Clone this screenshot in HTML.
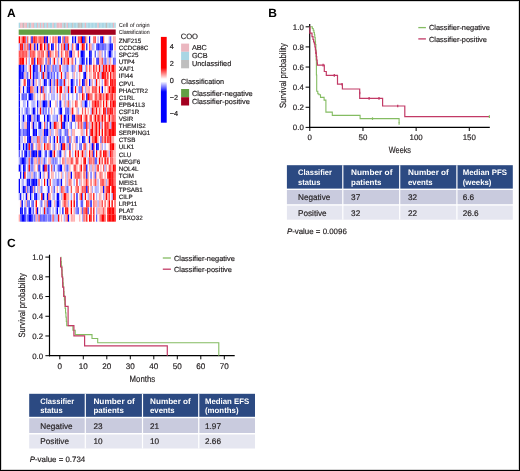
<!DOCTYPE html>
<html><head><meta charset="utf-8"><style>
html,body{margin:0;padding:0;background:#fff;}
svg{display:block;will-change:transform;}
text{font-family:"Liberation Sans",sans-serif;text-rendering:geometricPrecision;}
</style></head><body>
<svg width="520" height="471" viewBox="0 0 520 471">
<rect x="0" y="0" width="520" height="471" fill="#fff"/><g fill="#231f20">
<text x="7.00" y="16.90" font-size="12" font-weight="bold" fill="#000">A</text>
<text x="268.30" y="16.90" font-size="12" font-weight="bold" fill="#000">B</text>
<text x="6.90" y="247.30" font-size="12" font-weight="bold" fill="#000">C</text>
<rect x="18.70" y="22.70" width="1.46" height="5.20" fill="#a9d6e4"/>
<rect x="20.11" y="22.70" width="1.46" height="5.20" fill="#ebb7c0"/>
<rect x="21.51" y="22.70" width="1.46" height="5.20" fill="#ebb7c0"/>
<rect x="22.92" y="22.70" width="1.46" height="5.20" fill="#bebebe"/>
<rect x="24.32" y="22.70" width="1.46" height="5.20" fill="#ebb7c0"/>
<rect x="25.73" y="22.70" width="1.46" height="5.20" fill="#ebb7c0"/>
<rect x="27.13" y="22.70" width="1.46" height="5.20" fill="#a9d6e4"/>
<rect x="28.54" y="22.70" width="1.46" height="5.20" fill="#bebebe"/>
<rect x="29.95" y="22.70" width="1.46" height="5.20" fill="#a9d6e4"/>
<rect x="31.35" y="22.70" width="1.46" height="5.20" fill="#ebb7c0"/>
<rect x="32.76" y="22.70" width="1.46" height="5.20" fill="#ebb7c0"/>
<rect x="34.16" y="22.70" width="1.46" height="5.20" fill="#a9d6e4"/>
<rect x="35.57" y="22.70" width="1.46" height="5.20" fill="#a9d6e4"/>
<rect x="36.98" y="22.70" width="1.46" height="5.20" fill="#ebb7c0"/>
<rect x="38.38" y="22.70" width="1.46" height="5.20" fill="#a9d6e4"/>
<rect x="39.79" y="22.70" width="1.46" height="5.20" fill="#ebb7c0"/>
<rect x="41.19" y="22.70" width="1.46" height="5.20" fill="#a9d6e4"/>
<rect x="42.60" y="22.70" width="1.46" height="5.20" fill="#ebb7c0"/>
<rect x="44.00" y="22.70" width="1.46" height="5.20" fill="#a9d6e4"/>
<rect x="45.41" y="22.70" width="1.46" height="5.20" fill="#a9d6e4"/>
<rect x="46.82" y="22.70" width="1.46" height="5.20" fill="#ebb7c0"/>
<rect x="48.22" y="22.70" width="1.46" height="5.20" fill="#a9d6e4"/>
<rect x="49.63" y="22.70" width="1.46" height="5.20" fill="#a9d6e4"/>
<rect x="51.03" y="22.70" width="1.46" height="5.20" fill="#a9d6e4"/>
<rect x="52.44" y="22.70" width="1.46" height="5.20" fill="#ebb7c0"/>
<rect x="53.84" y="22.70" width="1.46" height="5.20" fill="#a9d6e4"/>
<rect x="55.25" y="22.70" width="1.46" height="5.20" fill="#a9d6e4"/>
<rect x="56.66" y="22.70" width="1.46" height="5.20" fill="#ebb7c0"/>
<rect x="58.06" y="22.70" width="1.46" height="5.20" fill="#ebb7c0"/>
<rect x="59.47" y="22.70" width="1.46" height="5.20" fill="#ebb7c0"/>
<rect x="60.87" y="22.70" width="1.46" height="5.20" fill="#ebb7c0"/>
<rect x="62.28" y="22.70" width="1.46" height="5.20" fill="#a9d6e4"/>
<rect x="63.69" y="22.70" width="1.46" height="5.20" fill="#bebebe"/>
<rect x="65.09" y="22.70" width="1.46" height="5.20" fill="#a9d6e4"/>
<rect x="66.50" y="22.70" width="1.46" height="5.20" fill="#ebb7c0"/>
<rect x="67.90" y="22.70" width="1.46" height="5.20" fill="#a9d6e4"/>
<rect x="69.31" y="22.70" width="1.46" height="5.20" fill="#a9d6e4"/>
<rect x="70.71" y="22.70" width="1.46" height="5.20" fill="#a9d6e4"/>
<rect x="72.12" y="22.70" width="1.46" height="5.20" fill="#bebebe"/>
<rect x="73.53" y="22.70" width="1.46" height="5.20" fill="#a9d6e4"/>
<rect x="74.93" y="22.70" width="1.46" height="5.20" fill="#a9d6e4"/>
<rect x="76.34" y="22.70" width="1.46" height="5.20" fill="#a9d6e4"/>
<rect x="77.74" y="22.70" width="1.46" height="5.20" fill="#bebebe"/>
<rect x="79.15" y="22.70" width="1.46" height="5.20" fill="#bebebe"/>
<rect x="80.56" y="22.70" width="1.46" height="5.20" fill="#bebebe"/>
<rect x="81.96" y="22.70" width="1.46" height="5.20" fill="#a9d6e4"/>
<rect x="83.37" y="22.70" width="1.46" height="5.20" fill="#a9d6e4"/>
<rect x="84.77" y="22.70" width="1.46" height="5.20" fill="#ebb7c0"/>
<rect x="86.18" y="22.70" width="1.46" height="5.20" fill="#a9d6e4"/>
<rect x="87.58" y="22.70" width="1.46" height="5.20" fill="#a9d6e4"/>
<rect x="88.99" y="22.70" width="1.46" height="5.20" fill="#a9d6e4"/>
<rect x="90.40" y="22.70" width="1.46" height="5.20" fill="#a9d6e4"/>
<rect x="91.80" y="22.70" width="1.46" height="5.20" fill="#a9d6e4"/>
<rect x="93.21" y="22.70" width="1.46" height="5.20" fill="#a9d6e4"/>
<rect x="94.61" y="22.70" width="1.46" height="5.20" fill="#a9d6e4"/>
<rect x="96.02" y="22.70" width="1.46" height="5.20" fill="#a9d6e4"/>
<rect x="97.42" y="22.70" width="1.46" height="5.20" fill="#ebb7c0"/>
<rect x="98.83" y="22.70" width="1.46" height="5.20" fill="#a9d6e4"/>
<rect x="100.24" y="22.70" width="1.46" height="5.20" fill="#a9d6e4"/>
<rect x="101.64" y="22.70" width="1.46" height="5.20" fill="#a9d6e4"/>
<rect x="103.05" y="22.70" width="1.46" height="5.20" fill="#a9d6e4"/>
<rect x="104.45" y="22.70" width="1.46" height="5.20" fill="#a9d6e4"/>
<rect x="105.86" y="22.70" width="1.46" height="5.20" fill="#bebebe"/>
<rect x="107.27" y="22.70" width="1.46" height="5.20" fill="#a9d6e4"/>
<rect x="108.67" y="22.70" width="1.46" height="5.20" fill="#a9d6e4"/>
<rect x="110.08" y="22.70" width="1.46" height="5.20" fill="#a9d6e4"/>
<rect x="111.48" y="22.70" width="1.46" height="5.20" fill="#a9d6e4"/>
<rect x="112.89" y="22.70" width="1.46" height="5.20" fill="#ebb7c0"/>
<rect x="114.29" y="22.70" width="1.46" height="5.20" fill="#a9d6e4"/>
<rect x="18.70" y="29.50" width="52.00" height="5.30" fill="#62a043"/>
<rect x="70.70" y="29.50" width="45.00" height="5.30" fill="#a3001f"/>
<defs><filter id="hb" x="-2%" y="-1%" width="104%" height="102%"><feGaussianBlur stdDeviation="0.35 0.25"/></filter></defs><g filter="url(#hb)">
<rect x="18.70" y="36.30" width="1.47" height="7.19" fill="rgb(255,0,0)"/>
<rect x="20.11" y="36.30" width="1.47" height="7.19" fill="rgb(255,170,170)"/>
<rect x="21.51" y="36.30" width="1.47" height="7.19" fill="rgb(255,85,85)"/>
<rect x="22.92" y="36.30" width="1.47" height="7.19" fill="rgb(255,0,0)"/>
<rect x="24.32" y="36.30" width="1.47" height="7.19" fill="rgb(255,0,0)"/>
<rect x="25.73" y="36.30" width="1.47" height="7.19" fill="rgb(175,175,255)"/>
<rect x="27.13" y="36.30" width="1.47" height="7.19" fill="rgb(255,85,85)"/>
<rect x="28.54" y="36.30" width="1.47" height="7.19" fill="rgb(255,250,250)"/>
<rect x="29.95" y="36.30" width="1.47" height="7.19" fill="rgb(255,170,170)"/>
<rect x="31.35" y="36.30" width="1.47" height="7.19" fill="rgb(0,0,255)"/>
<rect x="32.76" y="36.30" width="1.47" height="7.19" fill="rgb(255,85,85)"/>
<rect x="34.16" y="36.30" width="1.47" height="7.19" fill="rgb(255,0,0)"/>
<rect x="35.57" y="36.30" width="1.47" height="7.19" fill="rgb(255,85,85)"/>
<rect x="36.98" y="36.30" width="1.47" height="7.19" fill="rgb(255,170,170)"/>
<rect x="38.38" y="36.30" width="1.47" height="7.19" fill="rgb(255,85,85)"/>
<rect x="39.79" y="36.30" width="1.47" height="7.19" fill="rgb(255,85,85)"/>
<rect x="41.19" y="36.30" width="1.47" height="7.19" fill="rgb(255,85,85)"/>
<rect x="42.60" y="36.30" width="1.47" height="7.19" fill="rgb(255,85,85)"/>
<rect x="44.00" y="36.30" width="1.47" height="7.19" fill="rgb(0,0,255)"/>
<rect x="45.41" y="36.30" width="1.47" height="7.19" fill="rgb(170,0,110)"/>
<rect x="46.82" y="36.30" width="1.47" height="7.19" fill="rgb(0,0,255)"/>
<rect x="48.22" y="36.30" width="1.47" height="7.19" fill="rgb(255,250,250)"/>
<rect x="49.63" y="36.30" width="1.47" height="7.19" fill="rgb(255,170,170)"/>
<rect x="51.03" y="36.30" width="1.47" height="7.19" fill="rgb(255,250,250)"/>
<rect x="52.44" y="36.30" width="1.47" height="7.19" fill="rgb(255,85,85)"/>
<rect x="53.84" y="36.30" width="1.47" height="7.19" fill="rgb(255,170,170)"/>
<rect x="55.25" y="36.30" width="1.47" height="7.19" fill="rgb(255,85,85)"/>
<rect x="56.66" y="36.30" width="1.47" height="7.19" fill="rgb(255,170,170)"/>
<rect x="58.06" y="36.30" width="1.47" height="7.19" fill="rgb(0,0,255)"/>
<rect x="59.47" y="36.30" width="1.47" height="7.19" fill="rgb(0,0,255)"/>
<rect x="60.87" y="36.30" width="1.47" height="7.19" fill="rgb(255,250,250)"/>
<rect x="62.28" y="36.30" width="1.47" height="7.19" fill="rgb(255,85,85)"/>
<rect x="63.69" y="36.30" width="1.47" height="7.19" fill="rgb(95,95,255)"/>
<rect x="65.09" y="36.30" width="1.47" height="7.19" fill="rgb(255,85,85)"/>
<rect x="66.50" y="36.30" width="1.47" height="7.19" fill="rgb(255,85,85)"/>
<rect x="67.90" y="36.30" width="1.47" height="7.19" fill="rgb(255,170,170)"/>
<rect x="69.31" y="36.30" width="1.47" height="7.19" fill="rgb(255,250,250)"/>
<rect x="70.71" y="36.30" width="1.47" height="7.19" fill="rgb(255,250,250)"/>
<rect x="72.12" y="36.30" width="1.47" height="7.19" fill="rgb(0,0,255)"/>
<rect x="73.53" y="36.30" width="1.47" height="7.19" fill="rgb(175,175,255)"/>
<rect x="74.93" y="36.30" width="1.47" height="7.19" fill="rgb(0,0,255)"/>
<rect x="76.34" y="36.30" width="1.47" height="7.19" fill="rgb(255,250,250)"/>
<rect x="77.74" y="36.30" width="1.47" height="7.19" fill="rgb(255,85,85)"/>
<rect x="79.15" y="36.30" width="1.47" height="7.19" fill="rgb(255,85,85)"/>
<rect x="80.56" y="36.30" width="1.47" height="7.19" fill="rgb(255,0,0)"/>
<rect x="81.96" y="36.30" width="1.47" height="7.19" fill="rgb(0,0,255)"/>
<rect x="83.37" y="36.30" width="1.47" height="7.19" fill="rgb(0,0,255)"/>
<rect x="84.77" y="36.30" width="1.47" height="7.19" fill="rgb(255,85,85)"/>
<rect x="86.18" y="36.30" width="1.47" height="7.19" fill="rgb(255,170,170)"/>
<rect x="87.58" y="36.30" width="1.47" height="7.19" fill="rgb(255,250,250)"/>
<rect x="88.99" y="36.30" width="1.47" height="7.19" fill="rgb(0,0,255)"/>
<rect x="90.40" y="36.30" width="1.47" height="7.19" fill="rgb(255,250,250)"/>
<rect x="91.80" y="36.30" width="1.47" height="7.19" fill="rgb(255,250,250)"/>
<rect x="93.21" y="36.30" width="1.47" height="7.19" fill="rgb(255,85,85)"/>
<rect x="94.61" y="36.30" width="1.47" height="7.19" fill="rgb(255,85,85)"/>
<rect x="96.02" y="36.30" width="1.47" height="7.19" fill="rgb(255,250,250)"/>
<rect x="97.42" y="36.30" width="1.47" height="7.19" fill="rgb(175,175,255)"/>
<rect x="98.83" y="36.30" width="1.47" height="7.19" fill="rgb(255,250,250)"/>
<rect x="100.24" y="36.30" width="1.47" height="7.19" fill="rgb(0,0,255)"/>
<rect x="101.64" y="36.30" width="1.47" height="7.19" fill="rgb(0,0,255)"/>
<rect x="103.05" y="36.30" width="1.47" height="7.19" fill="rgb(255,85,85)"/>
<rect x="104.45" y="36.30" width="1.47" height="7.19" fill="rgb(255,250,250)"/>
<rect x="105.86" y="36.30" width="1.47" height="7.19" fill="rgb(255,250,250)"/>
<rect x="107.27" y="36.30" width="1.47" height="7.19" fill="rgb(255,250,250)"/>
<rect x="108.67" y="36.30" width="1.47" height="7.19" fill="rgb(175,175,255)"/>
<rect x="110.08" y="36.30" width="1.47" height="7.19" fill="rgb(95,95,255)"/>
<rect x="111.48" y="36.30" width="1.47" height="7.19" fill="rgb(255,250,250)"/>
<rect x="112.89" y="36.30" width="1.47" height="7.19" fill="rgb(255,170,170)"/>
<rect x="114.29" y="36.30" width="1.47" height="7.19" fill="rgb(255,170,170)"/>
<rect x="18.70" y="43.43" width="1.47" height="7.19" fill="rgb(175,175,255)"/>
<rect x="20.11" y="43.43" width="1.47" height="7.19" fill="rgb(255,0,0)"/>
<rect x="21.51" y="43.43" width="1.47" height="7.19" fill="rgb(255,0,0)"/>
<rect x="22.92" y="43.43" width="1.47" height="7.19" fill="rgb(175,175,255)"/>
<rect x="24.32" y="43.43" width="1.47" height="7.19" fill="rgb(255,85,85)"/>
<rect x="25.73" y="43.43" width="1.47" height="7.19" fill="rgb(255,170,170)"/>
<rect x="27.13" y="43.43" width="1.47" height="7.19" fill="rgb(255,85,85)"/>
<rect x="28.54" y="43.43" width="1.47" height="7.19" fill="rgb(95,95,255)"/>
<rect x="29.95" y="43.43" width="1.47" height="7.19" fill="rgb(255,0,0)"/>
<rect x="31.35" y="43.43" width="1.47" height="7.19" fill="rgb(255,170,170)"/>
<rect x="32.76" y="43.43" width="1.47" height="7.19" fill="rgb(255,170,170)"/>
<rect x="34.16" y="43.43" width="1.47" height="7.19" fill="rgb(0,0,255)"/>
<rect x="35.57" y="43.43" width="1.47" height="7.19" fill="rgb(255,170,170)"/>
<rect x="36.98" y="43.43" width="1.47" height="7.19" fill="rgb(0,0,255)"/>
<rect x="38.38" y="43.43" width="1.47" height="7.19" fill="rgb(255,250,250)"/>
<rect x="39.79" y="43.43" width="1.47" height="7.19" fill="rgb(255,0,0)"/>
<rect x="41.19" y="43.43" width="1.47" height="7.19" fill="rgb(255,0,0)"/>
<rect x="42.60" y="43.43" width="1.47" height="7.19" fill="rgb(255,250,250)"/>
<rect x="44.00" y="43.43" width="1.47" height="7.19" fill="rgb(255,0,0)"/>
<rect x="45.41" y="43.43" width="1.47" height="7.19" fill="rgb(255,170,170)"/>
<rect x="46.82" y="43.43" width="1.47" height="7.19" fill="rgb(95,95,255)"/>
<rect x="48.22" y="43.43" width="1.47" height="7.19" fill="rgb(255,0,0)"/>
<rect x="49.63" y="43.43" width="1.47" height="7.19" fill="rgb(255,250,250)"/>
<rect x="51.03" y="43.43" width="1.47" height="7.19" fill="rgb(0,0,255)"/>
<rect x="52.44" y="43.43" width="1.47" height="7.19" fill="rgb(0,0,255)"/>
<rect x="53.84" y="43.43" width="1.47" height="7.19" fill="rgb(255,250,250)"/>
<rect x="55.25" y="43.43" width="1.47" height="7.19" fill="rgb(255,85,85)"/>
<rect x="56.66" y="43.43" width="1.47" height="7.19" fill="rgb(255,250,250)"/>
<rect x="58.06" y="43.43" width="1.47" height="7.19" fill="rgb(95,95,255)"/>
<rect x="59.47" y="43.43" width="1.47" height="7.19" fill="rgb(255,250,250)"/>
<rect x="60.87" y="43.43" width="1.47" height="7.19" fill="rgb(255,85,85)"/>
<rect x="62.28" y="43.43" width="1.47" height="7.19" fill="rgb(255,170,170)"/>
<rect x="63.69" y="43.43" width="1.47" height="7.19" fill="rgb(255,0,0)"/>
<rect x="65.09" y="43.43" width="1.47" height="7.19" fill="rgb(95,95,255)"/>
<rect x="66.50" y="43.43" width="1.47" height="7.19" fill="rgb(95,95,255)"/>
<rect x="67.90" y="43.43" width="1.47" height="7.19" fill="rgb(255,0,0)"/>
<rect x="69.31" y="43.43" width="1.47" height="7.19" fill="rgb(255,250,250)"/>
<rect x="70.71" y="43.43" width="1.47" height="7.19" fill="rgb(175,175,255)"/>
<rect x="72.12" y="43.43" width="1.47" height="7.19" fill="rgb(255,85,85)"/>
<rect x="73.53" y="43.43" width="1.47" height="7.19" fill="rgb(255,250,250)"/>
<rect x="74.93" y="43.43" width="1.47" height="7.19" fill="rgb(255,170,170)"/>
<rect x="76.34" y="43.43" width="1.47" height="7.19" fill="rgb(0,0,255)"/>
<rect x="77.74" y="43.43" width="1.47" height="7.19" fill="rgb(0,0,255)"/>
<rect x="79.15" y="43.43" width="1.47" height="7.19" fill="rgb(255,250,250)"/>
<rect x="80.56" y="43.43" width="1.47" height="7.19" fill="rgb(255,170,170)"/>
<rect x="81.96" y="43.43" width="1.47" height="7.19" fill="rgb(255,0,0)"/>
<rect x="83.37" y="43.43" width="1.47" height="7.19" fill="rgb(255,0,0)"/>
<rect x="84.77" y="43.43" width="1.47" height="7.19" fill="rgb(255,250,250)"/>
<rect x="86.18" y="43.43" width="1.47" height="7.19" fill="rgb(0,0,255)"/>
<rect x="87.58" y="43.43" width="1.47" height="7.19" fill="rgb(255,250,250)"/>
<rect x="88.99" y="43.43" width="1.47" height="7.19" fill="rgb(255,85,85)"/>
<rect x="90.40" y="43.43" width="1.47" height="7.19" fill="rgb(255,170,170)"/>
<rect x="91.80" y="43.43" width="1.47" height="7.19" fill="rgb(175,175,255)"/>
<rect x="93.21" y="43.43" width="1.47" height="7.19" fill="rgb(175,175,255)"/>
<rect x="94.61" y="43.43" width="1.47" height="7.19" fill="rgb(255,250,250)"/>
<rect x="96.02" y="43.43" width="1.47" height="7.19" fill="rgb(95,95,255)"/>
<rect x="97.42" y="43.43" width="1.47" height="7.19" fill="rgb(0,0,255)"/>
<rect x="98.83" y="43.43" width="1.47" height="7.19" fill="rgb(95,95,255)"/>
<rect x="100.24" y="43.43" width="1.47" height="7.19" fill="rgb(95,95,255)"/>
<rect x="101.64" y="43.43" width="1.47" height="7.19" fill="rgb(95,95,255)"/>
<rect x="103.05" y="43.43" width="1.47" height="7.19" fill="rgb(95,95,255)"/>
<rect x="104.45" y="43.43" width="1.47" height="7.19" fill="rgb(95,95,255)"/>
<rect x="105.86" y="43.43" width="1.47" height="7.19" fill="rgb(175,175,255)"/>
<rect x="107.27" y="43.43" width="1.47" height="7.19" fill="rgb(175,175,255)"/>
<rect x="108.67" y="43.43" width="1.47" height="7.19" fill="rgb(95,95,255)"/>
<rect x="110.08" y="43.43" width="1.47" height="7.19" fill="rgb(0,0,255)"/>
<rect x="111.48" y="43.43" width="1.47" height="7.19" fill="rgb(0,0,255)"/>
<rect x="112.89" y="43.43" width="1.47" height="7.19" fill="rgb(255,250,250)"/>
<rect x="114.29" y="43.43" width="1.47" height="7.19" fill="rgb(255,170,170)"/>
<rect x="18.70" y="50.55" width="1.47" height="7.19" fill="rgb(255,85,85)"/>
<rect x="20.11" y="50.55" width="1.47" height="7.19" fill="rgb(255,85,85)"/>
<rect x="21.51" y="50.55" width="1.47" height="7.19" fill="rgb(255,85,85)"/>
<rect x="22.92" y="50.55" width="1.47" height="7.19" fill="rgb(255,85,85)"/>
<rect x="24.32" y="50.55" width="1.47" height="7.19" fill="rgb(255,85,85)"/>
<rect x="25.73" y="50.55" width="1.47" height="7.19" fill="rgb(255,85,85)"/>
<rect x="27.13" y="50.55" width="1.47" height="7.19" fill="rgb(255,170,170)"/>
<rect x="28.54" y="50.55" width="1.47" height="7.19" fill="rgb(175,175,255)"/>
<rect x="29.95" y="50.55" width="1.47" height="7.19" fill="rgb(255,85,85)"/>
<rect x="31.35" y="50.55" width="1.47" height="7.19" fill="rgb(255,85,85)"/>
<rect x="32.76" y="50.55" width="1.47" height="7.19" fill="rgb(255,85,85)"/>
<rect x="34.16" y="50.55" width="1.47" height="7.19" fill="rgb(255,85,85)"/>
<rect x="35.57" y="50.55" width="1.47" height="7.19" fill="rgb(255,250,250)"/>
<rect x="36.98" y="50.55" width="1.47" height="7.19" fill="rgb(255,170,170)"/>
<rect x="38.38" y="50.55" width="1.47" height="7.19" fill="rgb(255,85,85)"/>
<rect x="39.79" y="50.55" width="1.47" height="7.19" fill="rgb(255,170,170)"/>
<rect x="41.19" y="50.55" width="1.47" height="7.19" fill="rgb(255,85,85)"/>
<rect x="42.60" y="50.55" width="1.47" height="7.19" fill="rgb(255,85,85)"/>
<rect x="44.00" y="50.55" width="1.47" height="7.19" fill="rgb(255,250,250)"/>
<rect x="45.41" y="50.55" width="1.47" height="7.19" fill="rgb(255,170,170)"/>
<rect x="46.82" y="50.55" width="1.47" height="7.19" fill="rgb(255,85,85)"/>
<rect x="48.22" y="50.55" width="1.47" height="7.19" fill="rgb(0,0,255)"/>
<rect x="49.63" y="50.55" width="1.47" height="7.19" fill="rgb(255,85,85)"/>
<rect x="51.03" y="50.55" width="1.47" height="7.19" fill="rgb(255,170,170)"/>
<rect x="52.44" y="50.55" width="1.47" height="7.19" fill="rgb(255,170,170)"/>
<rect x="53.84" y="50.55" width="1.47" height="7.19" fill="rgb(255,250,250)"/>
<rect x="55.25" y="50.55" width="1.47" height="7.19" fill="rgb(255,85,85)"/>
<rect x="56.66" y="50.55" width="1.47" height="7.19" fill="rgb(255,170,170)"/>
<rect x="58.06" y="50.55" width="1.47" height="7.19" fill="rgb(95,95,255)"/>
<rect x="59.47" y="50.55" width="1.47" height="7.19" fill="rgb(255,250,250)"/>
<rect x="60.87" y="50.55" width="1.47" height="7.19" fill="rgb(255,85,85)"/>
<rect x="62.28" y="50.55" width="1.47" height="7.19" fill="rgb(255,170,170)"/>
<rect x="63.69" y="50.55" width="1.47" height="7.19" fill="rgb(255,250,250)"/>
<rect x="65.09" y="50.55" width="1.47" height="7.19" fill="rgb(255,85,85)"/>
<rect x="66.50" y="50.55" width="1.47" height="7.19" fill="rgb(255,85,85)"/>
<rect x="67.90" y="50.55" width="1.47" height="7.19" fill="rgb(255,170,170)"/>
<rect x="69.31" y="50.55" width="1.47" height="7.19" fill="rgb(0,0,255)"/>
<rect x="70.71" y="50.55" width="1.47" height="7.19" fill="rgb(0,0,255)"/>
<rect x="72.12" y="50.55" width="1.47" height="7.19" fill="rgb(255,170,170)"/>
<rect x="73.53" y="50.55" width="1.47" height="7.19" fill="rgb(255,170,170)"/>
<rect x="74.93" y="50.55" width="1.47" height="7.19" fill="rgb(255,250,250)"/>
<rect x="76.34" y="50.55" width="1.47" height="7.19" fill="rgb(255,250,250)"/>
<rect x="77.74" y="50.55" width="1.47" height="7.19" fill="rgb(255,85,85)"/>
<rect x="79.15" y="50.55" width="1.47" height="7.19" fill="rgb(255,250,250)"/>
<rect x="80.56" y="50.55" width="1.47" height="7.19" fill="rgb(0,0,255)"/>
<rect x="81.96" y="50.55" width="1.47" height="7.19" fill="rgb(0,0,255)"/>
<rect x="83.37" y="50.55" width="1.47" height="7.19" fill="rgb(0,0,255)"/>
<rect x="84.77" y="50.55" width="1.47" height="7.19" fill="rgb(255,250,250)"/>
<rect x="86.18" y="50.55" width="1.47" height="7.19" fill="rgb(255,250,250)"/>
<rect x="87.58" y="50.55" width="1.47" height="7.19" fill="rgb(255,250,250)"/>
<rect x="88.99" y="50.55" width="1.47" height="7.19" fill="rgb(0,0,255)"/>
<rect x="90.40" y="50.55" width="1.47" height="7.19" fill="rgb(0,0,255)"/>
<rect x="91.80" y="50.55" width="1.47" height="7.19" fill="rgb(255,250,250)"/>
<rect x="93.21" y="50.55" width="1.47" height="7.19" fill="rgb(255,250,250)"/>
<rect x="94.61" y="50.55" width="1.47" height="7.19" fill="rgb(95,95,255)"/>
<rect x="96.02" y="50.55" width="1.47" height="7.19" fill="rgb(255,250,250)"/>
<rect x="97.42" y="50.55" width="1.47" height="7.19" fill="rgb(175,175,255)"/>
<rect x="98.83" y="50.55" width="1.47" height="7.19" fill="rgb(255,170,170)"/>
<rect x="100.24" y="50.55" width="1.47" height="7.19" fill="rgb(255,170,170)"/>
<rect x="101.64" y="50.55" width="1.47" height="7.19" fill="rgb(175,175,255)"/>
<rect x="103.05" y="50.55" width="1.47" height="7.19" fill="rgb(255,250,250)"/>
<rect x="104.45" y="50.55" width="1.47" height="7.19" fill="rgb(95,95,255)"/>
<rect x="105.86" y="50.55" width="1.47" height="7.19" fill="rgb(255,250,250)"/>
<rect x="107.27" y="50.55" width="1.47" height="7.19" fill="rgb(175,175,255)"/>
<rect x="108.67" y="50.55" width="1.47" height="7.19" fill="rgb(0,0,255)"/>
<rect x="110.08" y="50.55" width="1.47" height="7.19" fill="rgb(0,0,255)"/>
<rect x="111.48" y="50.55" width="1.47" height="7.19" fill="rgb(175,175,255)"/>
<rect x="112.89" y="50.55" width="1.47" height="7.19" fill="rgb(255,250,250)"/>
<rect x="114.29" y="50.55" width="1.47" height="7.19" fill="rgb(175,175,255)"/>
<rect x="18.70" y="57.68" width="1.47" height="7.19" fill="rgb(255,85,85)"/>
<rect x="20.11" y="57.68" width="1.47" height="7.19" fill="rgb(255,0,0)"/>
<rect x="21.51" y="57.68" width="1.47" height="7.19" fill="rgb(255,0,0)"/>
<rect x="22.92" y="57.68" width="1.47" height="7.19" fill="rgb(255,0,0)"/>
<rect x="24.32" y="57.68" width="1.47" height="7.19" fill="rgb(255,250,250)"/>
<rect x="25.73" y="57.68" width="1.47" height="7.19" fill="rgb(255,85,85)"/>
<rect x="27.13" y="57.68" width="1.47" height="7.19" fill="rgb(255,250,250)"/>
<rect x="28.54" y="57.68" width="1.47" height="7.19" fill="rgb(175,175,255)"/>
<rect x="29.95" y="57.68" width="1.47" height="7.19" fill="rgb(255,250,250)"/>
<rect x="31.35" y="57.68" width="1.47" height="7.19" fill="rgb(255,0,0)"/>
<rect x="32.76" y="57.68" width="1.47" height="7.19" fill="rgb(255,85,85)"/>
<rect x="34.16" y="57.68" width="1.47" height="7.19" fill="rgb(0,0,255)"/>
<rect x="35.57" y="57.68" width="1.47" height="7.19" fill="rgb(255,250,250)"/>
<rect x="36.98" y="57.68" width="1.47" height="7.19" fill="rgb(255,0,0)"/>
<rect x="38.38" y="57.68" width="1.47" height="7.19" fill="rgb(255,85,85)"/>
<rect x="39.79" y="57.68" width="1.47" height="7.19" fill="rgb(255,85,85)"/>
<rect x="41.19" y="57.68" width="1.47" height="7.19" fill="rgb(255,85,85)"/>
<rect x="42.60" y="57.68" width="1.47" height="7.19" fill="rgb(255,170,170)"/>
<rect x="44.00" y="57.68" width="1.47" height="7.19" fill="rgb(255,250,250)"/>
<rect x="45.41" y="57.68" width="1.47" height="7.19" fill="rgb(95,95,255)"/>
<rect x="46.82" y="57.68" width="1.47" height="7.19" fill="rgb(255,170,170)"/>
<rect x="48.22" y="57.68" width="1.47" height="7.19" fill="rgb(255,85,85)"/>
<rect x="49.63" y="57.68" width="1.47" height="7.19" fill="rgb(95,95,255)"/>
<rect x="51.03" y="57.68" width="1.47" height="7.19" fill="rgb(255,250,250)"/>
<rect x="52.44" y="57.68" width="1.47" height="7.19" fill="rgb(255,170,170)"/>
<rect x="53.84" y="57.68" width="1.47" height="7.19" fill="rgb(255,0,0)"/>
<rect x="55.25" y="57.68" width="1.47" height="7.19" fill="rgb(255,250,250)"/>
<rect x="56.66" y="57.68" width="1.47" height="7.19" fill="rgb(175,175,255)"/>
<rect x="58.06" y="57.68" width="1.47" height="7.19" fill="rgb(255,170,170)"/>
<rect x="59.47" y="57.68" width="1.47" height="7.19" fill="rgb(255,250,250)"/>
<rect x="60.87" y="57.68" width="1.47" height="7.19" fill="rgb(0,0,255)"/>
<rect x="62.28" y="57.68" width="1.47" height="7.19" fill="rgb(255,170,170)"/>
<rect x="63.69" y="57.68" width="1.47" height="7.19" fill="rgb(255,85,85)"/>
<rect x="65.09" y="57.68" width="1.47" height="7.19" fill="rgb(255,170,170)"/>
<rect x="66.50" y="57.68" width="1.47" height="7.19" fill="rgb(255,85,85)"/>
<rect x="67.90" y="57.68" width="1.47" height="7.19" fill="rgb(255,0,0)"/>
<rect x="69.31" y="57.68" width="1.47" height="7.19" fill="rgb(255,250,250)"/>
<rect x="70.71" y="57.68" width="1.47" height="7.19" fill="rgb(255,170,170)"/>
<rect x="72.12" y="57.68" width="1.47" height="7.19" fill="rgb(255,85,85)"/>
<rect x="73.53" y="57.68" width="1.47" height="7.19" fill="rgb(255,250,250)"/>
<rect x="74.93" y="57.68" width="1.47" height="7.19" fill="rgb(95,95,255)"/>
<rect x="76.34" y="57.68" width="1.47" height="7.19" fill="rgb(255,250,250)"/>
<rect x="77.74" y="57.68" width="1.47" height="7.19" fill="rgb(255,250,250)"/>
<rect x="79.15" y="57.68" width="1.47" height="7.19" fill="rgb(175,175,255)"/>
<rect x="80.56" y="57.68" width="1.47" height="7.19" fill="rgb(95,95,255)"/>
<rect x="81.96" y="57.68" width="1.47" height="7.19" fill="rgb(0,0,255)"/>
<rect x="83.37" y="57.68" width="1.47" height="7.19" fill="rgb(0,0,255)"/>
<rect x="84.77" y="57.68" width="1.47" height="7.19" fill="rgb(255,250,250)"/>
<rect x="86.18" y="57.68" width="1.47" height="7.19" fill="rgb(0,0,255)"/>
<rect x="87.58" y="57.68" width="1.47" height="7.19" fill="rgb(255,250,250)"/>
<rect x="88.99" y="57.68" width="1.47" height="7.19" fill="rgb(0,0,255)"/>
<rect x="90.40" y="57.68" width="1.47" height="7.19" fill="rgb(0,0,255)"/>
<rect x="91.80" y="57.68" width="1.47" height="7.19" fill="rgb(255,250,250)"/>
<rect x="93.21" y="57.68" width="1.47" height="7.19" fill="rgb(255,170,170)"/>
<rect x="94.61" y="57.68" width="1.47" height="7.19" fill="rgb(255,250,250)"/>
<rect x="96.02" y="57.68" width="1.47" height="7.19" fill="rgb(95,95,255)"/>
<rect x="97.42" y="57.68" width="1.47" height="7.19" fill="rgb(0,0,255)"/>
<rect x="98.83" y="57.68" width="1.47" height="7.19" fill="rgb(255,170,170)"/>
<rect x="100.24" y="57.68" width="1.47" height="7.19" fill="rgb(255,170,170)"/>
<rect x="101.64" y="57.68" width="1.47" height="7.19" fill="rgb(255,85,85)"/>
<rect x="103.05" y="57.68" width="1.47" height="7.19" fill="rgb(175,175,255)"/>
<rect x="104.45" y="57.68" width="1.47" height="7.19" fill="rgb(95,95,255)"/>
<rect x="105.86" y="57.68" width="1.47" height="7.19" fill="rgb(175,175,255)"/>
<rect x="107.27" y="57.68" width="1.47" height="7.19" fill="rgb(255,170,170)"/>
<rect x="108.67" y="57.68" width="1.47" height="7.19" fill="rgb(175,175,255)"/>
<rect x="110.08" y="57.68" width="1.47" height="7.19" fill="rgb(255,170,170)"/>
<rect x="111.48" y="57.68" width="1.47" height="7.19" fill="rgb(255,250,250)"/>
<rect x="112.89" y="57.68" width="1.47" height="7.19" fill="rgb(95,95,255)"/>
<rect x="114.29" y="57.68" width="1.47" height="7.19" fill="rgb(95,95,255)"/>
<rect x="18.70" y="64.81" width="1.47" height="7.19" fill="rgb(0,0,255)"/>
<rect x="20.11" y="64.81" width="1.47" height="7.19" fill="rgb(0,0,255)"/>
<rect x="21.51" y="64.81" width="1.47" height="7.19" fill="rgb(95,95,255)"/>
<rect x="22.92" y="64.81" width="1.47" height="7.19" fill="rgb(0,0,255)"/>
<rect x="24.32" y="64.81" width="1.47" height="7.19" fill="rgb(175,175,255)"/>
<rect x="25.73" y="64.81" width="1.47" height="7.19" fill="rgb(175,175,255)"/>
<rect x="27.13" y="64.81" width="1.47" height="7.19" fill="rgb(255,250,250)"/>
<rect x="28.54" y="64.81" width="1.47" height="7.19" fill="rgb(255,170,170)"/>
<rect x="29.95" y="64.81" width="1.47" height="7.19" fill="rgb(255,0,0)"/>
<rect x="31.35" y="64.81" width="1.47" height="7.19" fill="rgb(255,250,250)"/>
<rect x="32.76" y="64.81" width="1.47" height="7.19" fill="rgb(0,0,255)"/>
<rect x="34.16" y="64.81" width="1.47" height="7.19" fill="rgb(0,0,255)"/>
<rect x="35.57" y="64.81" width="1.47" height="7.19" fill="rgb(95,95,255)"/>
<rect x="36.98" y="64.81" width="1.47" height="7.19" fill="rgb(95,95,255)"/>
<rect x="38.38" y="64.81" width="1.47" height="7.19" fill="rgb(255,250,250)"/>
<rect x="39.79" y="64.81" width="1.47" height="7.19" fill="rgb(255,0,0)"/>
<rect x="41.19" y="64.81" width="1.47" height="7.19" fill="rgb(95,95,255)"/>
<rect x="42.60" y="64.81" width="1.47" height="7.19" fill="rgb(255,250,250)"/>
<rect x="44.00" y="64.81" width="1.47" height="7.19" fill="rgb(0,0,255)"/>
<rect x="45.41" y="64.81" width="1.47" height="7.19" fill="rgb(255,170,170)"/>
<rect x="46.82" y="64.81" width="1.47" height="7.19" fill="rgb(95,95,255)"/>
<rect x="48.22" y="64.81" width="1.47" height="7.19" fill="rgb(95,95,255)"/>
<rect x="49.63" y="64.81" width="1.47" height="7.19" fill="rgb(175,175,255)"/>
<rect x="51.03" y="64.81" width="1.47" height="7.19" fill="rgb(255,170,170)"/>
<rect x="52.44" y="64.81" width="1.47" height="7.19" fill="rgb(95,95,255)"/>
<rect x="53.84" y="64.81" width="1.47" height="7.19" fill="rgb(175,175,255)"/>
<rect x="55.25" y="64.81" width="1.47" height="7.19" fill="rgb(95,95,255)"/>
<rect x="56.66" y="64.81" width="1.47" height="7.19" fill="rgb(175,175,255)"/>
<rect x="58.06" y="64.81" width="1.47" height="7.19" fill="rgb(175,175,255)"/>
<rect x="59.47" y="64.81" width="1.47" height="7.19" fill="rgb(255,0,0)"/>
<rect x="60.87" y="64.81" width="1.47" height="7.19" fill="rgb(255,250,250)"/>
<rect x="62.28" y="64.81" width="1.47" height="7.19" fill="rgb(175,175,255)"/>
<rect x="63.69" y="64.81" width="1.47" height="7.19" fill="rgb(175,175,255)"/>
<rect x="65.09" y="64.81" width="1.47" height="7.19" fill="rgb(175,175,255)"/>
<rect x="66.50" y="64.81" width="1.47" height="7.19" fill="rgb(95,95,255)"/>
<rect x="67.90" y="64.81" width="1.47" height="7.19" fill="rgb(175,175,255)"/>
<rect x="69.31" y="64.81" width="1.47" height="7.19" fill="rgb(255,250,250)"/>
<rect x="70.71" y="64.81" width="1.47" height="7.19" fill="rgb(175,175,255)"/>
<rect x="72.12" y="64.81" width="1.47" height="7.19" fill="rgb(95,95,255)"/>
<rect x="73.53" y="64.81" width="1.47" height="7.19" fill="rgb(175,175,255)"/>
<rect x="74.93" y="64.81" width="1.47" height="7.19" fill="rgb(255,170,170)"/>
<rect x="76.34" y="64.81" width="1.47" height="7.19" fill="rgb(255,250,250)"/>
<rect x="77.74" y="64.81" width="1.47" height="7.19" fill="rgb(175,175,255)"/>
<rect x="79.15" y="64.81" width="1.47" height="7.19" fill="rgb(255,0,0)"/>
<rect x="80.56" y="64.81" width="1.47" height="7.19" fill="rgb(255,0,0)"/>
<rect x="81.96" y="64.81" width="1.47" height="7.19" fill="rgb(175,175,255)"/>
<rect x="83.37" y="64.81" width="1.47" height="7.19" fill="rgb(255,250,250)"/>
<rect x="84.77" y="64.81" width="1.47" height="7.19" fill="rgb(175,175,255)"/>
<rect x="86.18" y="64.81" width="1.47" height="7.19" fill="rgb(255,85,85)"/>
<rect x="87.58" y="64.81" width="1.47" height="7.19" fill="rgb(255,250,250)"/>
<rect x="88.99" y="64.81" width="1.47" height="7.19" fill="rgb(255,85,85)"/>
<rect x="90.40" y="64.81" width="1.47" height="7.19" fill="rgb(255,170,170)"/>
<rect x="91.80" y="64.81" width="1.47" height="7.19" fill="rgb(255,250,250)"/>
<rect x="93.21" y="64.81" width="1.47" height="7.19" fill="rgb(255,0,0)"/>
<rect x="94.61" y="64.81" width="1.47" height="7.19" fill="rgb(255,170,170)"/>
<rect x="96.02" y="64.81" width="1.47" height="7.19" fill="rgb(255,85,85)"/>
<rect x="97.42" y="64.81" width="1.47" height="7.19" fill="rgb(255,250,250)"/>
<rect x="98.83" y="64.81" width="1.47" height="7.19" fill="rgb(255,0,0)"/>
<rect x="100.24" y="64.81" width="1.47" height="7.19" fill="rgb(255,170,170)"/>
<rect x="101.64" y="64.81" width="1.47" height="7.19" fill="rgb(175,175,255)"/>
<rect x="103.05" y="64.81" width="1.47" height="7.19" fill="rgb(255,0,0)"/>
<rect x="104.45" y="64.81" width="1.47" height="7.19" fill="rgb(255,85,85)"/>
<rect x="105.86" y="64.81" width="1.47" height="7.19" fill="rgb(255,0,0)"/>
<rect x="107.27" y="64.81" width="1.47" height="7.19" fill="rgb(255,170,170)"/>
<rect x="108.67" y="64.81" width="1.47" height="7.19" fill="rgb(255,0,0)"/>
<rect x="110.08" y="64.81" width="1.47" height="7.19" fill="rgb(255,170,170)"/>
<rect x="111.48" y="64.81" width="1.47" height="7.19" fill="rgb(255,0,0)"/>
<rect x="112.89" y="64.81" width="1.47" height="7.19" fill="rgb(255,0,0)"/>
<rect x="114.29" y="64.81" width="1.47" height="7.19" fill="rgb(255,85,85)"/>
<rect x="18.70" y="71.93" width="1.47" height="7.19" fill="rgb(0,0,255)"/>
<rect x="20.11" y="71.93" width="1.47" height="7.19" fill="rgb(0,0,255)"/>
<rect x="21.51" y="71.93" width="1.47" height="7.19" fill="rgb(0,0,255)"/>
<rect x="22.92" y="71.93" width="1.47" height="7.19" fill="rgb(95,95,255)"/>
<rect x="24.32" y="71.93" width="1.47" height="7.19" fill="rgb(255,170,170)"/>
<rect x="25.73" y="71.93" width="1.47" height="7.19" fill="rgb(175,175,255)"/>
<rect x="27.13" y="71.93" width="1.47" height="7.19" fill="rgb(95,95,255)"/>
<rect x="28.54" y="71.93" width="1.47" height="7.19" fill="rgb(255,250,250)"/>
<rect x="29.95" y="71.93" width="1.47" height="7.19" fill="rgb(255,0,0)"/>
<rect x="31.35" y="71.93" width="1.47" height="7.19" fill="rgb(255,250,250)"/>
<rect x="32.76" y="71.93" width="1.47" height="7.19" fill="rgb(0,0,255)"/>
<rect x="34.16" y="71.93" width="1.47" height="7.19" fill="rgb(95,95,255)"/>
<rect x="35.57" y="71.93" width="1.47" height="7.19" fill="rgb(95,95,255)"/>
<rect x="36.98" y="71.93" width="1.47" height="7.19" fill="rgb(95,95,255)"/>
<rect x="38.38" y="71.93" width="1.47" height="7.19" fill="rgb(175,175,255)"/>
<rect x="39.79" y="71.93" width="1.47" height="7.19" fill="rgb(255,250,250)"/>
<rect x="41.19" y="71.93" width="1.47" height="7.19" fill="rgb(95,95,255)"/>
<rect x="42.60" y="71.93" width="1.47" height="7.19" fill="rgb(255,0,0)"/>
<rect x="44.00" y="71.93" width="1.47" height="7.19" fill="rgb(175,175,255)"/>
<rect x="45.41" y="71.93" width="1.47" height="7.19" fill="rgb(255,170,170)"/>
<rect x="46.82" y="71.93" width="1.47" height="7.19" fill="rgb(95,95,255)"/>
<rect x="48.22" y="71.93" width="1.47" height="7.19" fill="rgb(0,0,255)"/>
<rect x="49.63" y="71.93" width="1.47" height="7.19" fill="rgb(175,175,255)"/>
<rect x="51.03" y="71.93" width="1.47" height="7.19" fill="rgb(95,95,255)"/>
<rect x="52.44" y="71.93" width="1.47" height="7.19" fill="rgb(175,175,255)"/>
<rect x="53.84" y="71.93" width="1.47" height="7.19" fill="rgb(95,95,255)"/>
<rect x="55.25" y="71.93" width="1.47" height="7.19" fill="rgb(255,250,250)"/>
<rect x="56.66" y="71.93" width="1.47" height="7.19" fill="rgb(95,95,255)"/>
<rect x="58.06" y="71.93" width="1.47" height="7.19" fill="rgb(175,175,255)"/>
<rect x="59.47" y="71.93" width="1.47" height="7.19" fill="rgb(255,250,250)"/>
<rect x="60.87" y="71.93" width="1.47" height="7.19" fill="rgb(255,0,0)"/>
<rect x="62.28" y="71.93" width="1.47" height="7.19" fill="rgb(255,250,250)"/>
<rect x="63.69" y="71.93" width="1.47" height="7.19" fill="rgb(175,175,255)"/>
<rect x="65.09" y="71.93" width="1.47" height="7.19" fill="rgb(95,95,255)"/>
<rect x="66.50" y="71.93" width="1.47" height="7.19" fill="rgb(255,170,170)"/>
<rect x="67.90" y="71.93" width="1.47" height="7.19" fill="rgb(255,170,170)"/>
<rect x="69.31" y="71.93" width="1.47" height="7.19" fill="rgb(255,250,250)"/>
<rect x="70.71" y="71.93" width="1.47" height="7.19" fill="rgb(255,250,250)"/>
<rect x="72.12" y="71.93" width="1.47" height="7.19" fill="rgb(175,175,255)"/>
<rect x="73.53" y="71.93" width="1.47" height="7.19" fill="rgb(255,170,170)"/>
<rect x="74.93" y="71.93" width="1.47" height="7.19" fill="rgb(255,250,250)"/>
<rect x="76.34" y="71.93" width="1.47" height="7.19" fill="rgb(175,175,255)"/>
<rect x="77.74" y="71.93" width="1.47" height="7.19" fill="rgb(255,250,250)"/>
<rect x="79.15" y="71.93" width="1.47" height="7.19" fill="rgb(255,170,170)"/>
<rect x="80.56" y="71.93" width="1.47" height="7.19" fill="rgb(255,250,250)"/>
<rect x="81.96" y="71.93" width="1.47" height="7.19" fill="rgb(255,250,250)"/>
<rect x="83.37" y="71.93" width="1.47" height="7.19" fill="rgb(0,0,255)"/>
<rect x="84.77" y="71.93" width="1.47" height="7.19" fill="rgb(0,0,255)"/>
<rect x="86.18" y="71.93" width="1.47" height="7.19" fill="rgb(255,170,170)"/>
<rect x="87.58" y="71.93" width="1.47" height="7.19" fill="rgb(255,250,250)"/>
<rect x="88.99" y="71.93" width="1.47" height="7.19" fill="rgb(255,170,170)"/>
<rect x="90.40" y="71.93" width="1.47" height="7.19" fill="rgb(255,170,170)"/>
<rect x="91.80" y="71.93" width="1.47" height="7.19" fill="rgb(255,250,250)"/>
<rect x="93.21" y="71.93" width="1.47" height="7.19" fill="rgb(255,85,85)"/>
<rect x="94.61" y="71.93" width="1.47" height="7.19" fill="rgb(255,85,85)"/>
<rect x="96.02" y="71.93" width="1.47" height="7.19" fill="rgb(255,250,250)"/>
<rect x="97.42" y="71.93" width="1.47" height="7.19" fill="rgb(255,0,0)"/>
<rect x="98.83" y="71.93" width="1.47" height="7.19" fill="rgb(255,170,170)"/>
<rect x="100.24" y="71.93" width="1.47" height="7.19" fill="rgb(175,175,255)"/>
<rect x="101.64" y="71.93" width="1.47" height="7.19" fill="rgb(255,0,0)"/>
<rect x="103.05" y="71.93" width="1.47" height="7.19" fill="rgb(255,0,0)"/>
<rect x="104.45" y="71.93" width="1.47" height="7.19" fill="rgb(255,0,0)"/>
<rect x="105.86" y="71.93" width="1.47" height="7.19" fill="rgb(255,170,170)"/>
<rect x="107.27" y="71.93" width="1.47" height="7.19" fill="rgb(255,0,0)"/>
<rect x="108.67" y="71.93" width="1.47" height="7.19" fill="rgb(255,250,250)"/>
<rect x="110.08" y="71.93" width="1.47" height="7.19" fill="rgb(255,0,0)"/>
<rect x="111.48" y="71.93" width="1.47" height="7.19" fill="rgb(255,170,170)"/>
<rect x="112.89" y="71.93" width="1.47" height="7.19" fill="rgb(255,85,85)"/>
<rect x="114.29" y="71.93" width="1.47" height="7.19" fill="rgb(255,85,85)"/>
<rect x="18.70" y="79.06" width="1.47" height="7.19" fill="rgb(0,0,255)"/>
<rect x="20.11" y="79.06" width="1.47" height="7.19" fill="rgb(175,175,255)"/>
<rect x="21.51" y="79.06" width="1.47" height="7.19" fill="rgb(255,250,250)"/>
<rect x="22.92" y="79.06" width="1.47" height="7.19" fill="rgb(255,170,170)"/>
<rect x="24.32" y="79.06" width="1.47" height="7.19" fill="rgb(255,0,0)"/>
<rect x="25.73" y="79.06" width="1.47" height="7.19" fill="rgb(255,250,250)"/>
<rect x="27.13" y="79.06" width="1.47" height="7.19" fill="rgb(0,0,255)"/>
<rect x="28.54" y="79.06" width="1.47" height="7.19" fill="rgb(0,0,255)"/>
<rect x="29.95" y="79.06" width="1.47" height="7.19" fill="rgb(175,175,255)"/>
<rect x="31.35" y="79.06" width="1.47" height="7.19" fill="rgb(255,170,170)"/>
<rect x="32.76" y="79.06" width="1.47" height="7.19" fill="rgb(0,0,255)"/>
<rect x="34.16" y="79.06" width="1.47" height="7.19" fill="rgb(175,175,255)"/>
<rect x="35.57" y="79.06" width="1.47" height="7.19" fill="rgb(255,170,170)"/>
<rect x="36.98" y="79.06" width="1.47" height="7.19" fill="rgb(255,250,250)"/>
<rect x="38.38" y="79.06" width="1.47" height="7.19" fill="rgb(175,175,255)"/>
<rect x="39.79" y="79.06" width="1.47" height="7.19" fill="rgb(255,170,170)"/>
<rect x="41.19" y="79.06" width="1.47" height="7.19" fill="rgb(255,250,250)"/>
<rect x="42.60" y="79.06" width="1.47" height="7.19" fill="rgb(175,175,255)"/>
<rect x="44.00" y="79.06" width="1.47" height="7.19" fill="rgb(0,0,255)"/>
<rect x="45.41" y="79.06" width="1.47" height="7.19" fill="rgb(0,0,255)"/>
<rect x="46.82" y="79.06" width="1.47" height="7.19" fill="rgb(255,250,250)"/>
<rect x="48.22" y="79.06" width="1.47" height="7.19" fill="rgb(175,175,255)"/>
<rect x="49.63" y="79.06" width="1.47" height="7.19" fill="rgb(0,0,255)"/>
<rect x="51.03" y="79.06" width="1.47" height="7.19" fill="rgb(255,170,170)"/>
<rect x="52.44" y="79.06" width="1.47" height="7.19" fill="rgb(175,175,255)"/>
<rect x="53.84" y="79.06" width="1.47" height="7.19" fill="rgb(95,95,255)"/>
<rect x="55.25" y="79.06" width="1.47" height="7.19" fill="rgb(255,170,170)"/>
<rect x="56.66" y="79.06" width="1.47" height="7.19" fill="rgb(255,0,0)"/>
<rect x="58.06" y="79.06" width="1.47" height="7.19" fill="rgb(175,175,255)"/>
<rect x="59.47" y="79.06" width="1.47" height="7.19" fill="rgb(95,95,255)"/>
<rect x="60.87" y="79.06" width="1.47" height="7.19" fill="rgb(95,95,255)"/>
<rect x="62.28" y="79.06" width="1.47" height="7.19" fill="rgb(175,175,255)"/>
<rect x="63.69" y="79.06" width="1.47" height="7.19" fill="rgb(255,0,0)"/>
<rect x="65.09" y="79.06" width="1.47" height="7.19" fill="rgb(175,175,255)"/>
<rect x="66.50" y="79.06" width="1.47" height="7.19" fill="rgb(255,250,250)"/>
<rect x="67.90" y="79.06" width="1.47" height="7.19" fill="rgb(255,170,170)"/>
<rect x="69.31" y="79.06" width="1.47" height="7.19" fill="rgb(255,250,250)"/>
<rect x="70.71" y="79.06" width="1.47" height="7.19" fill="rgb(0,0,255)"/>
<rect x="72.12" y="79.06" width="1.47" height="7.19" fill="rgb(0,0,255)"/>
<rect x="73.53" y="79.06" width="1.47" height="7.19" fill="rgb(175,175,255)"/>
<rect x="74.93" y="79.06" width="1.47" height="7.19" fill="rgb(255,250,250)"/>
<rect x="76.34" y="79.06" width="1.47" height="7.19" fill="rgb(95,95,255)"/>
<rect x="77.74" y="79.06" width="1.47" height="7.19" fill="rgb(255,250,250)"/>
<rect x="79.15" y="79.06" width="1.47" height="7.19" fill="rgb(255,85,85)"/>
<rect x="80.56" y="79.06" width="1.47" height="7.19" fill="rgb(255,250,250)"/>
<rect x="81.96" y="79.06" width="1.47" height="7.19" fill="rgb(0,0,255)"/>
<rect x="83.37" y="79.06" width="1.47" height="7.19" fill="rgb(0,0,255)"/>
<rect x="84.77" y="79.06" width="1.47" height="7.19" fill="rgb(255,170,170)"/>
<rect x="86.18" y="79.06" width="1.47" height="7.19" fill="rgb(255,85,85)"/>
<rect x="87.58" y="79.06" width="1.47" height="7.19" fill="rgb(255,250,250)"/>
<rect x="88.99" y="79.06" width="1.47" height="7.19" fill="rgb(0,0,255)"/>
<rect x="90.40" y="79.06" width="1.47" height="7.19" fill="rgb(175,175,255)"/>
<rect x="91.80" y="79.06" width="1.47" height="7.19" fill="rgb(255,170,170)"/>
<rect x="93.21" y="79.06" width="1.47" height="7.19" fill="rgb(255,250,250)"/>
<rect x="94.61" y="79.06" width="1.47" height="7.19" fill="rgb(175,175,255)"/>
<rect x="96.02" y="79.06" width="1.47" height="7.19" fill="rgb(255,0,0)"/>
<rect x="97.42" y="79.06" width="1.47" height="7.19" fill="rgb(255,250,250)"/>
<rect x="98.83" y="79.06" width="1.47" height="7.19" fill="rgb(255,170,170)"/>
<rect x="100.24" y="79.06" width="1.47" height="7.19" fill="rgb(255,250,250)"/>
<rect x="101.64" y="79.06" width="1.47" height="7.19" fill="rgb(175,175,255)"/>
<rect x="103.05" y="79.06" width="1.47" height="7.19" fill="rgb(255,250,250)"/>
<rect x="104.45" y="79.06" width="1.47" height="7.19" fill="rgb(255,0,0)"/>
<rect x="105.86" y="79.06" width="1.47" height="7.19" fill="rgb(255,85,85)"/>
<rect x="107.27" y="79.06" width="1.47" height="7.19" fill="rgb(255,85,85)"/>
<rect x="108.67" y="79.06" width="1.47" height="7.19" fill="rgb(255,250,250)"/>
<rect x="110.08" y="79.06" width="1.47" height="7.19" fill="rgb(255,0,0)"/>
<rect x="111.48" y="79.06" width="1.47" height="7.19" fill="rgb(255,0,0)"/>
<rect x="112.89" y="79.06" width="1.47" height="7.19" fill="rgb(255,85,85)"/>
<rect x="114.29" y="79.06" width="1.47" height="7.19" fill="rgb(255,0,0)"/>
<rect x="18.70" y="86.19" width="1.47" height="7.19" fill="rgb(0,0,255)"/>
<rect x="20.11" y="86.19" width="1.47" height="7.19" fill="rgb(255,170,170)"/>
<rect x="21.51" y="86.19" width="1.47" height="7.19" fill="rgb(255,250,250)"/>
<rect x="22.92" y="86.19" width="1.47" height="7.19" fill="rgb(0,0,255)"/>
<rect x="24.32" y="86.19" width="1.47" height="7.19" fill="rgb(255,250,250)"/>
<rect x="25.73" y="86.19" width="1.47" height="7.19" fill="rgb(175,175,255)"/>
<rect x="27.13" y="86.19" width="1.47" height="7.19" fill="rgb(0,0,255)"/>
<rect x="28.54" y="86.19" width="1.47" height="7.19" fill="rgb(0,0,255)"/>
<rect x="29.95" y="86.19" width="1.47" height="7.19" fill="rgb(255,85,85)"/>
<rect x="31.35" y="86.19" width="1.47" height="7.19" fill="rgb(255,85,85)"/>
<rect x="32.76" y="86.19" width="1.47" height="7.19" fill="rgb(255,170,170)"/>
<rect x="34.16" y="86.19" width="1.47" height="7.19" fill="rgb(175,175,255)"/>
<rect x="35.57" y="86.19" width="1.47" height="7.19" fill="rgb(175,175,255)"/>
<rect x="36.98" y="86.19" width="1.47" height="7.19" fill="rgb(0,0,255)"/>
<rect x="38.38" y="86.19" width="1.47" height="7.19" fill="rgb(255,250,250)"/>
<rect x="39.79" y="86.19" width="1.47" height="7.19" fill="rgb(255,85,85)"/>
<rect x="41.19" y="86.19" width="1.47" height="7.19" fill="rgb(0,0,255)"/>
<rect x="42.60" y="86.19" width="1.47" height="7.19" fill="rgb(255,85,85)"/>
<rect x="44.00" y="86.19" width="1.47" height="7.19" fill="rgb(175,175,255)"/>
<rect x="45.41" y="86.19" width="1.47" height="7.19" fill="rgb(175,175,255)"/>
<rect x="46.82" y="86.19" width="1.47" height="7.19" fill="rgb(255,250,250)"/>
<rect x="48.22" y="86.19" width="1.47" height="7.19" fill="rgb(255,250,250)"/>
<rect x="49.63" y="86.19" width="1.47" height="7.19" fill="rgb(95,95,255)"/>
<rect x="51.03" y="86.19" width="1.47" height="7.19" fill="rgb(255,170,170)"/>
<rect x="52.44" y="86.19" width="1.47" height="7.19" fill="rgb(175,175,255)"/>
<rect x="53.84" y="86.19" width="1.47" height="7.19" fill="rgb(175,175,255)"/>
<rect x="55.25" y="86.19" width="1.47" height="7.19" fill="rgb(255,250,250)"/>
<rect x="56.66" y="86.19" width="1.47" height="7.19" fill="rgb(255,0,0)"/>
<rect x="58.06" y="86.19" width="1.47" height="7.19" fill="rgb(255,250,250)"/>
<rect x="59.47" y="86.19" width="1.47" height="7.19" fill="rgb(255,0,0)"/>
<rect x="60.87" y="86.19" width="1.47" height="7.19" fill="rgb(255,0,0)"/>
<rect x="62.28" y="86.19" width="1.47" height="7.19" fill="rgb(255,250,250)"/>
<rect x="63.69" y="86.19" width="1.47" height="7.19" fill="rgb(175,175,255)"/>
<rect x="65.09" y="86.19" width="1.47" height="7.19" fill="rgb(255,170,170)"/>
<rect x="66.50" y="86.19" width="1.47" height="7.19" fill="rgb(175,175,255)"/>
<rect x="67.90" y="86.19" width="1.47" height="7.19" fill="rgb(255,0,0)"/>
<rect x="69.31" y="86.19" width="1.47" height="7.19" fill="rgb(255,250,250)"/>
<rect x="70.71" y="86.19" width="1.47" height="7.19" fill="rgb(0,0,255)"/>
<rect x="72.12" y="86.19" width="1.47" height="7.19" fill="rgb(0,0,255)"/>
<rect x="73.53" y="86.19" width="1.47" height="7.19" fill="rgb(255,250,250)"/>
<rect x="74.93" y="86.19" width="1.47" height="7.19" fill="rgb(255,0,0)"/>
<rect x="76.34" y="86.19" width="1.47" height="7.19" fill="rgb(255,250,250)"/>
<rect x="77.74" y="86.19" width="1.47" height="7.19" fill="rgb(175,175,255)"/>
<rect x="79.15" y="86.19" width="1.47" height="7.19" fill="rgb(95,95,255)"/>
<rect x="80.56" y="86.19" width="1.47" height="7.19" fill="rgb(95,95,255)"/>
<rect x="81.96" y="86.19" width="1.47" height="7.19" fill="rgb(255,85,85)"/>
<rect x="83.37" y="86.19" width="1.47" height="7.19" fill="rgb(255,250,250)"/>
<rect x="84.77" y="86.19" width="1.47" height="7.19" fill="rgb(175,175,255)"/>
<rect x="86.18" y="86.19" width="1.47" height="7.19" fill="rgb(255,170,170)"/>
<rect x="87.58" y="86.19" width="1.47" height="7.19" fill="rgb(255,170,170)"/>
<rect x="88.99" y="86.19" width="1.47" height="7.19" fill="rgb(255,170,170)"/>
<rect x="90.40" y="86.19" width="1.47" height="7.19" fill="rgb(255,250,250)"/>
<rect x="91.80" y="86.19" width="1.47" height="7.19" fill="rgb(255,85,85)"/>
<rect x="93.21" y="86.19" width="1.47" height="7.19" fill="rgb(255,85,85)"/>
<rect x="94.61" y="86.19" width="1.47" height="7.19" fill="rgb(255,85,85)"/>
<rect x="96.02" y="86.19" width="1.47" height="7.19" fill="rgb(255,85,85)"/>
<rect x="97.42" y="86.19" width="1.47" height="7.19" fill="rgb(255,250,250)"/>
<rect x="98.83" y="86.19" width="1.47" height="7.19" fill="rgb(255,0,0)"/>
<rect x="100.24" y="86.19" width="1.47" height="7.19" fill="rgb(255,250,250)"/>
<rect x="101.64" y="86.19" width="1.47" height="7.19" fill="rgb(0,0,255)"/>
<rect x="103.05" y="86.19" width="1.47" height="7.19" fill="rgb(255,250,250)"/>
<rect x="104.45" y="86.19" width="1.47" height="7.19" fill="rgb(255,170,170)"/>
<rect x="105.86" y="86.19" width="1.47" height="7.19" fill="rgb(255,250,250)"/>
<rect x="107.27" y="86.19" width="1.47" height="7.19" fill="rgb(255,170,170)"/>
<rect x="108.67" y="86.19" width="1.47" height="7.19" fill="rgb(255,0,0)"/>
<rect x="110.08" y="86.19" width="1.47" height="7.19" fill="rgb(255,85,85)"/>
<rect x="111.48" y="86.19" width="1.47" height="7.19" fill="rgb(255,0,0)"/>
<rect x="112.89" y="86.19" width="1.47" height="7.19" fill="rgb(255,0,0)"/>
<rect x="114.29" y="86.19" width="1.47" height="7.19" fill="rgb(255,0,0)"/>
<rect x="18.70" y="93.32" width="1.47" height="7.19" fill="rgb(0,0,255)"/>
<rect x="20.11" y="93.32" width="1.47" height="7.19" fill="rgb(255,250,250)"/>
<rect x="21.51" y="93.32" width="1.47" height="7.19" fill="rgb(95,95,255)"/>
<rect x="22.92" y="93.32" width="1.47" height="7.19" fill="rgb(95,95,255)"/>
<rect x="24.32" y="93.32" width="1.47" height="7.19" fill="rgb(95,95,255)"/>
<rect x="25.73" y="93.32" width="1.47" height="7.19" fill="rgb(95,95,255)"/>
<rect x="27.13" y="93.32" width="1.47" height="7.19" fill="rgb(255,250,250)"/>
<rect x="28.54" y="93.32" width="1.47" height="7.19" fill="rgb(0,0,255)"/>
<rect x="29.95" y="93.32" width="1.47" height="7.19" fill="rgb(0,0,255)"/>
<rect x="31.35" y="93.32" width="1.47" height="7.19" fill="rgb(0,0,255)"/>
<rect x="32.76" y="93.32" width="1.47" height="7.19" fill="rgb(175,175,255)"/>
<rect x="34.16" y="93.32" width="1.47" height="7.19" fill="rgb(255,170,170)"/>
<rect x="35.57" y="93.32" width="1.47" height="7.19" fill="rgb(255,250,250)"/>
<rect x="36.98" y="93.32" width="1.47" height="7.19" fill="rgb(175,175,255)"/>
<rect x="38.38" y="93.32" width="1.47" height="7.19" fill="rgb(255,250,250)"/>
<rect x="39.79" y="93.32" width="1.47" height="7.19" fill="rgb(255,170,170)"/>
<rect x="41.19" y="93.32" width="1.47" height="7.19" fill="rgb(255,250,250)"/>
<rect x="42.60" y="93.32" width="1.47" height="7.19" fill="rgb(255,170,170)"/>
<rect x="44.00" y="93.32" width="1.47" height="7.19" fill="rgb(255,85,85)"/>
<rect x="45.41" y="93.32" width="1.47" height="7.19" fill="rgb(175,175,255)"/>
<rect x="46.82" y="93.32" width="1.47" height="7.19" fill="rgb(255,250,250)"/>
<rect x="48.22" y="93.32" width="1.47" height="7.19" fill="rgb(175,175,255)"/>
<rect x="49.63" y="93.32" width="1.47" height="7.19" fill="rgb(255,250,250)"/>
<rect x="51.03" y="93.32" width="1.47" height="7.19" fill="rgb(175,175,255)"/>
<rect x="52.44" y="93.32" width="1.47" height="7.19" fill="rgb(175,175,255)"/>
<rect x="53.84" y="93.32" width="1.47" height="7.19" fill="rgb(175,175,255)"/>
<rect x="55.25" y="93.32" width="1.47" height="7.19" fill="rgb(255,250,250)"/>
<rect x="56.66" y="93.32" width="1.47" height="7.19" fill="rgb(175,175,255)"/>
<rect x="58.06" y="93.32" width="1.47" height="7.19" fill="rgb(255,250,250)"/>
<rect x="59.47" y="93.32" width="1.47" height="7.19" fill="rgb(255,85,85)"/>
<rect x="60.87" y="93.32" width="1.47" height="7.19" fill="rgb(255,250,250)"/>
<rect x="62.28" y="93.32" width="1.47" height="7.19" fill="rgb(175,175,255)"/>
<rect x="63.69" y="93.32" width="1.47" height="7.19" fill="rgb(255,170,170)"/>
<rect x="65.09" y="93.32" width="1.47" height="7.19" fill="rgb(175,175,255)"/>
<rect x="66.50" y="93.32" width="1.47" height="7.19" fill="rgb(255,250,250)"/>
<rect x="67.90" y="93.32" width="1.47" height="7.19" fill="rgb(95,95,255)"/>
<rect x="69.31" y="93.32" width="1.47" height="7.19" fill="rgb(255,250,250)"/>
<rect x="70.71" y="93.32" width="1.47" height="7.19" fill="rgb(255,250,250)"/>
<rect x="72.12" y="93.32" width="1.47" height="7.19" fill="rgb(175,175,255)"/>
<rect x="73.53" y="93.32" width="1.47" height="7.19" fill="rgb(255,250,250)"/>
<rect x="74.93" y="93.32" width="1.47" height="7.19" fill="rgb(255,250,250)"/>
<rect x="76.34" y="93.32" width="1.47" height="7.19" fill="rgb(95,95,255)"/>
<rect x="77.74" y="93.32" width="1.47" height="7.19" fill="rgb(255,250,250)"/>
<rect x="79.15" y="93.32" width="1.47" height="7.19" fill="rgb(255,170,170)"/>
<rect x="80.56" y="93.32" width="1.47" height="7.19" fill="rgb(255,250,250)"/>
<rect x="81.96" y="93.32" width="1.47" height="7.19" fill="rgb(255,0,0)"/>
<rect x="83.37" y="93.32" width="1.47" height="7.19" fill="rgb(255,85,85)"/>
<rect x="84.77" y="93.32" width="1.47" height="7.19" fill="rgb(255,250,250)"/>
<rect x="86.18" y="93.32" width="1.47" height="7.19" fill="rgb(0,0,255)"/>
<rect x="87.58" y="93.32" width="1.47" height="7.19" fill="rgb(255,0,0)"/>
<rect x="88.99" y="93.32" width="1.47" height="7.19" fill="rgb(255,85,85)"/>
<rect x="90.40" y="93.32" width="1.47" height="7.19" fill="rgb(255,85,85)"/>
<rect x="91.80" y="93.32" width="1.47" height="7.19" fill="rgb(255,170,170)"/>
<rect x="93.21" y="93.32" width="1.47" height="7.19" fill="rgb(255,250,250)"/>
<rect x="94.61" y="93.32" width="1.47" height="7.19" fill="rgb(255,85,85)"/>
<rect x="96.02" y="93.32" width="1.47" height="7.19" fill="rgb(255,85,85)"/>
<rect x="97.42" y="93.32" width="1.47" height="7.19" fill="rgb(255,170,170)"/>
<rect x="98.83" y="93.32" width="1.47" height="7.19" fill="rgb(255,85,85)"/>
<rect x="100.24" y="93.32" width="1.47" height="7.19" fill="rgb(255,0,0)"/>
<rect x="101.64" y="93.32" width="1.47" height="7.19" fill="rgb(255,170,170)"/>
<rect x="103.05" y="93.32" width="1.47" height="7.19" fill="rgb(255,85,85)"/>
<rect x="104.45" y="93.32" width="1.47" height="7.19" fill="rgb(255,170,170)"/>
<rect x="105.86" y="93.32" width="1.47" height="7.19" fill="rgb(255,0,0)"/>
<rect x="107.27" y="93.32" width="1.47" height="7.19" fill="rgb(255,0,0)"/>
<rect x="108.67" y="93.32" width="1.47" height="7.19" fill="rgb(255,170,170)"/>
<rect x="110.08" y="93.32" width="1.47" height="7.19" fill="rgb(255,85,85)"/>
<rect x="111.48" y="93.32" width="1.47" height="7.19" fill="rgb(255,0,0)"/>
<rect x="112.89" y="93.32" width="1.47" height="7.19" fill="rgb(255,170,170)"/>
<rect x="114.29" y="93.32" width="1.47" height="7.19" fill="rgb(255,85,85)"/>
<rect x="18.70" y="100.44" width="1.47" height="7.19" fill="rgb(0,0,255)"/>
<rect x="20.11" y="100.44" width="1.47" height="7.19" fill="rgb(255,250,250)"/>
<rect x="21.51" y="100.44" width="1.47" height="7.19" fill="rgb(255,250,250)"/>
<rect x="22.92" y="100.44" width="1.47" height="7.19" fill="rgb(175,175,255)"/>
<rect x="24.32" y="100.44" width="1.47" height="7.19" fill="rgb(175,175,255)"/>
<rect x="25.73" y="100.44" width="1.47" height="7.19" fill="rgb(255,250,250)"/>
<rect x="27.13" y="100.44" width="1.47" height="7.19" fill="rgb(0,0,255)"/>
<rect x="28.54" y="100.44" width="1.47" height="7.19" fill="rgb(255,250,250)"/>
<rect x="29.95" y="100.44" width="1.47" height="7.19" fill="rgb(255,250,250)"/>
<rect x="31.35" y="100.44" width="1.47" height="7.19" fill="rgb(175,175,255)"/>
<rect x="32.76" y="100.44" width="1.47" height="7.19" fill="rgb(175,175,255)"/>
<rect x="34.16" y="100.44" width="1.47" height="7.19" fill="rgb(175,175,255)"/>
<rect x="35.57" y="100.44" width="1.47" height="7.19" fill="rgb(255,250,250)"/>
<rect x="36.98" y="100.44" width="1.47" height="7.19" fill="rgb(0,0,255)"/>
<rect x="38.38" y="100.44" width="1.47" height="7.19" fill="rgb(175,175,255)"/>
<rect x="39.79" y="100.44" width="1.47" height="7.19" fill="rgb(255,170,170)"/>
<rect x="41.19" y="100.44" width="1.47" height="7.19" fill="rgb(175,175,255)"/>
<rect x="42.60" y="100.44" width="1.47" height="7.19" fill="rgb(0,0,255)"/>
<rect x="44.00" y="100.44" width="1.47" height="7.19" fill="rgb(0,0,255)"/>
<rect x="45.41" y="100.44" width="1.47" height="7.19" fill="rgb(0,0,255)"/>
<rect x="46.82" y="100.44" width="1.47" height="7.19" fill="rgb(175,175,255)"/>
<rect x="48.22" y="100.44" width="1.47" height="7.19" fill="rgb(255,170,170)"/>
<rect x="49.63" y="100.44" width="1.47" height="7.19" fill="rgb(0,0,255)"/>
<rect x="51.03" y="100.44" width="1.47" height="7.19" fill="rgb(255,250,250)"/>
<rect x="52.44" y="100.44" width="1.47" height="7.19" fill="rgb(255,250,250)"/>
<rect x="53.84" y="100.44" width="1.47" height="7.19" fill="rgb(255,250,250)"/>
<rect x="55.25" y="100.44" width="1.47" height="7.19" fill="rgb(255,170,170)"/>
<rect x="56.66" y="100.44" width="1.47" height="7.19" fill="rgb(175,175,255)"/>
<rect x="58.06" y="100.44" width="1.47" height="7.19" fill="rgb(255,250,250)"/>
<rect x="59.47" y="100.44" width="1.47" height="7.19" fill="rgb(0,0,255)"/>
<rect x="60.87" y="100.44" width="1.47" height="7.19" fill="rgb(175,175,255)"/>
<rect x="62.28" y="100.44" width="1.47" height="7.19" fill="rgb(255,250,250)"/>
<rect x="63.69" y="100.44" width="1.47" height="7.19" fill="rgb(255,170,170)"/>
<rect x="65.09" y="100.44" width="1.47" height="7.19" fill="rgb(175,175,255)"/>
<rect x="66.50" y="100.44" width="1.47" height="7.19" fill="rgb(255,170,170)"/>
<rect x="67.90" y="100.44" width="1.47" height="7.19" fill="rgb(255,85,85)"/>
<rect x="69.31" y="100.44" width="1.47" height="7.19" fill="rgb(175,175,255)"/>
<rect x="70.71" y="100.44" width="1.47" height="7.19" fill="rgb(255,250,250)"/>
<rect x="72.12" y="100.44" width="1.47" height="7.19" fill="rgb(255,170,170)"/>
<rect x="73.53" y="100.44" width="1.47" height="7.19" fill="rgb(255,250,250)"/>
<rect x="74.93" y="100.44" width="1.47" height="7.19" fill="rgb(255,85,85)"/>
<rect x="76.34" y="100.44" width="1.47" height="7.19" fill="rgb(255,85,85)"/>
<rect x="77.74" y="100.44" width="1.47" height="7.19" fill="rgb(255,250,250)"/>
<rect x="79.15" y="100.44" width="1.47" height="7.19" fill="rgb(255,250,250)"/>
<rect x="80.56" y="100.44" width="1.47" height="7.19" fill="rgb(255,170,170)"/>
<rect x="81.96" y="100.44" width="1.47" height="7.19" fill="rgb(175,175,255)"/>
<rect x="83.37" y="100.44" width="1.47" height="7.19" fill="rgb(175,175,255)"/>
<rect x="84.77" y="100.44" width="1.47" height="7.19" fill="rgb(0,0,255)"/>
<rect x="86.18" y="100.44" width="1.47" height="7.19" fill="rgb(0,0,255)"/>
<rect x="87.58" y="100.44" width="1.47" height="7.19" fill="rgb(255,250,250)"/>
<rect x="88.99" y="100.44" width="1.47" height="7.19" fill="rgb(175,175,255)"/>
<rect x="90.40" y="100.44" width="1.47" height="7.19" fill="rgb(255,250,250)"/>
<rect x="91.80" y="100.44" width="1.47" height="7.19" fill="rgb(255,85,85)"/>
<rect x="93.21" y="100.44" width="1.47" height="7.19" fill="rgb(255,85,85)"/>
<rect x="94.61" y="100.44" width="1.47" height="7.19" fill="rgb(255,0,0)"/>
<rect x="96.02" y="100.44" width="1.47" height="7.19" fill="rgb(255,85,85)"/>
<rect x="97.42" y="100.44" width="1.47" height="7.19" fill="rgb(255,0,0)"/>
<rect x="98.83" y="100.44" width="1.47" height="7.19" fill="rgb(255,170,170)"/>
<rect x="100.24" y="100.44" width="1.47" height="7.19" fill="rgb(255,85,85)"/>
<rect x="101.64" y="100.44" width="1.47" height="7.19" fill="rgb(255,250,250)"/>
<rect x="103.05" y="100.44" width="1.47" height="7.19" fill="rgb(255,0,0)"/>
<rect x="104.45" y="100.44" width="1.47" height="7.19" fill="rgb(255,250,250)"/>
<rect x="105.86" y="100.44" width="1.47" height="7.19" fill="rgb(255,0,0)"/>
<rect x="107.27" y="100.44" width="1.47" height="7.19" fill="rgb(255,170,170)"/>
<rect x="108.67" y="100.44" width="1.47" height="7.19" fill="rgb(255,250,250)"/>
<rect x="110.08" y="100.44" width="1.47" height="7.19" fill="rgb(255,0,0)"/>
<rect x="111.48" y="100.44" width="1.47" height="7.19" fill="rgb(255,85,85)"/>
<rect x="112.89" y="100.44" width="1.47" height="7.19" fill="rgb(255,0,0)"/>
<rect x="114.29" y="100.44" width="1.47" height="7.19" fill="rgb(255,0,0)"/>
<rect x="18.70" y="107.57" width="1.47" height="7.19" fill="rgb(0,0,255)"/>
<rect x="20.11" y="107.57" width="1.47" height="7.19" fill="rgb(255,250,250)"/>
<rect x="21.51" y="107.57" width="1.47" height="7.19" fill="rgb(175,175,255)"/>
<rect x="22.92" y="107.57" width="1.47" height="7.19" fill="rgb(255,250,250)"/>
<rect x="24.32" y="107.57" width="1.47" height="7.19" fill="rgb(175,175,255)"/>
<rect x="25.73" y="107.57" width="1.47" height="7.19" fill="rgb(95,95,255)"/>
<rect x="27.13" y="107.57" width="1.47" height="7.19" fill="rgb(95,95,255)"/>
<rect x="28.54" y="107.57" width="1.47" height="7.19" fill="rgb(175,175,255)"/>
<rect x="29.95" y="107.57" width="1.47" height="7.19" fill="rgb(255,250,250)"/>
<rect x="31.35" y="107.57" width="1.47" height="7.19" fill="rgb(175,175,255)"/>
<rect x="32.76" y="107.57" width="1.47" height="7.19" fill="rgb(0,0,255)"/>
<rect x="34.16" y="107.57" width="1.47" height="7.19" fill="rgb(0,0,255)"/>
<rect x="35.57" y="107.57" width="1.47" height="7.19" fill="rgb(255,250,250)"/>
<rect x="36.98" y="107.57" width="1.47" height="7.19" fill="rgb(95,95,255)"/>
<rect x="38.38" y="107.57" width="1.47" height="7.19" fill="rgb(255,250,250)"/>
<rect x="39.79" y="107.57" width="1.47" height="7.19" fill="rgb(255,0,0)"/>
<rect x="41.19" y="107.57" width="1.47" height="7.19" fill="rgb(175,175,255)"/>
<rect x="42.60" y="107.57" width="1.47" height="7.19" fill="rgb(95,95,255)"/>
<rect x="44.00" y="107.57" width="1.47" height="7.19" fill="rgb(175,175,255)"/>
<rect x="45.41" y="107.57" width="1.47" height="7.19" fill="rgb(95,95,255)"/>
<rect x="46.82" y="107.57" width="1.47" height="7.19" fill="rgb(255,250,250)"/>
<rect x="48.22" y="107.57" width="1.47" height="7.19" fill="rgb(95,95,255)"/>
<rect x="49.63" y="107.57" width="1.47" height="7.19" fill="rgb(255,250,250)"/>
<rect x="51.03" y="107.57" width="1.47" height="7.19" fill="rgb(255,170,170)"/>
<rect x="52.44" y="107.57" width="1.47" height="7.19" fill="rgb(255,250,250)"/>
<rect x="53.84" y="107.57" width="1.47" height="7.19" fill="rgb(175,175,255)"/>
<rect x="55.25" y="107.57" width="1.47" height="7.19" fill="rgb(255,250,250)"/>
<rect x="56.66" y="107.57" width="1.47" height="7.19" fill="rgb(255,250,250)"/>
<rect x="58.06" y="107.57" width="1.47" height="7.19" fill="rgb(175,175,255)"/>
<rect x="59.47" y="107.57" width="1.47" height="7.19" fill="rgb(0,0,255)"/>
<rect x="60.87" y="107.57" width="1.47" height="7.19" fill="rgb(0,0,255)"/>
<rect x="62.28" y="107.57" width="1.47" height="7.19" fill="rgb(255,250,250)"/>
<rect x="63.69" y="107.57" width="1.47" height="7.19" fill="rgb(255,250,250)"/>
<rect x="65.09" y="107.57" width="1.47" height="7.19" fill="rgb(95,95,255)"/>
<rect x="66.50" y="107.57" width="1.47" height="7.19" fill="rgb(95,95,255)"/>
<rect x="67.90" y="107.57" width="1.47" height="7.19" fill="rgb(95,95,255)"/>
<rect x="69.31" y="107.57" width="1.47" height="7.19" fill="rgb(175,175,255)"/>
<rect x="70.71" y="107.57" width="1.47" height="7.19" fill="rgb(255,170,170)"/>
<rect x="72.12" y="107.57" width="1.47" height="7.19" fill="rgb(255,0,0)"/>
<rect x="73.53" y="107.57" width="1.47" height="7.19" fill="rgb(255,250,250)"/>
<rect x="74.93" y="107.57" width="1.47" height="7.19" fill="rgb(255,250,250)"/>
<rect x="76.34" y="107.57" width="1.47" height="7.19" fill="rgb(255,170,170)"/>
<rect x="77.74" y="107.57" width="1.47" height="7.19" fill="rgb(175,175,255)"/>
<rect x="79.15" y="107.57" width="1.47" height="7.19" fill="rgb(255,250,250)"/>
<rect x="80.56" y="107.57" width="1.47" height="7.19" fill="rgb(255,250,250)"/>
<rect x="81.96" y="107.57" width="1.47" height="7.19" fill="rgb(255,85,85)"/>
<rect x="83.37" y="107.57" width="1.47" height="7.19" fill="rgb(255,250,250)"/>
<rect x="84.77" y="107.57" width="1.47" height="7.19" fill="rgb(255,85,85)"/>
<rect x="86.18" y="107.57" width="1.47" height="7.19" fill="rgb(255,250,250)"/>
<rect x="87.58" y="107.57" width="1.47" height="7.19" fill="rgb(255,170,170)"/>
<rect x="88.99" y="107.57" width="1.47" height="7.19" fill="rgb(255,250,250)"/>
<rect x="90.40" y="107.57" width="1.47" height="7.19" fill="rgb(175,175,255)"/>
<rect x="91.80" y="107.57" width="1.47" height="7.19" fill="rgb(255,0,0)"/>
<rect x="93.21" y="107.57" width="1.47" height="7.19" fill="rgb(255,85,85)"/>
<rect x="94.61" y="107.57" width="1.47" height="7.19" fill="rgb(255,170,170)"/>
<rect x="96.02" y="107.57" width="1.47" height="7.19" fill="rgb(255,0,0)"/>
<rect x="97.42" y="107.57" width="1.47" height="7.19" fill="rgb(255,250,250)"/>
<rect x="98.83" y="107.57" width="1.47" height="7.19" fill="rgb(255,85,85)"/>
<rect x="100.24" y="107.57" width="1.47" height="7.19" fill="rgb(255,170,170)"/>
<rect x="101.64" y="107.57" width="1.47" height="7.19" fill="rgb(255,250,250)"/>
<rect x="103.05" y="107.57" width="1.47" height="7.19" fill="rgb(255,0,0)"/>
<rect x="104.45" y="107.57" width="1.47" height="7.19" fill="rgb(255,0,0)"/>
<rect x="105.86" y="107.57" width="1.47" height="7.19" fill="rgb(175,175,255)"/>
<rect x="107.27" y="107.57" width="1.47" height="7.19" fill="rgb(255,0,0)"/>
<rect x="108.67" y="107.57" width="1.47" height="7.19" fill="rgb(255,85,85)"/>
<rect x="110.08" y="107.57" width="1.47" height="7.19" fill="rgb(255,0,0)"/>
<rect x="111.48" y="107.57" width="1.47" height="7.19" fill="rgb(255,0,0)"/>
<rect x="112.89" y="107.57" width="1.47" height="7.19" fill="rgb(255,170,170)"/>
<rect x="114.29" y="107.57" width="1.47" height="7.19" fill="rgb(255,85,85)"/>
<rect x="18.70" y="114.70" width="1.47" height="7.19" fill="rgb(0,0,255)"/>
<rect x="20.11" y="114.70" width="1.47" height="7.19" fill="rgb(255,250,250)"/>
<rect x="21.51" y="114.70" width="1.47" height="7.19" fill="rgb(175,175,255)"/>
<rect x="22.92" y="114.70" width="1.47" height="7.19" fill="rgb(0,0,255)"/>
<rect x="24.32" y="114.70" width="1.47" height="7.19" fill="rgb(175,175,255)"/>
<rect x="25.73" y="114.70" width="1.47" height="7.19" fill="rgb(255,250,250)"/>
<rect x="27.13" y="114.70" width="1.47" height="7.19" fill="rgb(0,0,255)"/>
<rect x="28.54" y="114.70" width="1.47" height="7.19" fill="rgb(0,0,255)"/>
<rect x="29.95" y="114.70" width="1.47" height="7.19" fill="rgb(0,0,255)"/>
<rect x="31.35" y="114.70" width="1.47" height="7.19" fill="rgb(255,170,170)"/>
<rect x="32.76" y="114.70" width="1.47" height="7.19" fill="rgb(175,175,255)"/>
<rect x="34.16" y="114.70" width="1.47" height="7.19" fill="rgb(95,95,255)"/>
<rect x="35.57" y="114.70" width="1.47" height="7.19" fill="rgb(175,175,255)"/>
<rect x="36.98" y="114.70" width="1.47" height="7.19" fill="rgb(0,0,255)"/>
<rect x="38.38" y="114.70" width="1.47" height="7.19" fill="rgb(0,0,255)"/>
<rect x="39.79" y="114.70" width="1.47" height="7.19" fill="rgb(255,250,250)"/>
<rect x="41.19" y="114.70" width="1.47" height="7.19" fill="rgb(255,250,250)"/>
<rect x="42.60" y="114.70" width="1.47" height="7.19" fill="rgb(255,250,250)"/>
<rect x="44.00" y="114.70" width="1.47" height="7.19" fill="rgb(0,0,255)"/>
<rect x="45.41" y="114.70" width="1.47" height="7.19" fill="rgb(255,250,250)"/>
<rect x="46.82" y="114.70" width="1.47" height="7.19" fill="rgb(0,0,255)"/>
<rect x="48.22" y="114.70" width="1.47" height="7.19" fill="rgb(0,0,255)"/>
<rect x="49.63" y="114.70" width="1.47" height="7.19" fill="rgb(175,175,255)"/>
<rect x="51.03" y="114.70" width="1.47" height="7.19" fill="rgb(255,250,250)"/>
<rect x="52.44" y="114.70" width="1.47" height="7.19" fill="rgb(175,175,255)"/>
<rect x="53.84" y="114.70" width="1.47" height="7.19" fill="rgb(175,175,255)"/>
<rect x="55.25" y="114.70" width="1.47" height="7.19" fill="rgb(175,175,255)"/>
<rect x="56.66" y="114.70" width="1.47" height="7.19" fill="rgb(95,95,255)"/>
<rect x="58.06" y="114.70" width="1.47" height="7.19" fill="rgb(255,250,250)"/>
<rect x="59.47" y="114.70" width="1.47" height="7.19" fill="rgb(255,170,170)"/>
<rect x="60.87" y="114.70" width="1.47" height="7.19" fill="rgb(255,0,0)"/>
<rect x="62.28" y="114.70" width="1.47" height="7.19" fill="rgb(255,250,250)"/>
<rect x="63.69" y="114.70" width="1.47" height="7.19" fill="rgb(0,0,255)"/>
<rect x="65.09" y="114.70" width="1.47" height="7.19" fill="rgb(0,0,255)"/>
<rect x="66.50" y="114.70" width="1.47" height="7.19" fill="rgb(175,175,255)"/>
<rect x="67.90" y="114.70" width="1.47" height="7.19" fill="rgb(0,0,255)"/>
<rect x="69.31" y="114.70" width="1.47" height="7.19" fill="rgb(255,250,250)"/>
<rect x="70.71" y="114.70" width="1.47" height="7.19" fill="rgb(255,170,170)"/>
<rect x="72.12" y="114.70" width="1.47" height="7.19" fill="rgb(0,0,255)"/>
<rect x="73.53" y="114.70" width="1.47" height="7.19" fill="rgb(0,0,255)"/>
<rect x="74.93" y="114.70" width="1.47" height="7.19" fill="rgb(255,170,170)"/>
<rect x="76.34" y="114.70" width="1.47" height="7.19" fill="rgb(255,85,85)"/>
<rect x="77.74" y="114.70" width="1.47" height="7.19" fill="rgb(255,85,85)"/>
<rect x="79.15" y="114.70" width="1.47" height="7.19" fill="rgb(255,85,85)"/>
<rect x="80.56" y="114.70" width="1.47" height="7.19" fill="rgb(255,0,0)"/>
<rect x="81.96" y="114.70" width="1.47" height="7.19" fill="rgb(255,250,250)"/>
<rect x="83.37" y="114.70" width="1.47" height="7.19" fill="rgb(255,170,170)"/>
<rect x="84.77" y="114.70" width="1.47" height="7.19" fill="rgb(255,85,85)"/>
<rect x="86.18" y="114.70" width="1.47" height="7.19" fill="rgb(255,0,0)"/>
<rect x="87.58" y="114.70" width="1.47" height="7.19" fill="rgb(255,250,250)"/>
<rect x="88.99" y="114.70" width="1.47" height="7.19" fill="rgb(255,170,170)"/>
<rect x="90.40" y="114.70" width="1.47" height="7.19" fill="rgb(255,0,0)"/>
<rect x="91.80" y="114.70" width="1.47" height="7.19" fill="rgb(255,250,250)"/>
<rect x="93.21" y="114.70" width="1.47" height="7.19" fill="rgb(255,170,170)"/>
<rect x="94.61" y="114.70" width="1.47" height="7.19" fill="rgb(255,0,0)"/>
<rect x="96.02" y="114.70" width="1.47" height="7.19" fill="rgb(255,170,170)"/>
<rect x="97.42" y="114.70" width="1.47" height="7.19" fill="rgb(255,0,0)"/>
<rect x="98.83" y="114.70" width="1.47" height="7.19" fill="rgb(255,85,85)"/>
<rect x="100.24" y="114.70" width="1.47" height="7.19" fill="rgb(255,170,170)"/>
<rect x="101.64" y="114.70" width="1.47" height="7.19" fill="rgb(255,0,0)"/>
<rect x="103.05" y="114.70" width="1.47" height="7.19" fill="rgb(255,170,170)"/>
<rect x="104.45" y="114.70" width="1.47" height="7.19" fill="rgb(255,0,0)"/>
<rect x="105.86" y="114.70" width="1.47" height="7.19" fill="rgb(255,250,250)"/>
<rect x="107.27" y="114.70" width="1.47" height="7.19" fill="rgb(255,170,170)"/>
<rect x="108.67" y="114.70" width="1.47" height="7.19" fill="rgb(255,0,0)"/>
<rect x="110.08" y="114.70" width="1.47" height="7.19" fill="rgb(255,170,170)"/>
<rect x="111.48" y="114.70" width="1.47" height="7.19" fill="rgb(255,85,85)"/>
<rect x="112.89" y="114.70" width="1.47" height="7.19" fill="rgb(255,85,85)"/>
<rect x="114.29" y="114.70" width="1.47" height="7.19" fill="rgb(255,85,85)"/>
<rect x="18.70" y="121.82" width="1.47" height="7.19" fill="rgb(0,0,255)"/>
<rect x="20.11" y="121.82" width="1.47" height="7.19" fill="rgb(255,250,250)"/>
<rect x="21.51" y="121.82" width="1.47" height="7.19" fill="rgb(175,175,255)"/>
<rect x="22.92" y="121.82" width="1.47" height="7.19" fill="rgb(175,175,255)"/>
<rect x="24.32" y="121.82" width="1.47" height="7.19" fill="rgb(255,170,170)"/>
<rect x="25.73" y="121.82" width="1.47" height="7.19" fill="rgb(255,170,170)"/>
<rect x="27.13" y="121.82" width="1.47" height="7.19" fill="rgb(0,0,255)"/>
<rect x="28.54" y="121.82" width="1.47" height="7.19" fill="rgb(0,0,255)"/>
<rect x="29.95" y="121.82" width="1.47" height="7.19" fill="rgb(255,250,250)"/>
<rect x="31.35" y="121.82" width="1.47" height="7.19" fill="rgb(255,170,170)"/>
<rect x="32.76" y="121.82" width="1.47" height="7.19" fill="rgb(0,0,255)"/>
<rect x="34.16" y="121.82" width="1.47" height="7.19" fill="rgb(175,175,255)"/>
<rect x="35.57" y="121.82" width="1.47" height="7.19" fill="rgb(175,175,255)"/>
<rect x="36.98" y="121.82" width="1.47" height="7.19" fill="rgb(255,250,250)"/>
<rect x="38.38" y="121.82" width="1.47" height="7.19" fill="rgb(0,0,255)"/>
<rect x="39.79" y="121.82" width="1.47" height="7.19" fill="rgb(0,0,255)"/>
<rect x="41.19" y="121.82" width="1.47" height="7.19" fill="rgb(175,175,255)"/>
<rect x="42.60" y="121.82" width="1.47" height="7.19" fill="rgb(255,250,250)"/>
<rect x="44.00" y="121.82" width="1.47" height="7.19" fill="rgb(255,85,85)"/>
<rect x="45.41" y="121.82" width="1.47" height="7.19" fill="rgb(175,175,255)"/>
<rect x="46.82" y="121.82" width="1.47" height="7.19" fill="rgb(95,95,255)"/>
<rect x="48.22" y="121.82" width="1.47" height="7.19" fill="rgb(255,250,250)"/>
<rect x="49.63" y="121.82" width="1.47" height="7.19" fill="rgb(0,0,255)"/>
<rect x="51.03" y="121.82" width="1.47" height="7.19" fill="rgb(175,175,255)"/>
<rect x="52.44" y="121.82" width="1.47" height="7.19" fill="rgb(175,175,255)"/>
<rect x="53.84" y="121.82" width="1.47" height="7.19" fill="rgb(255,0,0)"/>
<rect x="55.25" y="121.82" width="1.47" height="7.19" fill="rgb(255,0,0)"/>
<rect x="56.66" y="121.82" width="1.47" height="7.19" fill="rgb(255,170,170)"/>
<rect x="58.06" y="121.82" width="1.47" height="7.19" fill="rgb(255,170,170)"/>
<rect x="59.47" y="121.82" width="1.47" height="7.19" fill="rgb(255,250,250)"/>
<rect x="60.87" y="121.82" width="1.47" height="7.19" fill="rgb(255,0,0)"/>
<rect x="62.28" y="121.82" width="1.47" height="7.19" fill="rgb(0,0,255)"/>
<rect x="63.69" y="121.82" width="1.47" height="7.19" fill="rgb(0,0,255)"/>
<rect x="65.09" y="121.82" width="1.47" height="7.19" fill="rgb(175,175,255)"/>
<rect x="66.50" y="121.82" width="1.47" height="7.19" fill="rgb(175,175,255)"/>
<rect x="67.90" y="121.82" width="1.47" height="7.19" fill="rgb(255,250,250)"/>
<rect x="69.31" y="121.82" width="1.47" height="7.19" fill="rgb(175,175,255)"/>
<rect x="70.71" y="121.82" width="1.47" height="7.19" fill="rgb(95,95,255)"/>
<rect x="72.12" y="121.82" width="1.47" height="7.19" fill="rgb(255,250,250)"/>
<rect x="73.53" y="121.82" width="1.47" height="7.19" fill="rgb(255,250,250)"/>
<rect x="74.93" y="121.82" width="1.47" height="7.19" fill="rgb(175,175,255)"/>
<rect x="76.34" y="121.82" width="1.47" height="7.19" fill="rgb(255,250,250)"/>
<rect x="77.74" y="121.82" width="1.47" height="7.19" fill="rgb(255,85,85)"/>
<rect x="79.15" y="121.82" width="1.47" height="7.19" fill="rgb(255,170,170)"/>
<rect x="80.56" y="121.82" width="1.47" height="7.19" fill="rgb(255,85,85)"/>
<rect x="81.96" y="121.82" width="1.47" height="7.19" fill="rgb(255,170,170)"/>
<rect x="83.37" y="121.82" width="1.47" height="7.19" fill="rgb(95,95,255)"/>
<rect x="84.77" y="121.82" width="1.47" height="7.19" fill="rgb(95,95,255)"/>
<rect x="86.18" y="121.82" width="1.47" height="7.19" fill="rgb(255,0,0)"/>
<rect x="87.58" y="121.82" width="1.47" height="7.19" fill="rgb(255,170,170)"/>
<rect x="88.99" y="121.82" width="1.47" height="7.19" fill="rgb(175,175,255)"/>
<rect x="90.40" y="121.82" width="1.47" height="7.19" fill="rgb(255,170,170)"/>
<rect x="91.80" y="121.82" width="1.47" height="7.19" fill="rgb(255,0,0)"/>
<rect x="93.21" y="121.82" width="1.47" height="7.19" fill="rgb(255,170,170)"/>
<rect x="94.61" y="121.82" width="1.47" height="7.19" fill="rgb(255,85,85)"/>
<rect x="96.02" y="121.82" width="1.47" height="7.19" fill="rgb(255,0,0)"/>
<rect x="97.42" y="121.82" width="1.47" height="7.19" fill="rgb(255,170,170)"/>
<rect x="98.83" y="121.82" width="1.47" height="7.19" fill="rgb(255,0,0)"/>
<rect x="100.24" y="121.82" width="1.47" height="7.19" fill="rgb(175,175,255)"/>
<rect x="101.64" y="121.82" width="1.47" height="7.19" fill="rgb(255,85,85)"/>
<rect x="103.05" y="121.82" width="1.47" height="7.19" fill="rgb(255,250,250)"/>
<rect x="104.45" y="121.82" width="1.47" height="7.19" fill="rgb(255,0,0)"/>
<rect x="105.86" y="121.82" width="1.47" height="7.19" fill="rgb(255,85,85)"/>
<rect x="107.27" y="121.82" width="1.47" height="7.19" fill="rgb(255,0,0)"/>
<rect x="108.67" y="121.82" width="1.47" height="7.19" fill="rgb(255,170,170)"/>
<rect x="110.08" y="121.82" width="1.47" height="7.19" fill="rgb(175,175,255)"/>
<rect x="111.48" y="121.82" width="1.47" height="7.19" fill="rgb(255,0,0)"/>
<rect x="112.89" y="121.82" width="1.47" height="7.19" fill="rgb(255,0,0)"/>
<rect x="114.29" y="121.82" width="1.47" height="7.19" fill="rgb(255,0,0)"/>
<rect x="18.70" y="128.95" width="1.47" height="7.19" fill="rgb(0,0,255)"/>
<rect x="20.11" y="128.95" width="1.47" height="7.19" fill="rgb(95,95,255)"/>
<rect x="21.51" y="128.95" width="1.47" height="7.19" fill="rgb(175,175,255)"/>
<rect x="22.92" y="128.95" width="1.47" height="7.19" fill="rgb(95,95,255)"/>
<rect x="24.32" y="128.95" width="1.47" height="7.19" fill="rgb(95,95,255)"/>
<rect x="25.73" y="128.95" width="1.47" height="7.19" fill="rgb(95,95,255)"/>
<rect x="27.13" y="128.95" width="1.47" height="7.19" fill="rgb(0,0,255)"/>
<rect x="28.54" y="128.95" width="1.47" height="7.19" fill="rgb(0,0,255)"/>
<rect x="29.95" y="128.95" width="1.47" height="7.19" fill="rgb(255,250,250)"/>
<rect x="31.35" y="128.95" width="1.47" height="7.19" fill="rgb(255,250,250)"/>
<rect x="32.76" y="128.95" width="1.47" height="7.19" fill="rgb(0,0,255)"/>
<rect x="34.16" y="128.95" width="1.47" height="7.19" fill="rgb(0,0,255)"/>
<rect x="35.57" y="128.95" width="1.47" height="7.19" fill="rgb(0,0,255)"/>
<rect x="36.98" y="128.95" width="1.47" height="7.19" fill="rgb(255,250,250)"/>
<rect x="38.38" y="128.95" width="1.47" height="7.19" fill="rgb(175,175,255)"/>
<rect x="39.79" y="128.95" width="1.47" height="7.19" fill="rgb(175,175,255)"/>
<rect x="41.19" y="128.95" width="1.47" height="7.19" fill="rgb(175,175,255)"/>
<rect x="42.60" y="128.95" width="1.47" height="7.19" fill="rgb(255,170,170)"/>
<rect x="44.00" y="128.95" width="1.47" height="7.19" fill="rgb(0,0,255)"/>
<rect x="45.41" y="128.95" width="1.47" height="7.19" fill="rgb(0,0,255)"/>
<rect x="46.82" y="128.95" width="1.47" height="7.19" fill="rgb(0,0,255)"/>
<rect x="48.22" y="128.95" width="1.47" height="7.19" fill="rgb(175,175,255)"/>
<rect x="49.63" y="128.95" width="1.47" height="7.19" fill="rgb(255,170,170)"/>
<rect x="51.03" y="128.95" width="1.47" height="7.19" fill="rgb(175,175,255)"/>
<rect x="52.44" y="128.95" width="1.47" height="7.19" fill="rgb(175,175,255)"/>
<rect x="53.84" y="128.95" width="1.47" height="7.19" fill="rgb(255,250,250)"/>
<rect x="55.25" y="128.95" width="1.47" height="7.19" fill="rgb(255,170,170)"/>
<rect x="56.66" y="128.95" width="1.47" height="7.19" fill="rgb(255,170,170)"/>
<rect x="58.06" y="128.95" width="1.47" height="7.19" fill="rgb(175,175,255)"/>
<rect x="59.47" y="128.95" width="1.47" height="7.19" fill="rgb(95,95,255)"/>
<rect x="60.87" y="128.95" width="1.47" height="7.19" fill="rgb(175,175,255)"/>
<rect x="62.28" y="128.95" width="1.47" height="7.19" fill="rgb(255,250,250)"/>
<rect x="63.69" y="128.95" width="1.47" height="7.19" fill="rgb(175,175,255)"/>
<rect x="65.09" y="128.95" width="1.47" height="7.19" fill="rgb(95,95,255)"/>
<rect x="66.50" y="128.95" width="1.47" height="7.19" fill="rgb(95,95,255)"/>
<rect x="67.90" y="128.95" width="1.47" height="7.19" fill="rgb(255,170,170)"/>
<rect x="69.31" y="128.95" width="1.47" height="7.19" fill="rgb(255,250,250)"/>
<rect x="70.71" y="128.95" width="1.47" height="7.19" fill="rgb(175,175,255)"/>
<rect x="72.12" y="128.95" width="1.47" height="7.19" fill="rgb(255,170,170)"/>
<rect x="73.53" y="128.95" width="1.47" height="7.19" fill="rgb(255,170,170)"/>
<rect x="74.93" y="128.95" width="1.47" height="7.19" fill="rgb(255,250,250)"/>
<rect x="76.34" y="128.95" width="1.47" height="7.19" fill="rgb(255,250,250)"/>
<rect x="77.74" y="128.95" width="1.47" height="7.19" fill="rgb(255,250,250)"/>
<rect x="79.15" y="128.95" width="1.47" height="7.19" fill="rgb(255,250,250)"/>
<rect x="80.56" y="128.95" width="1.47" height="7.19" fill="rgb(255,170,170)"/>
<rect x="81.96" y="128.95" width="1.47" height="7.19" fill="rgb(255,170,170)"/>
<rect x="83.37" y="128.95" width="1.47" height="7.19" fill="rgb(175,175,255)"/>
<rect x="84.77" y="128.95" width="1.47" height="7.19" fill="rgb(255,250,250)"/>
<rect x="86.18" y="128.95" width="1.47" height="7.19" fill="rgb(255,0,0)"/>
<rect x="87.58" y="128.95" width="1.47" height="7.19" fill="rgb(255,250,250)"/>
<rect x="88.99" y="128.95" width="1.47" height="7.19" fill="rgb(175,175,255)"/>
<rect x="90.40" y="128.95" width="1.47" height="7.19" fill="rgb(255,0,0)"/>
<rect x="91.80" y="128.95" width="1.47" height="7.19" fill="rgb(255,0,0)"/>
<rect x="93.21" y="128.95" width="1.47" height="7.19" fill="rgb(255,170,170)"/>
<rect x="94.61" y="128.95" width="1.47" height="7.19" fill="rgb(255,85,85)"/>
<rect x="96.02" y="128.95" width="1.47" height="7.19" fill="rgb(255,0,0)"/>
<rect x="97.42" y="128.95" width="1.47" height="7.19" fill="rgb(255,170,170)"/>
<rect x="98.83" y="128.95" width="1.47" height="7.19" fill="rgb(255,0,0)"/>
<rect x="100.24" y="128.95" width="1.47" height="7.19" fill="rgb(255,250,250)"/>
<rect x="101.64" y="128.95" width="1.47" height="7.19" fill="rgb(255,0,0)"/>
<rect x="103.05" y="128.95" width="1.47" height="7.19" fill="rgb(255,250,250)"/>
<rect x="104.45" y="128.95" width="1.47" height="7.19" fill="rgb(255,0,0)"/>
<rect x="105.86" y="128.95" width="1.47" height="7.19" fill="rgb(255,85,85)"/>
<rect x="107.27" y="128.95" width="1.47" height="7.19" fill="rgb(255,85,85)"/>
<rect x="108.67" y="128.95" width="1.47" height="7.19" fill="rgb(255,0,0)"/>
<rect x="110.08" y="128.95" width="1.47" height="7.19" fill="rgb(255,0,0)"/>
<rect x="111.48" y="128.95" width="1.47" height="7.19" fill="rgb(255,0,0)"/>
<rect x="112.89" y="128.95" width="1.47" height="7.19" fill="rgb(255,0,0)"/>
<rect x="114.29" y="128.95" width="1.47" height="7.19" fill="rgb(255,0,0)"/>
<rect x="18.70" y="136.08" width="1.47" height="7.19" fill="rgb(0,0,255)"/>
<rect x="20.11" y="136.08" width="1.47" height="7.19" fill="rgb(175,175,255)"/>
<rect x="21.51" y="136.08" width="1.47" height="7.19" fill="rgb(175,175,255)"/>
<rect x="22.92" y="136.08" width="1.47" height="7.19" fill="rgb(255,250,250)"/>
<rect x="24.32" y="136.08" width="1.47" height="7.19" fill="rgb(255,170,170)"/>
<rect x="25.73" y="136.08" width="1.47" height="7.19" fill="rgb(255,250,250)"/>
<rect x="27.13" y="136.08" width="1.47" height="7.19" fill="rgb(0,0,255)"/>
<rect x="28.54" y="136.08" width="1.47" height="7.19" fill="rgb(0,0,255)"/>
<rect x="29.95" y="136.08" width="1.47" height="7.19" fill="rgb(0,0,255)"/>
<rect x="31.35" y="136.08" width="1.47" height="7.19" fill="rgb(255,170,170)"/>
<rect x="32.76" y="136.08" width="1.47" height="7.19" fill="rgb(175,175,255)"/>
<rect x="34.16" y="136.08" width="1.47" height="7.19" fill="rgb(175,175,255)"/>
<rect x="35.57" y="136.08" width="1.47" height="7.19" fill="rgb(175,175,255)"/>
<rect x="36.98" y="136.08" width="1.47" height="7.19" fill="rgb(255,85,85)"/>
<rect x="38.38" y="136.08" width="1.47" height="7.19" fill="rgb(255,85,85)"/>
<rect x="39.79" y="136.08" width="1.47" height="7.19" fill="rgb(175,175,255)"/>
<rect x="41.19" y="136.08" width="1.47" height="7.19" fill="rgb(255,170,170)"/>
<rect x="42.60" y="136.08" width="1.47" height="7.19" fill="rgb(175,175,255)"/>
<rect x="44.00" y="136.08" width="1.47" height="7.19" fill="rgb(95,95,255)"/>
<rect x="45.41" y="136.08" width="1.47" height="7.19" fill="rgb(95,95,255)"/>
<rect x="46.82" y="136.08" width="1.47" height="7.19" fill="rgb(255,250,250)"/>
<rect x="48.22" y="136.08" width="1.47" height="7.19" fill="rgb(255,170,170)"/>
<rect x="49.63" y="136.08" width="1.47" height="7.19" fill="rgb(95,95,255)"/>
<rect x="51.03" y="136.08" width="1.47" height="7.19" fill="rgb(255,250,250)"/>
<rect x="52.44" y="136.08" width="1.47" height="7.19" fill="rgb(175,175,255)"/>
<rect x="53.84" y="136.08" width="1.47" height="7.19" fill="rgb(0,0,255)"/>
<rect x="55.25" y="136.08" width="1.47" height="7.19" fill="rgb(255,250,250)"/>
<rect x="56.66" y="136.08" width="1.47" height="7.19" fill="rgb(255,0,0)"/>
<rect x="58.06" y="136.08" width="1.47" height="7.19" fill="rgb(255,250,250)"/>
<rect x="59.47" y="136.08" width="1.47" height="7.19" fill="rgb(0,0,255)"/>
<rect x="60.87" y="136.08" width="1.47" height="7.19" fill="rgb(175,175,255)"/>
<rect x="62.28" y="136.08" width="1.47" height="7.19" fill="rgb(95,95,255)"/>
<rect x="63.69" y="136.08" width="1.47" height="7.19" fill="rgb(175,175,255)"/>
<rect x="65.09" y="136.08" width="1.47" height="7.19" fill="rgb(255,250,250)"/>
<rect x="66.50" y="136.08" width="1.47" height="7.19" fill="rgb(95,95,255)"/>
<rect x="67.90" y="136.08" width="1.47" height="7.19" fill="rgb(95,95,255)"/>
<rect x="69.31" y="136.08" width="1.47" height="7.19" fill="rgb(255,85,85)"/>
<rect x="70.71" y="136.08" width="1.47" height="7.19" fill="rgb(175,175,255)"/>
<rect x="72.12" y="136.08" width="1.47" height="7.19" fill="rgb(255,250,250)"/>
<rect x="73.53" y="136.08" width="1.47" height="7.19" fill="rgb(255,170,170)"/>
<rect x="74.93" y="136.08" width="1.47" height="7.19" fill="rgb(175,175,255)"/>
<rect x="76.34" y="136.08" width="1.47" height="7.19" fill="rgb(0,0,255)"/>
<rect x="77.74" y="136.08" width="1.47" height="7.19" fill="rgb(255,250,250)"/>
<rect x="79.15" y="136.08" width="1.47" height="7.19" fill="rgb(175,175,255)"/>
<rect x="80.56" y="136.08" width="1.47" height="7.19" fill="rgb(255,250,250)"/>
<rect x="81.96" y="136.08" width="1.47" height="7.19" fill="rgb(0,0,255)"/>
<rect x="83.37" y="136.08" width="1.47" height="7.19" fill="rgb(0,0,255)"/>
<rect x="84.77" y="136.08" width="1.47" height="7.19" fill="rgb(175,175,255)"/>
<rect x="86.18" y="136.08" width="1.47" height="7.19" fill="rgb(255,250,250)"/>
<rect x="87.58" y="136.08" width="1.47" height="7.19" fill="rgb(255,170,170)"/>
<rect x="88.99" y="136.08" width="1.47" height="7.19" fill="rgb(0,0,255)"/>
<rect x="90.40" y="136.08" width="1.47" height="7.19" fill="rgb(255,250,250)"/>
<rect x="91.80" y="136.08" width="1.47" height="7.19" fill="rgb(255,85,85)"/>
<rect x="93.21" y="136.08" width="1.47" height="7.19" fill="rgb(255,85,85)"/>
<rect x="94.61" y="136.08" width="1.47" height="7.19" fill="rgb(255,0,0)"/>
<rect x="96.02" y="136.08" width="1.47" height="7.19" fill="rgb(255,0,0)"/>
<rect x="97.42" y="136.08" width="1.47" height="7.19" fill="rgb(255,170,170)"/>
<rect x="98.83" y="136.08" width="1.47" height="7.19" fill="rgb(255,250,250)"/>
<rect x="100.24" y="136.08" width="1.47" height="7.19" fill="rgb(95,95,255)"/>
<rect x="101.64" y="136.08" width="1.47" height="7.19" fill="rgb(255,85,85)"/>
<rect x="103.05" y="136.08" width="1.47" height="7.19" fill="rgb(255,170,170)"/>
<rect x="104.45" y="136.08" width="1.47" height="7.19" fill="rgb(255,0,0)"/>
<rect x="105.86" y="136.08" width="1.47" height="7.19" fill="rgb(255,170,170)"/>
<rect x="107.27" y="136.08" width="1.47" height="7.19" fill="rgb(255,0,0)"/>
<rect x="108.67" y="136.08" width="1.47" height="7.19" fill="rgb(255,85,85)"/>
<rect x="110.08" y="136.08" width="1.47" height="7.19" fill="rgb(255,0,0)"/>
<rect x="111.48" y="136.08" width="1.47" height="7.19" fill="rgb(255,170,170)"/>
<rect x="112.89" y="136.08" width="1.47" height="7.19" fill="rgb(255,170,170)"/>
<rect x="114.29" y="136.08" width="1.47" height="7.19" fill="rgb(255,250,250)"/>
<rect x="18.70" y="143.20" width="1.47" height="7.19" fill="rgb(0,0,255)"/>
<rect x="20.11" y="143.20" width="1.47" height="7.19" fill="rgb(175,175,255)"/>
<rect x="21.51" y="143.20" width="1.47" height="7.19" fill="rgb(255,250,250)"/>
<rect x="22.92" y="143.20" width="1.47" height="7.19" fill="rgb(0,0,255)"/>
<rect x="24.32" y="143.20" width="1.47" height="7.19" fill="rgb(175,175,255)"/>
<rect x="25.73" y="143.20" width="1.47" height="7.19" fill="rgb(0,0,255)"/>
<rect x="27.13" y="143.20" width="1.47" height="7.19" fill="rgb(95,95,255)"/>
<rect x="28.54" y="143.20" width="1.47" height="7.19" fill="rgb(255,0,0)"/>
<rect x="29.95" y="143.20" width="1.47" height="7.19" fill="rgb(175,175,255)"/>
<rect x="31.35" y="143.20" width="1.47" height="7.19" fill="rgb(0,0,255)"/>
<rect x="32.76" y="143.20" width="1.47" height="7.19" fill="rgb(255,170,170)"/>
<rect x="34.16" y="143.20" width="1.47" height="7.19" fill="rgb(255,250,250)"/>
<rect x="35.57" y="143.20" width="1.47" height="7.19" fill="rgb(175,175,255)"/>
<rect x="36.98" y="143.20" width="1.47" height="7.19" fill="rgb(255,170,170)"/>
<rect x="38.38" y="143.20" width="1.47" height="7.19" fill="rgb(255,85,85)"/>
<rect x="39.79" y="143.20" width="1.47" height="7.19" fill="rgb(255,170,170)"/>
<rect x="41.19" y="143.20" width="1.47" height="7.19" fill="rgb(175,175,255)"/>
<rect x="42.60" y="143.20" width="1.47" height="7.19" fill="rgb(255,250,250)"/>
<rect x="44.00" y="143.20" width="1.47" height="7.19" fill="rgb(255,0,0)"/>
<rect x="45.41" y="143.20" width="1.47" height="7.19" fill="rgb(255,170,170)"/>
<rect x="46.82" y="143.20" width="1.47" height="7.19" fill="rgb(255,85,85)"/>
<rect x="48.22" y="143.20" width="1.47" height="7.19" fill="rgb(255,85,85)"/>
<rect x="49.63" y="143.20" width="1.47" height="7.19" fill="rgb(255,170,170)"/>
<rect x="51.03" y="143.20" width="1.47" height="7.19" fill="rgb(255,250,250)"/>
<rect x="52.44" y="143.20" width="1.47" height="7.19" fill="rgb(175,175,255)"/>
<rect x="53.84" y="143.20" width="1.47" height="7.19" fill="rgb(95,95,255)"/>
<rect x="55.25" y="143.20" width="1.47" height="7.19" fill="rgb(255,170,170)"/>
<rect x="56.66" y="143.20" width="1.47" height="7.19" fill="rgb(255,250,250)"/>
<rect x="58.06" y="143.20" width="1.47" height="7.19" fill="rgb(255,170,170)"/>
<rect x="59.47" y="143.20" width="1.47" height="7.19" fill="rgb(175,175,255)"/>
<rect x="60.87" y="143.20" width="1.47" height="7.19" fill="rgb(0,0,255)"/>
<rect x="62.28" y="143.20" width="1.47" height="7.19" fill="rgb(255,0,0)"/>
<rect x="63.69" y="143.20" width="1.47" height="7.19" fill="rgb(255,0,0)"/>
<rect x="65.09" y="143.20" width="1.47" height="7.19" fill="rgb(255,170,170)"/>
<rect x="66.50" y="143.20" width="1.47" height="7.19" fill="rgb(175,175,255)"/>
<rect x="67.90" y="143.20" width="1.47" height="7.19" fill="rgb(255,170,170)"/>
<rect x="69.31" y="143.20" width="1.47" height="7.19" fill="rgb(0,0,255)"/>
<rect x="70.71" y="143.20" width="1.47" height="7.19" fill="rgb(255,250,250)"/>
<rect x="72.12" y="143.20" width="1.47" height="7.19" fill="rgb(255,170,170)"/>
<rect x="73.53" y="143.20" width="1.47" height="7.19" fill="rgb(255,250,250)"/>
<rect x="74.93" y="143.20" width="1.47" height="7.19" fill="rgb(255,170,170)"/>
<rect x="76.34" y="143.20" width="1.47" height="7.19" fill="rgb(175,175,255)"/>
<rect x="77.74" y="143.20" width="1.47" height="7.19" fill="rgb(255,250,250)"/>
<rect x="79.15" y="143.20" width="1.47" height="7.19" fill="rgb(95,95,255)"/>
<rect x="80.56" y="143.20" width="1.47" height="7.19" fill="rgb(95,95,255)"/>
<rect x="81.96" y="143.20" width="1.47" height="7.19" fill="rgb(255,250,250)"/>
<rect x="83.37" y="143.20" width="1.47" height="7.19" fill="rgb(255,85,85)"/>
<rect x="84.77" y="143.20" width="1.47" height="7.19" fill="rgb(255,85,85)"/>
<rect x="86.18" y="143.20" width="1.47" height="7.19" fill="rgb(175,175,255)"/>
<rect x="87.58" y="143.20" width="1.47" height="7.19" fill="rgb(255,250,250)"/>
<rect x="88.99" y="143.20" width="1.47" height="7.19" fill="rgb(255,170,170)"/>
<rect x="90.40" y="143.20" width="1.47" height="7.19" fill="rgb(175,175,255)"/>
<rect x="91.80" y="143.20" width="1.47" height="7.19" fill="rgb(0,0,255)"/>
<rect x="93.21" y="143.20" width="1.47" height="7.19" fill="rgb(170,0,110)"/>
<rect x="94.61" y="143.20" width="1.47" height="7.19" fill="rgb(255,250,250)"/>
<rect x="96.02" y="143.20" width="1.47" height="7.19" fill="rgb(0,0,255)"/>
<rect x="97.42" y="143.20" width="1.47" height="7.19" fill="rgb(0,0,255)"/>
<rect x="98.83" y="143.20" width="1.47" height="7.19" fill="rgb(255,250,250)"/>
<rect x="100.24" y="143.20" width="1.47" height="7.19" fill="rgb(255,170,170)"/>
<rect x="101.64" y="143.20" width="1.47" height="7.19" fill="rgb(175,175,255)"/>
<rect x="103.05" y="143.20" width="1.47" height="7.19" fill="rgb(255,250,250)"/>
<rect x="104.45" y="143.20" width="1.47" height="7.19" fill="rgb(175,175,255)"/>
<rect x="105.86" y="143.20" width="1.47" height="7.19" fill="rgb(255,250,250)"/>
<rect x="107.27" y="143.20" width="1.47" height="7.19" fill="rgb(255,250,250)"/>
<rect x="108.67" y="143.20" width="1.47" height="7.19" fill="rgb(255,170,170)"/>
<rect x="110.08" y="143.20" width="1.47" height="7.19" fill="rgb(255,0,0)"/>
<rect x="111.48" y="143.20" width="1.47" height="7.19" fill="rgb(255,0,0)"/>
<rect x="112.89" y="143.20" width="1.47" height="7.19" fill="rgb(255,0,0)"/>
<rect x="114.29" y="143.20" width="1.47" height="7.19" fill="rgb(255,170,170)"/>
<rect x="18.70" y="150.33" width="1.47" height="7.19" fill="rgb(95,95,255)"/>
<rect x="20.11" y="150.33" width="1.47" height="7.19" fill="rgb(255,250,250)"/>
<rect x="21.51" y="150.33" width="1.47" height="7.19" fill="rgb(95,95,255)"/>
<rect x="22.92" y="150.33" width="1.47" height="7.19" fill="rgb(255,250,250)"/>
<rect x="24.32" y="150.33" width="1.47" height="7.19" fill="rgb(0,0,255)"/>
<rect x="25.73" y="150.33" width="1.47" height="7.19" fill="rgb(0,0,255)"/>
<rect x="27.13" y="150.33" width="1.47" height="7.19" fill="rgb(175,175,255)"/>
<rect x="28.54" y="150.33" width="1.47" height="7.19" fill="rgb(95,95,255)"/>
<rect x="29.95" y="150.33" width="1.47" height="7.19" fill="rgb(255,170,170)"/>
<rect x="31.35" y="150.33" width="1.47" height="7.19" fill="rgb(0,0,255)"/>
<rect x="32.76" y="150.33" width="1.47" height="7.19" fill="rgb(0,0,255)"/>
<rect x="34.16" y="150.33" width="1.47" height="7.19" fill="rgb(0,0,255)"/>
<rect x="35.57" y="150.33" width="1.47" height="7.19" fill="rgb(0,0,255)"/>
<rect x="36.98" y="150.33" width="1.47" height="7.19" fill="rgb(255,170,170)"/>
<rect x="38.38" y="150.33" width="1.47" height="7.19" fill="rgb(0,0,255)"/>
<rect x="39.79" y="150.33" width="1.47" height="7.19" fill="rgb(0,0,255)"/>
<rect x="41.19" y="150.33" width="1.47" height="7.19" fill="rgb(175,175,255)"/>
<rect x="42.60" y="150.33" width="1.47" height="7.19" fill="rgb(255,250,250)"/>
<rect x="44.00" y="150.33" width="1.47" height="7.19" fill="rgb(175,175,255)"/>
<rect x="45.41" y="150.33" width="1.47" height="7.19" fill="rgb(0,0,255)"/>
<rect x="46.82" y="150.33" width="1.47" height="7.19" fill="rgb(255,250,250)"/>
<rect x="48.22" y="150.33" width="1.47" height="7.19" fill="rgb(175,175,255)"/>
<rect x="49.63" y="150.33" width="1.47" height="7.19" fill="rgb(0,0,255)"/>
<rect x="51.03" y="150.33" width="1.47" height="7.19" fill="rgb(0,0,255)"/>
<rect x="52.44" y="150.33" width="1.47" height="7.19" fill="rgb(255,170,170)"/>
<rect x="53.84" y="150.33" width="1.47" height="7.19" fill="rgb(255,0,0)"/>
<rect x="55.25" y="150.33" width="1.47" height="7.19" fill="rgb(255,250,250)"/>
<rect x="56.66" y="150.33" width="1.47" height="7.19" fill="rgb(175,175,255)"/>
<rect x="58.06" y="150.33" width="1.47" height="7.19" fill="rgb(175,175,255)"/>
<rect x="59.47" y="150.33" width="1.47" height="7.19" fill="rgb(0,0,255)"/>
<rect x="60.87" y="150.33" width="1.47" height="7.19" fill="rgb(175,175,255)"/>
<rect x="62.28" y="150.33" width="1.47" height="7.19" fill="rgb(255,250,250)"/>
<rect x="63.69" y="150.33" width="1.47" height="7.19" fill="rgb(255,170,170)"/>
<rect x="65.09" y="150.33" width="1.47" height="7.19" fill="rgb(175,175,255)"/>
<rect x="66.50" y="150.33" width="1.47" height="7.19" fill="rgb(255,250,250)"/>
<rect x="67.90" y="150.33" width="1.47" height="7.19" fill="rgb(255,250,250)"/>
<rect x="69.31" y="150.33" width="1.47" height="7.19" fill="rgb(255,0,0)"/>
<rect x="70.71" y="150.33" width="1.47" height="7.19" fill="rgb(255,250,250)"/>
<rect x="72.12" y="150.33" width="1.47" height="7.19" fill="rgb(175,175,255)"/>
<rect x="73.53" y="150.33" width="1.47" height="7.19" fill="rgb(255,250,250)"/>
<rect x="74.93" y="150.33" width="1.47" height="7.19" fill="rgb(255,0,0)"/>
<rect x="76.34" y="150.33" width="1.47" height="7.19" fill="rgb(255,170,170)"/>
<rect x="77.74" y="150.33" width="1.47" height="7.19" fill="rgb(255,0,0)"/>
<rect x="79.15" y="150.33" width="1.47" height="7.19" fill="rgb(255,250,250)"/>
<rect x="80.56" y="150.33" width="1.47" height="7.19" fill="rgb(255,170,170)"/>
<rect x="81.96" y="150.33" width="1.47" height="7.19" fill="rgb(255,0,0)"/>
<rect x="83.37" y="150.33" width="1.47" height="7.19" fill="rgb(255,170,170)"/>
<rect x="84.77" y="150.33" width="1.47" height="7.19" fill="rgb(175,175,255)"/>
<rect x="86.18" y="150.33" width="1.47" height="7.19" fill="rgb(255,170,170)"/>
<rect x="87.58" y="150.33" width="1.47" height="7.19" fill="rgb(255,250,250)"/>
<rect x="88.99" y="150.33" width="1.47" height="7.19" fill="rgb(255,0,0)"/>
<rect x="90.40" y="150.33" width="1.47" height="7.19" fill="rgb(255,170,170)"/>
<rect x="91.80" y="150.33" width="1.47" height="7.19" fill="rgb(255,85,85)"/>
<rect x="93.21" y="150.33" width="1.47" height="7.19" fill="rgb(0,0,255)"/>
<rect x="94.61" y="150.33" width="1.47" height="7.19" fill="rgb(255,250,250)"/>
<rect x="96.02" y="150.33" width="1.47" height="7.19" fill="rgb(255,0,0)"/>
<rect x="97.42" y="150.33" width="1.47" height="7.19" fill="rgb(255,250,250)"/>
<rect x="98.83" y="150.33" width="1.47" height="7.19" fill="rgb(255,170,170)"/>
<rect x="100.24" y="150.33" width="1.47" height="7.19" fill="rgb(255,0,0)"/>
<rect x="101.64" y="150.33" width="1.47" height="7.19" fill="rgb(255,250,250)"/>
<rect x="103.05" y="150.33" width="1.47" height="7.19" fill="rgb(255,0,0)"/>
<rect x="104.45" y="150.33" width="1.47" height="7.19" fill="rgb(255,0,0)"/>
<rect x="105.86" y="150.33" width="1.47" height="7.19" fill="rgb(255,85,85)"/>
<rect x="107.27" y="150.33" width="1.47" height="7.19" fill="rgb(255,170,170)"/>
<rect x="108.67" y="150.33" width="1.47" height="7.19" fill="rgb(175,175,255)"/>
<rect x="110.08" y="150.33" width="1.47" height="7.19" fill="rgb(255,0,0)"/>
<rect x="111.48" y="150.33" width="1.47" height="7.19" fill="rgb(255,85,85)"/>
<rect x="112.89" y="150.33" width="1.47" height="7.19" fill="rgb(255,170,170)"/>
<rect x="114.29" y="150.33" width="1.47" height="7.19" fill="rgb(255,170,170)"/>
<rect x="18.70" y="157.46" width="1.47" height="7.19" fill="rgb(175,175,255)"/>
<rect x="20.11" y="157.46" width="1.47" height="7.19" fill="rgb(95,95,255)"/>
<rect x="21.51" y="157.46" width="1.47" height="7.19" fill="rgb(0,0,255)"/>
<rect x="22.92" y="157.46" width="1.47" height="7.19" fill="rgb(0,0,255)"/>
<rect x="24.32" y="157.46" width="1.47" height="7.19" fill="rgb(0,0,255)"/>
<rect x="25.73" y="157.46" width="1.47" height="7.19" fill="rgb(175,175,255)"/>
<rect x="27.13" y="157.46" width="1.47" height="7.19" fill="rgb(175,175,255)"/>
<rect x="28.54" y="157.46" width="1.47" height="7.19" fill="rgb(255,85,85)"/>
<rect x="29.95" y="157.46" width="1.47" height="7.19" fill="rgb(175,175,255)"/>
<rect x="31.35" y="157.46" width="1.47" height="7.19" fill="rgb(0,0,255)"/>
<rect x="32.76" y="157.46" width="1.47" height="7.19" fill="rgb(175,175,255)"/>
<rect x="34.16" y="157.46" width="1.47" height="7.19" fill="rgb(255,170,170)"/>
<rect x="35.57" y="157.46" width="1.47" height="7.19" fill="rgb(255,170,170)"/>
<rect x="36.98" y="157.46" width="1.47" height="7.19" fill="rgb(175,175,255)"/>
<rect x="38.38" y="157.46" width="1.47" height="7.19" fill="rgb(255,85,85)"/>
<rect x="39.79" y="157.46" width="1.47" height="7.19" fill="rgb(175,175,255)"/>
<rect x="41.19" y="157.46" width="1.47" height="7.19" fill="rgb(255,170,170)"/>
<rect x="42.60" y="157.46" width="1.47" height="7.19" fill="rgb(175,175,255)"/>
<rect x="44.00" y="157.46" width="1.47" height="7.19" fill="rgb(95,95,255)"/>
<rect x="45.41" y="157.46" width="1.47" height="7.19" fill="rgb(175,175,255)"/>
<rect x="46.82" y="157.46" width="1.47" height="7.19" fill="rgb(255,250,250)"/>
<rect x="48.22" y="157.46" width="1.47" height="7.19" fill="rgb(255,170,170)"/>
<rect x="49.63" y="157.46" width="1.47" height="7.19" fill="rgb(255,170,170)"/>
<rect x="51.03" y="157.46" width="1.47" height="7.19" fill="rgb(175,175,255)"/>
<rect x="52.44" y="157.46" width="1.47" height="7.19" fill="rgb(95,95,255)"/>
<rect x="53.84" y="157.46" width="1.47" height="7.19" fill="rgb(175,175,255)"/>
<rect x="55.25" y="157.46" width="1.47" height="7.19" fill="rgb(95,95,255)"/>
<rect x="56.66" y="157.46" width="1.47" height="7.19" fill="rgb(175,175,255)"/>
<rect x="58.06" y="157.46" width="1.47" height="7.19" fill="rgb(255,250,250)"/>
<rect x="59.47" y="157.46" width="1.47" height="7.19" fill="rgb(175,175,255)"/>
<rect x="60.87" y="157.46" width="1.47" height="7.19" fill="rgb(255,250,250)"/>
<rect x="62.28" y="157.46" width="1.47" height="7.19" fill="rgb(255,85,85)"/>
<rect x="63.69" y="157.46" width="1.47" height="7.19" fill="rgb(255,170,170)"/>
<rect x="65.09" y="157.46" width="1.47" height="7.19" fill="rgb(175,175,255)"/>
<rect x="66.50" y="157.46" width="1.47" height="7.19" fill="rgb(255,170,170)"/>
<rect x="67.90" y="157.46" width="1.47" height="7.19" fill="rgb(255,170,170)"/>
<rect x="69.31" y="157.46" width="1.47" height="7.19" fill="rgb(255,170,170)"/>
<rect x="70.71" y="157.46" width="1.47" height="7.19" fill="rgb(255,85,85)"/>
<rect x="72.12" y="157.46" width="1.47" height="7.19" fill="rgb(255,85,85)"/>
<rect x="73.53" y="157.46" width="1.47" height="7.19" fill="rgb(255,250,250)"/>
<rect x="74.93" y="157.46" width="1.47" height="7.19" fill="rgb(255,170,170)"/>
<rect x="76.34" y="157.46" width="1.47" height="7.19" fill="rgb(255,0,0)"/>
<rect x="77.74" y="157.46" width="1.47" height="7.19" fill="rgb(255,170,170)"/>
<rect x="79.15" y="157.46" width="1.47" height="7.19" fill="rgb(255,250,250)"/>
<rect x="80.56" y="157.46" width="1.47" height="7.19" fill="rgb(255,170,170)"/>
<rect x="81.96" y="157.46" width="1.47" height="7.19" fill="rgb(255,250,250)"/>
<rect x="83.37" y="157.46" width="1.47" height="7.19" fill="rgb(255,0,0)"/>
<rect x="84.77" y="157.46" width="1.47" height="7.19" fill="rgb(255,0,0)"/>
<rect x="86.18" y="157.46" width="1.47" height="7.19" fill="rgb(255,250,250)"/>
<rect x="87.58" y="157.46" width="1.47" height="7.19" fill="rgb(175,175,255)"/>
<rect x="88.99" y="157.46" width="1.47" height="7.19" fill="rgb(255,85,85)"/>
<rect x="90.40" y="157.46" width="1.47" height="7.19" fill="rgb(255,85,85)"/>
<rect x="91.80" y="157.46" width="1.47" height="7.19" fill="rgb(255,170,170)"/>
<rect x="93.21" y="157.46" width="1.47" height="7.19" fill="rgb(255,85,85)"/>
<rect x="94.61" y="157.46" width="1.47" height="7.19" fill="rgb(95,95,255)"/>
<rect x="96.02" y="157.46" width="1.47" height="7.19" fill="rgb(95,95,255)"/>
<rect x="97.42" y="157.46" width="1.47" height="7.19" fill="rgb(255,250,250)"/>
<rect x="98.83" y="157.46" width="1.47" height="7.19" fill="rgb(255,0,0)"/>
<rect x="100.24" y="157.46" width="1.47" height="7.19" fill="rgb(255,170,170)"/>
<rect x="101.64" y="157.46" width="1.47" height="7.19" fill="rgb(255,85,85)"/>
<rect x="103.05" y="157.46" width="1.47" height="7.19" fill="rgb(255,250,250)"/>
<rect x="104.45" y="157.46" width="1.47" height="7.19" fill="rgb(255,0,0)"/>
<rect x="105.86" y="157.46" width="1.47" height="7.19" fill="rgb(255,170,170)"/>
<rect x="107.27" y="157.46" width="1.47" height="7.19" fill="rgb(255,0,0)"/>
<rect x="108.67" y="157.46" width="1.47" height="7.19" fill="rgb(255,250,250)"/>
<rect x="110.08" y="157.46" width="1.47" height="7.19" fill="rgb(255,85,85)"/>
<rect x="111.48" y="157.46" width="1.47" height="7.19" fill="rgb(255,85,85)"/>
<rect x="112.89" y="157.46" width="1.47" height="7.19" fill="rgb(255,170,170)"/>
<rect x="114.29" y="157.46" width="1.47" height="7.19" fill="rgb(255,170,170)"/>
<rect x="18.70" y="164.58" width="1.47" height="7.19" fill="rgb(0,0,255)"/>
<rect x="20.11" y="164.58" width="1.47" height="7.19" fill="rgb(95,95,255)"/>
<rect x="21.51" y="164.58" width="1.47" height="7.19" fill="rgb(255,250,250)"/>
<rect x="22.92" y="164.58" width="1.47" height="7.19" fill="rgb(0,0,255)"/>
<rect x="24.32" y="164.58" width="1.47" height="7.19" fill="rgb(0,0,255)"/>
<rect x="25.73" y="164.58" width="1.47" height="7.19" fill="rgb(255,250,250)"/>
<rect x="27.13" y="164.58" width="1.47" height="7.19" fill="rgb(175,175,255)"/>
<rect x="28.54" y="164.58" width="1.47" height="7.19" fill="rgb(255,0,0)"/>
<rect x="29.95" y="164.58" width="1.47" height="7.19" fill="rgb(175,175,255)"/>
<rect x="31.35" y="164.58" width="1.47" height="7.19" fill="rgb(95,95,255)"/>
<rect x="32.76" y="164.58" width="1.47" height="7.19" fill="rgb(175,175,255)"/>
<rect x="34.16" y="164.58" width="1.47" height="7.19" fill="rgb(255,170,170)"/>
<rect x="35.57" y="164.58" width="1.47" height="7.19" fill="rgb(255,250,250)"/>
<rect x="36.98" y="164.58" width="1.47" height="7.19" fill="rgb(255,170,170)"/>
<rect x="38.38" y="164.58" width="1.47" height="7.19" fill="rgb(0,0,255)"/>
<rect x="39.79" y="164.58" width="1.47" height="7.19" fill="rgb(175,175,255)"/>
<rect x="41.19" y="164.58" width="1.47" height="7.19" fill="rgb(255,250,250)"/>
<rect x="42.60" y="164.58" width="1.47" height="7.19" fill="rgb(0,0,255)"/>
<rect x="44.00" y="164.58" width="1.47" height="7.19" fill="rgb(170,0,110)"/>
<rect x="45.41" y="164.58" width="1.47" height="7.19" fill="rgb(255,0,0)"/>
<rect x="46.82" y="164.58" width="1.47" height="7.19" fill="rgb(175,175,255)"/>
<rect x="48.22" y="164.58" width="1.47" height="7.19" fill="rgb(0,0,255)"/>
<rect x="49.63" y="164.58" width="1.47" height="7.19" fill="rgb(255,250,250)"/>
<rect x="51.03" y="164.58" width="1.47" height="7.19" fill="rgb(255,85,85)"/>
<rect x="52.44" y="164.58" width="1.47" height="7.19" fill="rgb(175,175,255)"/>
<rect x="53.84" y="164.58" width="1.47" height="7.19" fill="rgb(95,95,255)"/>
<rect x="55.25" y="164.58" width="1.47" height="7.19" fill="rgb(255,250,250)"/>
<rect x="56.66" y="164.58" width="1.47" height="7.19" fill="rgb(175,175,255)"/>
<rect x="58.06" y="164.58" width="1.47" height="7.19" fill="rgb(95,95,255)"/>
<rect x="59.47" y="164.58" width="1.47" height="7.19" fill="rgb(0,0,255)"/>
<rect x="60.87" y="164.58" width="1.47" height="7.19" fill="rgb(0,0,255)"/>
<rect x="62.28" y="164.58" width="1.47" height="7.19" fill="rgb(255,250,250)"/>
<rect x="63.69" y="164.58" width="1.47" height="7.19" fill="rgb(255,170,170)"/>
<rect x="65.09" y="164.58" width="1.47" height="7.19" fill="rgb(175,175,255)"/>
<rect x="66.50" y="164.58" width="1.47" height="7.19" fill="rgb(95,95,255)"/>
<rect x="67.90" y="164.58" width="1.47" height="7.19" fill="rgb(175,175,255)"/>
<rect x="69.31" y="164.58" width="1.47" height="7.19" fill="rgb(255,170,170)"/>
<rect x="70.71" y="164.58" width="1.47" height="7.19" fill="rgb(255,250,250)"/>
<rect x="72.12" y="164.58" width="1.47" height="7.19" fill="rgb(255,250,250)"/>
<rect x="73.53" y="164.58" width="1.47" height="7.19" fill="rgb(255,85,85)"/>
<rect x="74.93" y="164.58" width="1.47" height="7.19" fill="rgb(255,85,85)"/>
<rect x="76.34" y="164.58" width="1.47" height="7.19" fill="rgb(255,170,170)"/>
<rect x="77.74" y="164.58" width="1.47" height="7.19" fill="rgb(255,250,250)"/>
<rect x="79.15" y="164.58" width="1.47" height="7.19" fill="rgb(255,170,170)"/>
<rect x="80.56" y="164.58" width="1.47" height="7.19" fill="rgb(255,0,0)"/>
<rect x="81.96" y="164.58" width="1.47" height="7.19" fill="rgb(255,250,250)"/>
<rect x="83.37" y="164.58" width="1.47" height="7.19" fill="rgb(255,85,85)"/>
<rect x="84.77" y="164.58" width="1.47" height="7.19" fill="rgb(255,85,85)"/>
<rect x="86.18" y="164.58" width="1.47" height="7.19" fill="rgb(0,0,255)"/>
<rect x="87.58" y="164.58" width="1.47" height="7.19" fill="rgb(255,250,250)"/>
<rect x="88.99" y="164.58" width="1.47" height="7.19" fill="rgb(255,170,170)"/>
<rect x="90.40" y="164.58" width="1.47" height="7.19" fill="rgb(175,175,255)"/>
<rect x="91.80" y="164.58" width="1.47" height="7.19" fill="rgb(255,170,170)"/>
<rect x="93.21" y="164.58" width="1.47" height="7.19" fill="rgb(255,170,170)"/>
<rect x="94.61" y="164.58" width="1.47" height="7.19" fill="rgb(175,175,255)"/>
<rect x="96.02" y="164.58" width="1.47" height="7.19" fill="rgb(255,170,170)"/>
<rect x="97.42" y="164.58" width="1.47" height="7.19" fill="rgb(255,0,0)"/>
<rect x="98.83" y="164.58" width="1.47" height="7.19" fill="rgb(255,250,250)"/>
<rect x="100.24" y="164.58" width="1.47" height="7.19" fill="rgb(255,170,170)"/>
<rect x="101.64" y="164.58" width="1.47" height="7.19" fill="rgb(255,250,250)"/>
<rect x="103.05" y="164.58" width="1.47" height="7.19" fill="rgb(255,85,85)"/>
<rect x="104.45" y="164.58" width="1.47" height="7.19" fill="rgb(175,175,255)"/>
<rect x="105.86" y="164.58" width="1.47" height="7.19" fill="rgb(255,170,170)"/>
<rect x="107.27" y="164.58" width="1.47" height="7.19" fill="rgb(255,250,250)"/>
<rect x="108.67" y="164.58" width="1.47" height="7.19" fill="rgb(255,85,85)"/>
<rect x="110.08" y="164.58" width="1.47" height="7.19" fill="rgb(255,85,85)"/>
<rect x="111.48" y="164.58" width="1.47" height="7.19" fill="rgb(255,170,170)"/>
<rect x="112.89" y="164.58" width="1.47" height="7.19" fill="rgb(255,0,0)"/>
<rect x="114.29" y="164.58" width="1.47" height="7.19" fill="rgb(255,0,0)"/>
<rect x="18.70" y="171.71" width="1.47" height="7.19" fill="rgb(255,250,250)"/>
<rect x="20.11" y="171.71" width="1.47" height="7.19" fill="rgb(0,0,255)"/>
<rect x="21.51" y="171.71" width="1.47" height="7.19" fill="rgb(255,250,250)"/>
<rect x="22.92" y="171.71" width="1.47" height="7.19" fill="rgb(0,0,255)"/>
<rect x="24.32" y="171.71" width="1.47" height="7.19" fill="rgb(255,0,0)"/>
<rect x="25.73" y="171.71" width="1.47" height="7.19" fill="rgb(255,250,250)"/>
<rect x="27.13" y="171.71" width="1.47" height="7.19" fill="rgb(175,175,255)"/>
<rect x="28.54" y="171.71" width="1.47" height="7.19" fill="rgb(175,175,255)"/>
<rect x="29.95" y="171.71" width="1.47" height="7.19" fill="rgb(175,175,255)"/>
<rect x="31.35" y="171.71" width="1.47" height="7.19" fill="rgb(255,170,170)"/>
<rect x="32.76" y="171.71" width="1.47" height="7.19" fill="rgb(175,175,255)"/>
<rect x="34.16" y="171.71" width="1.47" height="7.19" fill="rgb(95,95,255)"/>
<rect x="35.57" y="171.71" width="1.47" height="7.19" fill="rgb(175,175,255)"/>
<rect x="36.98" y="171.71" width="1.47" height="7.19" fill="rgb(255,250,250)"/>
<rect x="38.38" y="171.71" width="1.47" height="7.19" fill="rgb(175,175,255)"/>
<rect x="39.79" y="171.71" width="1.47" height="7.19" fill="rgb(0,0,255)"/>
<rect x="41.19" y="171.71" width="1.47" height="7.19" fill="rgb(255,250,250)"/>
<rect x="42.60" y="171.71" width="1.47" height="7.19" fill="rgb(175,175,255)"/>
<rect x="44.00" y="171.71" width="1.47" height="7.19" fill="rgb(255,170,170)"/>
<rect x="45.41" y="171.71" width="1.47" height="7.19" fill="rgb(255,250,250)"/>
<rect x="46.82" y="171.71" width="1.47" height="7.19" fill="rgb(255,170,170)"/>
<rect x="48.22" y="171.71" width="1.47" height="7.19" fill="rgb(0,0,255)"/>
<rect x="49.63" y="171.71" width="1.47" height="7.19" fill="rgb(255,250,250)"/>
<rect x="51.03" y="171.71" width="1.47" height="7.19" fill="rgb(255,170,170)"/>
<rect x="52.44" y="171.71" width="1.47" height="7.19" fill="rgb(255,170,170)"/>
<rect x="53.84" y="171.71" width="1.47" height="7.19" fill="rgb(255,250,250)"/>
<rect x="55.25" y="171.71" width="1.47" height="7.19" fill="rgb(175,175,255)"/>
<rect x="56.66" y="171.71" width="1.47" height="7.19" fill="rgb(255,250,250)"/>
<rect x="58.06" y="171.71" width="1.47" height="7.19" fill="rgb(175,175,255)"/>
<rect x="59.47" y="171.71" width="1.47" height="7.19" fill="rgb(255,250,250)"/>
<rect x="60.87" y="171.71" width="1.47" height="7.19" fill="rgb(255,170,170)"/>
<rect x="62.28" y="171.71" width="1.47" height="7.19" fill="rgb(175,175,255)"/>
<rect x="63.69" y="171.71" width="1.47" height="7.19" fill="rgb(255,250,250)"/>
<rect x="65.09" y="171.71" width="1.47" height="7.19" fill="rgb(255,170,170)"/>
<rect x="66.50" y="171.71" width="1.47" height="7.19" fill="rgb(175,175,255)"/>
<rect x="67.90" y="171.71" width="1.47" height="7.19" fill="rgb(255,170,170)"/>
<rect x="69.31" y="171.71" width="1.47" height="7.19" fill="rgb(255,170,170)"/>
<rect x="70.71" y="171.71" width="1.47" height="7.19" fill="rgb(0,0,255)"/>
<rect x="72.12" y="171.71" width="1.47" height="7.19" fill="rgb(255,250,250)"/>
<rect x="73.53" y="171.71" width="1.47" height="7.19" fill="rgb(255,170,170)"/>
<rect x="74.93" y="171.71" width="1.47" height="7.19" fill="rgb(255,85,85)"/>
<rect x="76.34" y="171.71" width="1.47" height="7.19" fill="rgb(255,85,85)"/>
<rect x="77.74" y="171.71" width="1.47" height="7.19" fill="rgb(255,85,85)"/>
<rect x="79.15" y="171.71" width="1.47" height="7.19" fill="rgb(255,85,85)"/>
<rect x="80.56" y="171.71" width="1.47" height="7.19" fill="rgb(255,170,170)"/>
<rect x="81.96" y="171.71" width="1.47" height="7.19" fill="rgb(255,250,250)"/>
<rect x="83.37" y="171.71" width="1.47" height="7.19" fill="rgb(255,85,85)"/>
<rect x="84.77" y="171.71" width="1.47" height="7.19" fill="rgb(255,170,170)"/>
<rect x="86.18" y="171.71" width="1.47" height="7.19" fill="rgb(0,0,255)"/>
<rect x="87.58" y="171.71" width="1.47" height="7.19" fill="rgb(255,170,170)"/>
<rect x="88.99" y="171.71" width="1.47" height="7.19" fill="rgb(255,250,250)"/>
<rect x="90.40" y="171.71" width="1.47" height="7.19" fill="rgb(95,95,255)"/>
<rect x="91.80" y="171.71" width="1.47" height="7.19" fill="rgb(255,250,250)"/>
<rect x="93.21" y="171.71" width="1.47" height="7.19" fill="rgb(255,170,170)"/>
<rect x="94.61" y="171.71" width="1.47" height="7.19" fill="rgb(95,95,255)"/>
<rect x="96.02" y="171.71" width="1.47" height="7.19" fill="rgb(255,170,170)"/>
<rect x="97.42" y="171.71" width="1.47" height="7.19" fill="rgb(255,250,250)"/>
<rect x="98.83" y="171.71" width="1.47" height="7.19" fill="rgb(255,170,170)"/>
<rect x="100.24" y="171.71" width="1.47" height="7.19" fill="rgb(255,85,85)"/>
<rect x="101.64" y="171.71" width="1.47" height="7.19" fill="rgb(255,170,170)"/>
<rect x="103.05" y="171.71" width="1.47" height="7.19" fill="rgb(255,250,250)"/>
<rect x="104.45" y="171.71" width="1.47" height="7.19" fill="rgb(255,170,170)"/>
<rect x="105.86" y="171.71" width="1.47" height="7.19" fill="rgb(255,250,250)"/>
<rect x="107.27" y="171.71" width="1.47" height="7.19" fill="rgb(255,0,0)"/>
<rect x="108.67" y="171.71" width="1.47" height="7.19" fill="rgb(255,0,0)"/>
<rect x="110.08" y="171.71" width="1.47" height="7.19" fill="rgb(255,0,0)"/>
<rect x="111.48" y="171.71" width="1.47" height="7.19" fill="rgb(255,0,0)"/>
<rect x="112.89" y="171.71" width="1.47" height="7.19" fill="rgb(255,85,85)"/>
<rect x="114.29" y="171.71" width="1.47" height="7.19" fill="rgb(255,85,85)"/>
<rect x="18.70" y="178.84" width="1.47" height="7.19" fill="rgb(0,0,255)"/>
<rect x="20.11" y="178.84" width="1.47" height="7.19" fill="rgb(255,250,250)"/>
<rect x="21.51" y="178.84" width="1.47" height="7.19" fill="rgb(175,175,255)"/>
<rect x="22.92" y="178.84" width="1.47" height="7.19" fill="rgb(175,175,255)"/>
<rect x="24.32" y="178.84" width="1.47" height="7.19" fill="rgb(255,250,250)"/>
<rect x="25.73" y="178.84" width="1.47" height="7.19" fill="rgb(175,175,255)"/>
<rect x="27.13" y="178.84" width="1.47" height="7.19" fill="rgb(0,0,255)"/>
<rect x="28.54" y="178.84" width="1.47" height="7.19" fill="rgb(0,0,255)"/>
<rect x="29.95" y="178.84" width="1.47" height="7.19" fill="rgb(175,175,255)"/>
<rect x="31.35" y="178.84" width="1.47" height="7.19" fill="rgb(0,0,255)"/>
<rect x="32.76" y="178.84" width="1.47" height="7.19" fill="rgb(0,0,255)"/>
<rect x="34.16" y="178.84" width="1.47" height="7.19" fill="rgb(0,0,255)"/>
<rect x="35.57" y="178.84" width="1.47" height="7.19" fill="rgb(0,0,255)"/>
<rect x="36.98" y="178.84" width="1.47" height="7.19" fill="rgb(175,175,255)"/>
<rect x="38.38" y="178.84" width="1.47" height="7.19" fill="rgb(255,85,85)"/>
<rect x="39.79" y="178.84" width="1.47" height="7.19" fill="rgb(255,250,250)"/>
<rect x="41.19" y="178.84" width="1.47" height="7.19" fill="rgb(175,175,255)"/>
<rect x="42.60" y="178.84" width="1.47" height="7.19" fill="rgb(255,250,250)"/>
<rect x="44.00" y="178.84" width="1.47" height="7.19" fill="rgb(255,0,0)"/>
<rect x="45.41" y="178.84" width="1.47" height="7.19" fill="rgb(255,250,250)"/>
<rect x="46.82" y="178.84" width="1.47" height="7.19" fill="rgb(0,0,255)"/>
<rect x="48.22" y="178.84" width="1.47" height="7.19" fill="rgb(175,175,255)"/>
<rect x="49.63" y="178.84" width="1.47" height="7.19" fill="rgb(255,85,85)"/>
<rect x="51.03" y="178.84" width="1.47" height="7.19" fill="rgb(255,250,250)"/>
<rect x="52.44" y="178.84" width="1.47" height="7.19" fill="rgb(175,175,255)"/>
<rect x="53.84" y="178.84" width="1.47" height="7.19" fill="rgb(175,175,255)"/>
<rect x="55.25" y="178.84" width="1.47" height="7.19" fill="rgb(175,175,255)"/>
<rect x="56.66" y="178.84" width="1.47" height="7.19" fill="rgb(95,95,255)"/>
<rect x="58.06" y="178.84" width="1.47" height="7.19" fill="rgb(95,95,255)"/>
<rect x="59.47" y="178.84" width="1.47" height="7.19" fill="rgb(175,175,255)"/>
<rect x="60.87" y="178.84" width="1.47" height="7.19" fill="rgb(0,0,255)"/>
<rect x="62.28" y="178.84" width="1.47" height="7.19" fill="rgb(255,250,250)"/>
<rect x="63.69" y="178.84" width="1.47" height="7.19" fill="rgb(255,250,250)"/>
<rect x="65.09" y="178.84" width="1.47" height="7.19" fill="rgb(255,170,170)"/>
<rect x="66.50" y="178.84" width="1.47" height="7.19" fill="rgb(175,175,255)"/>
<rect x="67.90" y="178.84" width="1.47" height="7.19" fill="rgb(255,170,170)"/>
<rect x="69.31" y="178.84" width="1.47" height="7.19" fill="rgb(255,85,85)"/>
<rect x="70.71" y="178.84" width="1.47" height="7.19" fill="rgb(255,170,170)"/>
<rect x="72.12" y="178.84" width="1.47" height="7.19" fill="rgb(255,250,250)"/>
<rect x="73.53" y="178.84" width="1.47" height="7.19" fill="rgb(175,175,255)"/>
<rect x="74.93" y="178.84" width="1.47" height="7.19" fill="rgb(255,250,250)"/>
<rect x="76.34" y="178.84" width="1.47" height="7.19" fill="rgb(255,0,0)"/>
<rect x="77.74" y="178.84" width="1.47" height="7.19" fill="rgb(255,250,250)"/>
<rect x="79.15" y="178.84" width="1.47" height="7.19" fill="rgb(175,175,255)"/>
<rect x="80.56" y="178.84" width="1.47" height="7.19" fill="rgb(255,170,170)"/>
<rect x="81.96" y="178.84" width="1.47" height="7.19" fill="rgb(255,250,250)"/>
<rect x="83.37" y="178.84" width="1.47" height="7.19" fill="rgb(255,170,170)"/>
<rect x="84.77" y="178.84" width="1.47" height="7.19" fill="rgb(255,170,170)"/>
<rect x="86.18" y="178.84" width="1.47" height="7.19" fill="rgb(255,0,0)"/>
<rect x="87.58" y="178.84" width="1.47" height="7.19" fill="rgb(255,170,170)"/>
<rect x="88.99" y="178.84" width="1.47" height="7.19" fill="rgb(255,250,250)"/>
<rect x="90.40" y="178.84" width="1.47" height="7.19" fill="rgb(255,85,85)"/>
<rect x="91.80" y="178.84" width="1.47" height="7.19" fill="rgb(255,250,250)"/>
<rect x="93.21" y="178.84" width="1.47" height="7.19" fill="rgb(255,170,170)"/>
<rect x="94.61" y="178.84" width="1.47" height="7.19" fill="rgb(255,85,85)"/>
<rect x="96.02" y="178.84" width="1.47" height="7.19" fill="rgb(255,170,170)"/>
<rect x="97.42" y="178.84" width="1.47" height="7.19" fill="rgb(175,175,255)"/>
<rect x="98.83" y="178.84" width="1.47" height="7.19" fill="rgb(255,250,250)"/>
<rect x="100.24" y="178.84" width="1.47" height="7.19" fill="rgb(255,85,85)"/>
<rect x="101.64" y="178.84" width="1.47" height="7.19" fill="rgb(255,85,85)"/>
<rect x="103.05" y="178.84" width="1.47" height="7.19" fill="rgb(255,85,85)"/>
<rect x="104.45" y="178.84" width="1.47" height="7.19" fill="rgb(255,170,170)"/>
<rect x="105.86" y="178.84" width="1.47" height="7.19" fill="rgb(175,175,255)"/>
<rect x="107.27" y="178.84" width="1.47" height="7.19" fill="rgb(255,170,170)"/>
<rect x="108.67" y="178.84" width="1.47" height="7.19" fill="rgb(255,0,0)"/>
<rect x="110.08" y="178.84" width="1.47" height="7.19" fill="rgb(255,0,0)"/>
<rect x="111.48" y="178.84" width="1.47" height="7.19" fill="rgb(255,0,0)"/>
<rect x="112.89" y="178.84" width="1.47" height="7.19" fill="rgb(255,85,85)"/>
<rect x="114.29" y="178.84" width="1.47" height="7.19" fill="rgb(255,85,85)"/>
<rect x="18.70" y="185.97" width="1.47" height="7.19" fill="rgb(0,0,255)"/>
<rect x="20.11" y="185.97" width="1.47" height="7.19" fill="rgb(255,250,250)"/>
<rect x="21.51" y="185.97" width="1.47" height="7.19" fill="rgb(175,175,255)"/>
<rect x="22.92" y="185.97" width="1.47" height="7.19" fill="rgb(0,0,255)"/>
<rect x="24.32" y="185.97" width="1.47" height="7.19" fill="rgb(0,0,255)"/>
<rect x="25.73" y="185.97" width="1.47" height="7.19" fill="rgb(255,170,170)"/>
<rect x="27.13" y="185.97" width="1.47" height="7.19" fill="rgb(95,95,255)"/>
<rect x="28.54" y="185.97" width="1.47" height="7.19" fill="rgb(175,175,255)"/>
<rect x="29.95" y="185.97" width="1.47" height="7.19" fill="rgb(0,0,255)"/>
<rect x="31.35" y="185.97" width="1.47" height="7.19" fill="rgb(0,0,255)"/>
<rect x="32.76" y="185.97" width="1.47" height="7.19" fill="rgb(255,170,170)"/>
<rect x="34.16" y="185.97" width="1.47" height="7.19" fill="rgb(95,95,255)"/>
<rect x="35.57" y="185.97" width="1.47" height="7.19" fill="rgb(255,250,250)"/>
<rect x="36.98" y="185.97" width="1.47" height="7.19" fill="rgb(175,175,255)"/>
<rect x="38.38" y="185.97" width="1.47" height="7.19" fill="rgb(255,170,170)"/>
<rect x="39.79" y="185.97" width="1.47" height="7.19" fill="rgb(175,175,255)"/>
<rect x="41.19" y="185.97" width="1.47" height="7.19" fill="rgb(95,95,255)"/>
<rect x="42.60" y="185.97" width="1.47" height="7.19" fill="rgb(255,250,250)"/>
<rect x="44.00" y="185.97" width="1.47" height="7.19" fill="rgb(255,250,250)"/>
<rect x="45.41" y="185.97" width="1.47" height="7.19" fill="rgb(255,250,250)"/>
<rect x="46.82" y="185.97" width="1.47" height="7.19" fill="rgb(175,175,255)"/>
<rect x="48.22" y="185.97" width="1.47" height="7.19" fill="rgb(0,0,255)"/>
<rect x="49.63" y="185.97" width="1.47" height="7.19" fill="rgb(255,250,250)"/>
<rect x="51.03" y="185.97" width="1.47" height="7.19" fill="rgb(255,170,170)"/>
<rect x="52.44" y="185.97" width="1.47" height="7.19" fill="rgb(175,175,255)"/>
<rect x="53.84" y="185.97" width="1.47" height="7.19" fill="rgb(95,95,255)"/>
<rect x="55.25" y="185.97" width="1.47" height="7.19" fill="rgb(255,250,250)"/>
<rect x="56.66" y="185.97" width="1.47" height="7.19" fill="rgb(255,170,170)"/>
<rect x="58.06" y="185.97" width="1.47" height="7.19" fill="rgb(255,250,250)"/>
<rect x="59.47" y="185.97" width="1.47" height="7.19" fill="rgb(175,175,255)"/>
<rect x="60.87" y="185.97" width="1.47" height="7.19" fill="rgb(255,85,85)"/>
<rect x="62.28" y="185.97" width="1.47" height="7.19" fill="rgb(255,85,85)"/>
<rect x="63.69" y="185.97" width="1.47" height="7.19" fill="rgb(255,170,170)"/>
<rect x="65.09" y="185.97" width="1.47" height="7.19" fill="rgb(175,175,255)"/>
<rect x="66.50" y="185.97" width="1.47" height="7.19" fill="rgb(95,95,255)"/>
<rect x="67.90" y="185.97" width="1.47" height="7.19" fill="rgb(175,175,255)"/>
<rect x="69.31" y="185.97" width="1.47" height="7.19" fill="rgb(255,250,250)"/>
<rect x="70.71" y="185.97" width="1.47" height="7.19" fill="rgb(255,85,85)"/>
<rect x="72.12" y="185.97" width="1.47" height="7.19" fill="rgb(255,250,250)"/>
<rect x="73.53" y="185.97" width="1.47" height="7.19" fill="rgb(255,250,250)"/>
<rect x="74.93" y="185.97" width="1.47" height="7.19" fill="rgb(255,170,170)"/>
<rect x="76.34" y="185.97" width="1.47" height="7.19" fill="rgb(255,85,85)"/>
<rect x="77.74" y="185.97" width="1.47" height="7.19" fill="rgb(255,85,85)"/>
<rect x="79.15" y="185.97" width="1.47" height="7.19" fill="rgb(255,250,250)"/>
<rect x="80.56" y="185.97" width="1.47" height="7.19" fill="rgb(255,170,170)"/>
<rect x="81.96" y="185.97" width="1.47" height="7.19" fill="rgb(255,85,85)"/>
<rect x="83.37" y="185.97" width="1.47" height="7.19" fill="rgb(255,85,85)"/>
<rect x="84.77" y="185.97" width="1.47" height="7.19" fill="rgb(255,85,85)"/>
<rect x="86.18" y="185.97" width="1.47" height="7.19" fill="rgb(0,0,255)"/>
<rect x="87.58" y="185.97" width="1.47" height="7.19" fill="rgb(255,85,85)"/>
<rect x="88.99" y="185.97" width="1.47" height="7.19" fill="rgb(255,250,250)"/>
<rect x="90.40" y="185.97" width="1.47" height="7.19" fill="rgb(255,170,170)"/>
<rect x="91.80" y="185.97" width="1.47" height="7.19" fill="rgb(175,175,255)"/>
<rect x="93.21" y="185.97" width="1.47" height="7.19" fill="rgb(255,250,250)"/>
<rect x="94.61" y="185.97" width="1.47" height="7.19" fill="rgb(175,175,255)"/>
<rect x="96.02" y="185.97" width="1.47" height="7.19" fill="rgb(175,175,255)"/>
<rect x="97.42" y="185.97" width="1.47" height="7.19" fill="rgb(175,175,255)"/>
<rect x="98.83" y="185.97" width="1.47" height="7.19" fill="rgb(255,250,250)"/>
<rect x="100.24" y="185.97" width="1.47" height="7.19" fill="rgb(255,170,170)"/>
<rect x="101.64" y="185.97" width="1.47" height="7.19" fill="rgb(255,170,170)"/>
<rect x="103.05" y="185.97" width="1.47" height="7.19" fill="rgb(0,0,255)"/>
<rect x="104.45" y="185.97" width="1.47" height="7.19" fill="rgb(255,170,170)"/>
<rect x="105.86" y="185.97" width="1.47" height="7.19" fill="rgb(255,85,85)"/>
<rect x="107.27" y="185.97" width="1.47" height="7.19" fill="rgb(255,0,0)"/>
<rect x="108.67" y="185.97" width="1.47" height="7.19" fill="rgb(255,0,0)"/>
<rect x="110.08" y="185.97" width="1.47" height="7.19" fill="rgb(255,250,250)"/>
<rect x="111.48" y="185.97" width="1.47" height="7.19" fill="rgb(255,0,0)"/>
<rect x="112.89" y="185.97" width="1.47" height="7.19" fill="rgb(255,0,0)"/>
<rect x="114.29" y="185.97" width="1.47" height="7.19" fill="rgb(255,0,0)"/>
<rect x="18.70" y="193.09" width="1.47" height="7.19" fill="rgb(175,175,255)"/>
<rect x="20.11" y="193.09" width="1.47" height="7.19" fill="rgb(0,0,255)"/>
<rect x="21.51" y="193.09" width="1.47" height="7.19" fill="rgb(255,250,250)"/>
<rect x="22.92" y="193.09" width="1.47" height="7.19" fill="rgb(175,175,255)"/>
<rect x="24.32" y="193.09" width="1.47" height="7.19" fill="rgb(255,250,250)"/>
<rect x="25.73" y="193.09" width="1.47" height="7.19" fill="rgb(0,0,255)"/>
<rect x="27.13" y="193.09" width="1.47" height="7.19" fill="rgb(255,170,170)"/>
<rect x="28.54" y="193.09" width="1.47" height="7.19" fill="rgb(255,250,250)"/>
<rect x="29.95" y="193.09" width="1.47" height="7.19" fill="rgb(0,0,255)"/>
<rect x="31.35" y="193.09" width="1.47" height="7.19" fill="rgb(175,175,255)"/>
<rect x="32.76" y="193.09" width="1.47" height="7.19" fill="rgb(255,250,250)"/>
<rect x="34.16" y="193.09" width="1.47" height="7.19" fill="rgb(0,0,255)"/>
<rect x="35.57" y="193.09" width="1.47" height="7.19" fill="rgb(0,0,255)"/>
<rect x="36.98" y="193.09" width="1.47" height="7.19" fill="rgb(175,175,255)"/>
<rect x="38.38" y="193.09" width="1.47" height="7.19" fill="rgb(175,175,255)"/>
<rect x="39.79" y="193.09" width="1.47" height="7.19" fill="rgb(255,250,250)"/>
<rect x="41.19" y="193.09" width="1.47" height="7.19" fill="rgb(255,0,0)"/>
<rect x="42.60" y="193.09" width="1.47" height="7.19" fill="rgb(0,0,255)"/>
<rect x="44.00" y="193.09" width="1.47" height="7.19" fill="rgb(175,175,255)"/>
<rect x="45.41" y="193.09" width="1.47" height="7.19" fill="rgb(255,250,250)"/>
<rect x="46.82" y="193.09" width="1.47" height="7.19" fill="rgb(0,0,255)"/>
<rect x="48.22" y="193.09" width="1.47" height="7.19" fill="rgb(255,85,85)"/>
<rect x="49.63" y="193.09" width="1.47" height="7.19" fill="rgb(255,170,170)"/>
<rect x="51.03" y="193.09" width="1.47" height="7.19" fill="rgb(255,250,250)"/>
<rect x="52.44" y="193.09" width="1.47" height="7.19" fill="rgb(175,175,255)"/>
<rect x="53.84" y="193.09" width="1.47" height="7.19" fill="rgb(175,175,255)"/>
<rect x="55.25" y="193.09" width="1.47" height="7.19" fill="rgb(255,250,250)"/>
<rect x="56.66" y="193.09" width="1.47" height="7.19" fill="rgb(0,0,255)"/>
<rect x="58.06" y="193.09" width="1.47" height="7.19" fill="rgb(0,0,255)"/>
<rect x="59.47" y="193.09" width="1.47" height="7.19" fill="rgb(255,250,250)"/>
<rect x="60.87" y="193.09" width="1.47" height="7.19" fill="rgb(175,175,255)"/>
<rect x="62.28" y="193.09" width="1.47" height="7.19" fill="rgb(255,170,170)"/>
<rect x="63.69" y="193.09" width="1.47" height="7.19" fill="rgb(255,0,0)"/>
<rect x="65.09" y="193.09" width="1.47" height="7.19" fill="rgb(255,0,0)"/>
<rect x="66.50" y="193.09" width="1.47" height="7.19" fill="rgb(255,170,170)"/>
<rect x="67.90" y="193.09" width="1.47" height="7.19" fill="rgb(255,170,170)"/>
<rect x="69.31" y="193.09" width="1.47" height="7.19" fill="rgb(255,250,250)"/>
<rect x="70.71" y="193.09" width="1.47" height="7.19" fill="rgb(175,175,255)"/>
<rect x="72.12" y="193.09" width="1.47" height="7.19" fill="rgb(255,250,250)"/>
<rect x="73.53" y="193.09" width="1.47" height="7.19" fill="rgb(255,85,85)"/>
<rect x="74.93" y="193.09" width="1.47" height="7.19" fill="rgb(255,250,250)"/>
<rect x="76.34" y="193.09" width="1.47" height="7.19" fill="rgb(0,0,255)"/>
<rect x="77.74" y="193.09" width="1.47" height="7.19" fill="rgb(255,250,250)"/>
<rect x="79.15" y="193.09" width="1.47" height="7.19" fill="rgb(255,170,170)"/>
<rect x="80.56" y="193.09" width="1.47" height="7.19" fill="rgb(255,0,0)"/>
<rect x="81.96" y="193.09" width="1.47" height="7.19" fill="rgb(95,95,255)"/>
<rect x="83.37" y="193.09" width="1.47" height="7.19" fill="rgb(255,250,250)"/>
<rect x="84.77" y="193.09" width="1.47" height="7.19" fill="rgb(255,0,0)"/>
<rect x="86.18" y="193.09" width="1.47" height="7.19" fill="rgb(255,250,250)"/>
<rect x="87.58" y="193.09" width="1.47" height="7.19" fill="rgb(175,175,255)"/>
<rect x="88.99" y="193.09" width="1.47" height="7.19" fill="rgb(255,170,170)"/>
<rect x="90.40" y="193.09" width="1.47" height="7.19" fill="rgb(255,85,85)"/>
<rect x="91.80" y="193.09" width="1.47" height="7.19" fill="rgb(255,250,250)"/>
<rect x="93.21" y="193.09" width="1.47" height="7.19" fill="rgb(255,0,0)"/>
<rect x="94.61" y="193.09" width="1.47" height="7.19" fill="rgb(255,250,250)"/>
<rect x="96.02" y="193.09" width="1.47" height="7.19" fill="rgb(175,175,255)"/>
<rect x="97.42" y="193.09" width="1.47" height="7.19" fill="rgb(255,250,250)"/>
<rect x="98.83" y="193.09" width="1.47" height="7.19" fill="rgb(255,170,170)"/>
<rect x="100.24" y="193.09" width="1.47" height="7.19" fill="rgb(255,170,170)"/>
<rect x="101.64" y="193.09" width="1.47" height="7.19" fill="rgb(255,250,250)"/>
<rect x="103.05" y="193.09" width="1.47" height="7.19" fill="rgb(175,175,255)"/>
<rect x="104.45" y="193.09" width="1.47" height="7.19" fill="rgb(255,170,170)"/>
<rect x="105.86" y="193.09" width="1.47" height="7.19" fill="rgb(255,0,0)"/>
<rect x="107.27" y="193.09" width="1.47" height="7.19" fill="rgb(255,170,170)"/>
<rect x="108.67" y="193.09" width="1.47" height="7.19" fill="rgb(255,85,85)"/>
<rect x="110.08" y="193.09" width="1.47" height="7.19" fill="rgb(255,250,250)"/>
<rect x="111.48" y="193.09" width="1.47" height="7.19" fill="rgb(175,175,255)"/>
<rect x="112.89" y="193.09" width="1.47" height="7.19" fill="rgb(255,0,0)"/>
<rect x="114.29" y="193.09" width="1.47" height="7.19" fill="rgb(255,0,0)"/>
<rect x="18.70" y="200.22" width="1.47" height="7.19" fill="rgb(255,250,250)"/>
<rect x="20.11" y="200.22" width="1.47" height="7.19" fill="rgb(255,170,170)"/>
<rect x="21.51" y="200.22" width="1.47" height="7.19" fill="rgb(0,0,255)"/>
<rect x="22.92" y="200.22" width="1.47" height="7.19" fill="rgb(255,250,250)"/>
<rect x="24.32" y="200.22" width="1.47" height="7.19" fill="rgb(175,175,255)"/>
<rect x="25.73" y="200.22" width="1.47" height="7.19" fill="rgb(255,170,170)"/>
<rect x="27.13" y="200.22" width="1.47" height="7.19" fill="rgb(95,95,255)"/>
<rect x="28.54" y="200.22" width="1.47" height="7.19" fill="rgb(95,95,255)"/>
<rect x="29.95" y="200.22" width="1.47" height="7.19" fill="rgb(255,250,250)"/>
<rect x="31.35" y="200.22" width="1.47" height="7.19" fill="rgb(95,95,255)"/>
<rect x="32.76" y="200.22" width="1.47" height="7.19" fill="rgb(95,95,255)"/>
<rect x="34.16" y="200.22" width="1.47" height="7.19" fill="rgb(255,250,250)"/>
<rect x="35.57" y="200.22" width="1.47" height="7.19" fill="rgb(255,0,0)"/>
<rect x="36.98" y="200.22" width="1.47" height="7.19" fill="rgb(255,250,250)"/>
<rect x="38.38" y="200.22" width="1.47" height="7.19" fill="rgb(255,250,250)"/>
<rect x="39.79" y="200.22" width="1.47" height="7.19" fill="rgb(175,175,255)"/>
<rect x="41.19" y="200.22" width="1.47" height="7.19" fill="rgb(95,95,255)"/>
<rect x="42.60" y="200.22" width="1.47" height="7.19" fill="rgb(255,250,250)"/>
<rect x="44.00" y="200.22" width="1.47" height="7.19" fill="rgb(255,170,170)"/>
<rect x="45.41" y="200.22" width="1.47" height="7.19" fill="rgb(175,175,255)"/>
<rect x="46.82" y="200.22" width="1.47" height="7.19" fill="rgb(255,85,85)"/>
<rect x="48.22" y="200.22" width="1.47" height="7.19" fill="rgb(0,0,255)"/>
<rect x="49.63" y="200.22" width="1.47" height="7.19" fill="rgb(0,0,255)"/>
<rect x="51.03" y="200.22" width="1.47" height="7.19" fill="rgb(175,175,255)"/>
<rect x="52.44" y="200.22" width="1.47" height="7.19" fill="rgb(255,250,250)"/>
<rect x="53.84" y="200.22" width="1.47" height="7.19" fill="rgb(255,170,170)"/>
<rect x="55.25" y="200.22" width="1.47" height="7.19" fill="rgb(175,175,255)"/>
<rect x="56.66" y="200.22" width="1.47" height="7.19" fill="rgb(0,0,255)"/>
<rect x="58.06" y="200.22" width="1.47" height="7.19" fill="rgb(0,0,255)"/>
<rect x="59.47" y="200.22" width="1.47" height="7.19" fill="rgb(175,175,255)"/>
<rect x="60.87" y="200.22" width="1.47" height="7.19" fill="rgb(255,250,250)"/>
<rect x="62.28" y="200.22" width="1.47" height="7.19" fill="rgb(255,170,170)"/>
<rect x="63.69" y="200.22" width="1.47" height="7.19" fill="rgb(255,85,85)"/>
<rect x="65.09" y="200.22" width="1.47" height="7.19" fill="rgb(255,85,85)"/>
<rect x="66.50" y="200.22" width="1.47" height="7.19" fill="rgb(255,170,170)"/>
<rect x="67.90" y="200.22" width="1.47" height="7.19" fill="rgb(175,175,255)"/>
<rect x="69.31" y="200.22" width="1.47" height="7.19" fill="rgb(255,250,250)"/>
<rect x="70.71" y="200.22" width="1.47" height="7.19" fill="rgb(255,0,0)"/>
<rect x="72.12" y="200.22" width="1.47" height="7.19" fill="rgb(255,250,250)"/>
<rect x="73.53" y="200.22" width="1.47" height="7.19" fill="rgb(255,0,0)"/>
<rect x="74.93" y="200.22" width="1.47" height="7.19" fill="rgb(255,250,250)"/>
<rect x="76.34" y="200.22" width="1.47" height="7.19" fill="rgb(0,0,255)"/>
<rect x="77.74" y="200.22" width="1.47" height="7.19" fill="rgb(255,250,250)"/>
<rect x="79.15" y="200.22" width="1.47" height="7.19" fill="rgb(255,250,250)"/>
<rect x="80.56" y="200.22" width="1.47" height="7.19" fill="rgb(95,95,255)"/>
<rect x="81.96" y="200.22" width="1.47" height="7.19" fill="rgb(95,95,255)"/>
<rect x="83.37" y="200.22" width="1.47" height="7.19" fill="rgb(255,250,250)"/>
<rect x="84.77" y="200.22" width="1.47" height="7.19" fill="rgb(255,250,250)"/>
<rect x="86.18" y="200.22" width="1.47" height="7.19" fill="rgb(255,0,0)"/>
<rect x="87.58" y="200.22" width="1.47" height="7.19" fill="rgb(255,85,85)"/>
<rect x="88.99" y="200.22" width="1.47" height="7.19" fill="rgb(255,170,170)"/>
<rect x="90.40" y="200.22" width="1.47" height="7.19" fill="rgb(0,0,255)"/>
<rect x="91.80" y="200.22" width="1.47" height="7.19" fill="rgb(255,250,250)"/>
<rect x="93.21" y="200.22" width="1.47" height="7.19" fill="rgb(255,85,85)"/>
<rect x="94.61" y="200.22" width="1.47" height="7.19" fill="rgb(255,170,170)"/>
<rect x="96.02" y="200.22" width="1.47" height="7.19" fill="rgb(255,170,170)"/>
<rect x="97.42" y="200.22" width="1.47" height="7.19" fill="rgb(175,175,255)"/>
<rect x="98.83" y="200.22" width="1.47" height="7.19" fill="rgb(255,170,170)"/>
<rect x="100.24" y="200.22" width="1.47" height="7.19" fill="rgb(255,170,170)"/>
<rect x="101.64" y="200.22" width="1.47" height="7.19" fill="rgb(255,85,85)"/>
<rect x="103.05" y="200.22" width="1.47" height="7.19" fill="rgb(255,250,250)"/>
<rect x="104.45" y="200.22" width="1.47" height="7.19" fill="rgb(255,85,85)"/>
<rect x="105.86" y="200.22" width="1.47" height="7.19" fill="rgb(255,250,250)"/>
<rect x="107.27" y="200.22" width="1.47" height="7.19" fill="rgb(255,170,170)"/>
<rect x="108.67" y="200.22" width="1.47" height="7.19" fill="rgb(255,0,0)"/>
<rect x="110.08" y="200.22" width="1.47" height="7.19" fill="rgb(255,250,250)"/>
<rect x="111.48" y="200.22" width="1.47" height="7.19" fill="rgb(255,0,0)"/>
<rect x="112.89" y="200.22" width="1.47" height="7.19" fill="rgb(255,250,250)"/>
<rect x="114.29" y="200.22" width="1.47" height="7.19" fill="rgb(255,85,85)"/>
<rect x="18.70" y="207.35" width="1.47" height="7.19" fill="rgb(255,250,250)"/>
<rect x="20.11" y="207.35" width="1.47" height="7.19" fill="rgb(0,0,255)"/>
<rect x="21.51" y="207.35" width="1.47" height="7.19" fill="rgb(0,0,255)"/>
<rect x="22.92" y="207.35" width="1.47" height="7.19" fill="rgb(255,250,250)"/>
<rect x="24.32" y="207.35" width="1.47" height="7.19" fill="rgb(0,0,255)"/>
<rect x="25.73" y="207.35" width="1.47" height="7.19" fill="rgb(175,175,255)"/>
<rect x="27.13" y="207.35" width="1.47" height="7.19" fill="rgb(255,250,250)"/>
<rect x="28.54" y="207.35" width="1.47" height="7.19" fill="rgb(0,0,255)"/>
<rect x="29.95" y="207.35" width="1.47" height="7.19" fill="rgb(0,0,255)"/>
<rect x="31.35" y="207.35" width="1.47" height="7.19" fill="rgb(175,175,255)"/>
<rect x="32.76" y="207.35" width="1.47" height="7.19" fill="rgb(95,95,255)"/>
<rect x="34.16" y="207.35" width="1.47" height="7.19" fill="rgb(255,250,250)"/>
<rect x="35.57" y="207.35" width="1.47" height="7.19" fill="rgb(255,85,85)"/>
<rect x="36.98" y="207.35" width="1.47" height="7.19" fill="rgb(0,0,255)"/>
<rect x="38.38" y="207.35" width="1.47" height="7.19" fill="rgb(255,250,250)"/>
<rect x="39.79" y="207.35" width="1.47" height="7.19" fill="rgb(175,175,255)"/>
<rect x="41.19" y="207.35" width="1.47" height="7.19" fill="rgb(255,250,250)"/>
<rect x="42.60" y="207.35" width="1.47" height="7.19" fill="rgb(175,175,255)"/>
<rect x="44.00" y="207.35" width="1.47" height="7.19" fill="rgb(255,0,0)"/>
<rect x="45.41" y="207.35" width="1.47" height="7.19" fill="rgb(175,175,255)"/>
<rect x="46.82" y="207.35" width="1.47" height="7.19" fill="rgb(95,95,255)"/>
<rect x="48.22" y="207.35" width="1.47" height="7.19" fill="rgb(95,95,255)"/>
<rect x="49.63" y="207.35" width="1.47" height="7.19" fill="rgb(175,175,255)"/>
<rect x="51.03" y="207.35" width="1.47" height="7.19" fill="rgb(255,250,250)"/>
<rect x="52.44" y="207.35" width="1.47" height="7.19" fill="rgb(175,175,255)"/>
<rect x="53.84" y="207.35" width="1.47" height="7.19" fill="rgb(255,250,250)"/>
<rect x="55.25" y="207.35" width="1.47" height="7.19" fill="rgb(175,175,255)"/>
<rect x="56.66" y="207.35" width="1.47" height="7.19" fill="rgb(0,0,255)"/>
<rect x="58.06" y="207.35" width="1.47" height="7.19" fill="rgb(255,250,250)"/>
<rect x="59.47" y="207.35" width="1.47" height="7.19" fill="rgb(175,175,255)"/>
<rect x="60.87" y="207.35" width="1.47" height="7.19" fill="rgb(255,250,250)"/>
<rect x="62.28" y="207.35" width="1.47" height="7.19" fill="rgb(0,0,255)"/>
<rect x="63.69" y="207.35" width="1.47" height="7.19" fill="rgb(255,250,250)"/>
<rect x="65.09" y="207.35" width="1.47" height="7.19" fill="rgb(255,0,0)"/>
<rect x="66.50" y="207.35" width="1.47" height="7.19" fill="rgb(255,0,0)"/>
<rect x="67.90" y="207.35" width="1.47" height="7.19" fill="rgb(255,170,170)"/>
<rect x="69.31" y="207.35" width="1.47" height="7.19" fill="rgb(255,250,250)"/>
<rect x="70.71" y="207.35" width="1.47" height="7.19" fill="rgb(255,0,0)"/>
<rect x="72.12" y="207.35" width="1.47" height="7.19" fill="rgb(255,250,250)"/>
<rect x="73.53" y="207.35" width="1.47" height="7.19" fill="rgb(255,170,170)"/>
<rect x="74.93" y="207.35" width="1.47" height="7.19" fill="rgb(175,175,255)"/>
<rect x="76.34" y="207.35" width="1.47" height="7.19" fill="rgb(95,95,255)"/>
<rect x="77.74" y="207.35" width="1.47" height="7.19" fill="rgb(95,95,255)"/>
<rect x="79.15" y="207.35" width="1.47" height="7.19" fill="rgb(255,250,250)"/>
<rect x="80.56" y="207.35" width="1.47" height="7.19" fill="rgb(255,170,170)"/>
<rect x="81.96" y="207.35" width="1.47" height="7.19" fill="rgb(95,95,255)"/>
<rect x="83.37" y="207.35" width="1.47" height="7.19" fill="rgb(255,85,85)"/>
<rect x="84.77" y="207.35" width="1.47" height="7.19" fill="rgb(255,85,85)"/>
<rect x="86.18" y="207.35" width="1.47" height="7.19" fill="rgb(255,0,0)"/>
<rect x="87.58" y="207.35" width="1.47" height="7.19" fill="rgb(95,95,255)"/>
<rect x="88.99" y="207.35" width="1.47" height="7.19" fill="rgb(255,250,250)"/>
<rect x="90.40" y="207.35" width="1.47" height="7.19" fill="rgb(255,0,0)"/>
<rect x="91.80" y="207.35" width="1.47" height="7.19" fill="rgb(255,250,250)"/>
<rect x="93.21" y="207.35" width="1.47" height="7.19" fill="rgb(255,0,0)"/>
<rect x="94.61" y="207.35" width="1.47" height="7.19" fill="rgb(255,250,250)"/>
<rect x="96.02" y="207.35" width="1.47" height="7.19" fill="rgb(175,175,255)"/>
<rect x="97.42" y="207.35" width="1.47" height="7.19" fill="rgb(255,170,170)"/>
<rect x="98.83" y="207.35" width="1.47" height="7.19" fill="rgb(255,170,170)"/>
<rect x="100.24" y="207.35" width="1.47" height="7.19" fill="rgb(255,170,170)"/>
<rect x="101.64" y="207.35" width="1.47" height="7.19" fill="rgb(255,170,170)"/>
<rect x="103.05" y="207.35" width="1.47" height="7.19" fill="rgb(255,85,85)"/>
<rect x="104.45" y="207.35" width="1.47" height="7.19" fill="rgb(255,170,170)"/>
<rect x="105.86" y="207.35" width="1.47" height="7.19" fill="rgb(255,250,250)"/>
<rect x="107.27" y="207.35" width="1.47" height="7.19" fill="rgb(255,0,0)"/>
<rect x="108.67" y="207.35" width="1.47" height="7.19" fill="rgb(255,0,0)"/>
<rect x="110.08" y="207.35" width="1.47" height="7.19" fill="rgb(255,0,0)"/>
<rect x="111.48" y="207.35" width="1.47" height="7.19" fill="rgb(255,0,0)"/>
<rect x="112.89" y="207.35" width="1.47" height="7.19" fill="rgb(255,0,0)"/>
<rect x="114.29" y="207.35" width="1.47" height="7.19" fill="rgb(255,85,85)"/>
<rect x="18.70" y="214.47" width="1.47" height="7.19" fill="rgb(255,170,170)"/>
<rect x="20.11" y="214.47" width="1.47" height="7.19" fill="rgb(95,95,255)"/>
<rect x="21.51" y="214.47" width="1.47" height="7.19" fill="rgb(0,0,255)"/>
<rect x="22.92" y="214.47" width="1.47" height="7.19" fill="rgb(0,0,255)"/>
<rect x="24.32" y="214.47" width="1.47" height="7.19" fill="rgb(0,0,255)"/>
<rect x="25.73" y="214.47" width="1.47" height="7.19" fill="rgb(175,175,255)"/>
<rect x="27.13" y="214.47" width="1.47" height="7.19" fill="rgb(95,95,255)"/>
<rect x="28.54" y="214.47" width="1.47" height="7.19" fill="rgb(0,0,255)"/>
<rect x="29.95" y="214.47" width="1.47" height="7.19" fill="rgb(0,0,255)"/>
<rect x="31.35" y="214.47" width="1.47" height="7.19" fill="rgb(0,0,255)"/>
<rect x="32.76" y="214.47" width="1.47" height="7.19" fill="rgb(175,175,255)"/>
<rect x="34.16" y="214.47" width="1.47" height="7.19" fill="rgb(95,95,255)"/>
<rect x="35.57" y="214.47" width="1.47" height="7.19" fill="rgb(255,170,170)"/>
<rect x="36.98" y="214.47" width="1.47" height="7.19" fill="rgb(175,175,255)"/>
<rect x="38.38" y="214.47" width="1.47" height="7.19" fill="rgb(255,85,85)"/>
<rect x="39.79" y="214.47" width="1.47" height="7.19" fill="rgb(95,95,255)"/>
<rect x="41.19" y="214.47" width="1.47" height="7.19" fill="rgb(95,95,255)"/>
<rect x="42.60" y="214.47" width="1.47" height="7.19" fill="rgb(95,95,255)"/>
<rect x="44.00" y="214.47" width="1.47" height="7.19" fill="rgb(95,95,255)"/>
<rect x="45.41" y="214.47" width="1.47" height="7.19" fill="rgb(95,95,255)"/>
<rect x="46.82" y="214.47" width="1.47" height="7.19" fill="rgb(175,175,255)"/>
<rect x="48.22" y="214.47" width="1.47" height="7.19" fill="rgb(95,95,255)"/>
<rect x="49.63" y="214.47" width="1.47" height="7.19" fill="rgb(95,95,255)"/>
<rect x="51.03" y="214.47" width="1.47" height="7.19" fill="rgb(175,175,255)"/>
<rect x="52.44" y="214.47" width="1.47" height="7.19" fill="rgb(255,85,85)"/>
<rect x="53.84" y="214.47" width="1.47" height="7.19" fill="rgb(175,175,255)"/>
<rect x="55.25" y="214.47" width="1.47" height="7.19" fill="rgb(175,175,255)"/>
<rect x="56.66" y="214.47" width="1.47" height="7.19" fill="rgb(175,175,255)"/>
<rect x="58.06" y="214.47" width="1.47" height="7.19" fill="rgb(255,0,0)"/>
<rect x="59.47" y="214.47" width="1.47" height="7.19" fill="rgb(255,250,250)"/>
<rect x="60.87" y="214.47" width="1.47" height="7.19" fill="rgb(255,170,170)"/>
<rect x="62.28" y="214.47" width="1.47" height="7.19" fill="rgb(255,250,250)"/>
<rect x="63.69" y="214.47" width="1.47" height="7.19" fill="rgb(175,175,255)"/>
<rect x="65.09" y="214.47" width="1.47" height="7.19" fill="rgb(255,170,170)"/>
<rect x="66.50" y="214.47" width="1.47" height="7.19" fill="rgb(255,85,85)"/>
<rect x="67.90" y="214.47" width="1.47" height="7.19" fill="rgb(0,0,255)"/>
<rect x="69.31" y="214.47" width="1.47" height="7.19" fill="rgb(255,250,250)"/>
<rect x="70.71" y="214.47" width="1.47" height="7.19" fill="rgb(255,170,170)"/>
<rect x="72.12" y="214.47" width="1.47" height="7.19" fill="rgb(255,170,170)"/>
<rect x="73.53" y="214.47" width="1.47" height="7.19" fill="rgb(255,170,170)"/>
<rect x="74.93" y="214.47" width="1.47" height="7.19" fill="rgb(255,250,250)"/>
<rect x="76.34" y="214.47" width="1.47" height="7.19" fill="rgb(255,250,250)"/>
<rect x="77.74" y="214.47" width="1.47" height="7.19" fill="rgb(255,250,250)"/>
<rect x="79.15" y="214.47" width="1.47" height="7.19" fill="rgb(255,170,170)"/>
<rect x="80.56" y="214.47" width="1.47" height="7.19" fill="rgb(255,250,250)"/>
<rect x="81.96" y="214.47" width="1.47" height="7.19" fill="rgb(175,175,255)"/>
<rect x="83.37" y="214.47" width="1.47" height="7.19" fill="rgb(255,85,85)"/>
<rect x="84.77" y="214.47" width="1.47" height="7.19" fill="rgb(255,170,170)"/>
<rect x="86.18" y="214.47" width="1.47" height="7.19" fill="rgb(255,0,0)"/>
<rect x="87.58" y="214.47" width="1.47" height="7.19" fill="rgb(255,250,250)"/>
<rect x="88.99" y="214.47" width="1.47" height="7.19" fill="rgb(255,0,0)"/>
<rect x="90.40" y="214.47" width="1.47" height="7.19" fill="rgb(255,0,0)"/>
<rect x="91.80" y="214.47" width="1.47" height="7.19" fill="rgb(255,250,250)"/>
<rect x="93.21" y="214.47" width="1.47" height="7.19" fill="rgb(255,0,0)"/>
<rect x="94.61" y="214.47" width="1.47" height="7.19" fill="rgb(255,250,250)"/>
<rect x="96.02" y="214.47" width="1.47" height="7.19" fill="rgb(95,95,255)"/>
<rect x="97.42" y="214.47" width="1.47" height="7.19" fill="rgb(255,250,250)"/>
<rect x="98.83" y="214.47" width="1.47" height="7.19" fill="rgb(255,170,170)"/>
<rect x="100.24" y="214.47" width="1.47" height="7.19" fill="rgb(255,85,85)"/>
<rect x="101.64" y="214.47" width="1.47" height="7.19" fill="rgb(255,0,0)"/>
<rect x="103.05" y="214.47" width="1.47" height="7.19" fill="rgb(255,0,0)"/>
<rect x="104.45" y="214.47" width="1.47" height="7.19" fill="rgb(255,85,85)"/>
<rect x="105.86" y="214.47" width="1.47" height="7.19" fill="rgb(255,250,250)"/>
<rect x="107.27" y="214.47" width="1.47" height="7.19" fill="rgb(255,0,0)"/>
<rect x="108.67" y="214.47" width="1.47" height="7.19" fill="rgb(255,0,0)"/>
<rect x="110.08" y="214.47" width="1.47" height="7.19" fill="rgb(255,0,0)"/>
<rect x="111.48" y="214.47" width="1.47" height="7.19" fill="rgb(255,0,0)"/>
<rect x="112.89" y="214.47" width="1.47" height="7.19" fill="rgb(255,0,0)"/>
<rect x="114.29" y="214.47" width="1.47" height="7.19" fill="rgb(255,0,0)"/>
</g>
<text x="118.70" y="42.95" font-size="6.25" stroke="#231f20" stroke-width="0.18">ZNF215</text>
<text x="118.70" y="50.05" font-size="6.25" stroke="#231f20" stroke-width="0.18">CCDC88C</text>
<text x="118.70" y="57.15" font-size="6.25" stroke="#231f20" stroke-width="0.18">SPC25</text>
<text x="118.70" y="64.25" font-size="6.25" stroke="#231f20" stroke-width="0.18">UTP4</text>
<text x="118.70" y="71.35" font-size="6.25" stroke="#231f20" stroke-width="0.18">XAF1</text>
<text x="118.70" y="78.45" font-size="6.25" stroke="#231f20" stroke-width="0.18">IFI44</text>
<text x="118.70" y="85.55" font-size="6.25" stroke="#231f20" stroke-width="0.18">CPVL</text>
<text x="118.70" y="92.65" font-size="6.25" stroke="#231f20" stroke-width="0.18">PHACTR2</text>
<text x="118.70" y="99.75" font-size="6.25" stroke="#231f20" stroke-width="0.18">C1RL</text>
<text x="118.70" y="106.85" font-size="6.25" stroke="#231f20" stroke-width="0.18">EPB41L3</text>
<text x="118.70" y="113.95" font-size="6.25" stroke="#231f20" stroke-width="0.18">CSF1R</text>
<text x="118.70" y="121.05" font-size="6.25" stroke="#231f20" stroke-width="0.18">VSIR</text>
<text x="118.70" y="128.15" font-size="6.25" stroke="#231f20" stroke-width="0.18">THEMIS2</text>
<text x="118.70" y="135.25" font-size="6.25" stroke="#231f20" stroke-width="0.18">SERPING1</text>
<text x="118.70" y="142.35" font-size="6.25" stroke="#231f20" stroke-width="0.18">CTSB</text>
<text x="118.70" y="149.45" font-size="6.25" stroke="#231f20" stroke-width="0.18">ULK1</text>
<text x="118.70" y="156.55" font-size="6.25" stroke="#231f20" stroke-width="0.18">CLU</text>
<text x="118.70" y="163.65" font-size="6.25" stroke="#231f20" stroke-width="0.18">MEGF6</text>
<text x="118.70" y="170.75" font-size="6.25" stroke="#231f20" stroke-width="0.18">NOL4L</text>
<text x="118.70" y="177.85" font-size="6.25" stroke="#231f20" stroke-width="0.18">TCIM</text>
<text x="118.70" y="184.95" font-size="6.25" stroke="#231f20" stroke-width="0.18">MEIS1</text>
<text x="118.70" y="192.05" font-size="6.25" stroke="#231f20" stroke-width="0.18">TPSAB1</text>
<text x="118.70" y="199.15" font-size="6.25" stroke="#231f20" stroke-width="0.18">CILP</text>
<text x="118.70" y="206.25" font-size="6.25" stroke="#231f20" stroke-width="0.18">LRP11</text>
<text x="118.70" y="213.35" font-size="6.25" stroke="#231f20" stroke-width="0.18">PLAT</text>
<text x="118.70" y="220.45" font-size="6.25" stroke="#231f20" stroke-width="0.18">FBXO32</text>
<text x="118.70" y="27.30" font-size="5.8" stroke="#231f20" stroke-width="0.05" textLength="31" lengthAdjust="spacingAndGlyphs">Cell of origin</text>
<text x="118.70" y="34.00" font-size="5.8" stroke="#231f20" stroke-width="0.05" textLength="31" lengthAdjust="spacingAndGlyphs">Classification</text>
<defs><linearGradient id="cb" x1="0" y1="0" x2="0" y2="1"><stop offset="0" stop-color="#ff0000"/><stop offset="0.36" stop-color="#ff0000"/><stop offset="0.49" stop-color="#ffffff"/><stop offset="0.52" stop-color="#ffffff"/><stop offset="0.64" stop-color="#0000ff"/><stop offset="1" stop-color="#0000ff"/></linearGradient></defs>
<rect x="160.90" y="36.90" width="5.80" height="85.80" fill="url(#cb)"/>
<text x="169.80" y="48.70" font-size="7.3" stroke="#231f20" stroke-width="0.18">4</text>
<text x="169.80" y="65.80" font-size="7.3" stroke="#231f20" stroke-width="0.18">2</text>
<text x="169.80" y="82.60" font-size="7.3" stroke="#231f20" stroke-width="0.18">0</text>
<text x="169.80" y="99.60" font-size="7.3" stroke="#231f20" stroke-width="0.18">−2</text>
<text x="169.80" y="116.40" font-size="7.3" stroke="#231f20" stroke-width="0.18">−4</text>
<text x="180.70" y="38.70" font-size="7.6" stroke="#231f20" stroke-width="0.18">COO</text>
<rect x="181.10" y="43.60" width="8.00" height="8.20" fill="#ebb7c0"/>
<rect x="181.10" y="51.80" width="8.00" height="8.20" fill="#a9d6e4"/>
<rect x="181.10" y="60.00" width="8.00" height="8.30" fill="#bebebe"/>
<text x="191.90" y="50.10" font-size="7.3" stroke="#231f20" stroke-width="0.18">ABC</text>
<text x="191.90" y="58.20" font-size="7.3" stroke="#231f20" stroke-width="0.18">GCB</text>
<text x="191.90" y="66.40" font-size="7.3" stroke="#231f20" stroke-width="0.18">Unclassified</text>
<text x="181.10" y="84.20" font-size="7.3" stroke="#231f20" stroke-width="0.18">Classification</text>
<rect x="181.10" y="89.00" width="8.00" height="8.20" fill="#62a043"/>
<rect x="181.10" y="97.20" width="8.00" height="8.30" fill="#a3001f"/>
<text x="191.90" y="95.70" font-size="7.4" stroke="#231f20" stroke-width="0.18">Classifier-negative</text>
<text x="191.90" y="104.00" font-size="7.4" stroke="#231f20" stroke-width="0.18">Classifier-positive</text>
<line x1="309.70" y1="24.10" x2="309.70" y2="128.00" stroke="#000" stroke-width="1.2"/>
<line x1="309.10" y1="127.40" x2="489.80" y2="127.40" stroke="#000" stroke-width="1.2"/>
<line x1="305.60" y1="127.40" x2="309.70" y2="127.40" stroke="#000" stroke-width="1"/>
<text x="303.80" y="130.25" font-size="7.9" text-anchor="end" stroke="#231f20" stroke-width="0.18">0.0</text>
<line x1="305.60" y1="107.28" x2="309.70" y2="107.28" stroke="#000" stroke-width="1"/>
<text x="303.80" y="110.13" font-size="7.9" text-anchor="end" stroke="#231f20" stroke-width="0.18">0.2</text>
<line x1="305.60" y1="87.16" x2="309.70" y2="87.16" stroke="#000" stroke-width="1"/>
<text x="303.80" y="90.01" font-size="7.9" text-anchor="end" stroke="#231f20" stroke-width="0.18">0.4</text>
<line x1="305.60" y1="67.04" x2="309.70" y2="67.04" stroke="#000" stroke-width="1"/>
<text x="303.80" y="69.89" font-size="7.9" text-anchor="end" stroke="#231f20" stroke-width="0.18">0.6</text>
<line x1="305.60" y1="46.92" x2="309.70" y2="46.92" stroke="#000" stroke-width="1"/>
<text x="303.80" y="49.77" font-size="7.9" text-anchor="end" stroke="#231f20" stroke-width="0.18">0.8</text>
<line x1="305.60" y1="26.80" x2="309.70" y2="26.80" stroke="#000" stroke-width="1"/>
<text x="303.80" y="29.65" font-size="7.9" text-anchor="end" stroke="#231f20" stroke-width="0.18">1.0</text>
<line x1="309.80" y1="127.40" x2="309.80" y2="131.00" stroke="#000" stroke-width="1"/>
<text x="309.80" y="140.25" font-size="7.9" text-anchor="middle" stroke="#231f20" stroke-width="0.18">0</text>
<line x1="362.97" y1="127.40" x2="362.97" y2="131.00" stroke="#000" stroke-width="1"/>
<text x="362.97" y="140.25" font-size="7.9" text-anchor="middle" stroke="#231f20" stroke-width="0.18">50</text>
<line x1="416.13" y1="127.40" x2="416.13" y2="131.00" stroke="#000" stroke-width="1"/>
<text x="416.13" y="140.25" font-size="7.9" text-anchor="middle" stroke="#231f20" stroke-width="0.18">100</text>
<line x1="469.29" y1="127.40" x2="469.29" y2="131.00" stroke="#000" stroke-width="1"/>
<text x="469.29" y="140.25" font-size="7.9" text-anchor="middle" stroke="#231f20" stroke-width="0.18">150</text>
<text x="388.80" y="153.30" font-size="9.0" stroke="#231f20" stroke-width="0.18" textLength="22.2" lengthAdjust="spacingAndGlyphs">Weeks</text>
<text x="-32.5" y="0" font-size="9.2" stroke="#231f20" stroke-width="0.18" textLength="65" lengthAdjust="spacingAndGlyphs" transform="translate(286.3,75.6) rotate(-90)">Survival probability</text>
<line x1="418.30" y1="27.60" x2="425.90" y2="27.60" stroke="#84bc62" stroke-width="1.3"/>
<text x="429.00" y="30.20" font-size="7.4" stroke="#231f20" stroke-width="0.18">Classifier-negative</text>
<line x1="418.30" y1="38.90" x2="425.90" y2="38.90" stroke="#c23a66" stroke-width="1.3"/>
<text x="429.00" y="41.50" font-size="7.4" stroke="#231f20" stroke-width="0.18">Classifier-positive</text>
<path d="M309.70 26.80 L311.20 26.80 L312.30 26.80 L312.30 28.50 L313.20 28.50 L313.20 30.30 L313.90 30.30 L313.90 32.50 L314.40 32.50 L314.40 34.70 L314.80 34.70 L314.80 37.50 L315.20 37.50 L315.20 41.10 L315.50 41.10 L315.50 44.50 L315.90 44.50 L315.90 50.70 L316.10 50.70 L316.10 60.00 L316.40 60.00 L316.40 75.00 L316.70 75.00 L316.70 91.20 L317.80 91.20 L317.80 93.80 L318.90 93.80 L318.90 94.70 L320.50 94.70 L320.50 97.40 L324.10 97.40 L324.10 100.10 L325.90 100.10 L325.90 112.10 L332.30 112.10 L332.30 115.40 L360.10 115.40 L360.10 118.60 L399.10 118.60 L399.10 123.00" fill="none" stroke="#84bc62" stroke-width="1.1"/>
<path d="M309.70 26.80 L309.90 26.80 L309.90 33.10 L312.00 33.10 L312.00 36.60 L313.00 36.60 L313.00 39.50 L313.60 39.50 L313.60 42.00 L314.40 42.00 L314.40 44.00 L314.90 44.00 L314.90 47.00 L315.40 47.00 L315.40 50.00 L315.90 50.00 L315.90 53.00 L316.30 53.00 L316.30 56.50 L316.70 56.50 L316.70 60.00 L317.20 60.00 L317.20 63.00 L317.40 63.00 L317.40 65.10 L324.30 65.10 L324.30 71.50 L326.30 71.50 L326.30 75.40 L337.50 75.40 L337.50 84.20 L342.40 84.20 L342.40 89.00 L359.70 89.00 L359.70 98.40 L382.60 98.40 L382.60 106.00 L404.80 106.00 L404.80 116.60 L489.40 116.60 L489.40 116.60" fill="none" stroke="#c23a66" stroke-width="1.2"/>
<line x1="315.90" y1="51.40" x2="315.90" y2="54.00" stroke="#c23a66" stroke-width="1.3"/>
<line x1="323.10" y1="63.80" x2="323.10" y2="66.40" stroke="#c23a66" stroke-width="1.3"/>
<line x1="334.30" y1="74.10" x2="334.30" y2="76.70" stroke="#c23a66" stroke-width="1.3"/>
<line x1="342.00" y1="82.90" x2="342.00" y2="85.50" stroke="#c23a66" stroke-width="1.3"/>
<line x1="369.10" y1="97.10" x2="369.10" y2="99.70" stroke="#c23a66" stroke-width="1.3"/>
<line x1="379.00" y1="97.10" x2="379.00" y2="99.70" stroke="#c23a66" stroke-width="1.3"/>
<line x1="397.70" y1="104.70" x2="397.70" y2="107.30" stroke="#c23a66" stroke-width="1.3"/>
<line x1="359.70" y1="91.70" x2="359.70" y2="94.30" stroke="#c23a66" stroke-width="1.3"/>
<line x1="372.50" y1="117.30" x2="372.50" y2="119.90" stroke="#84bc62" stroke-width="1.2"/>
<line x1="399.10" y1="122.20" x2="399.10" y2="124.80" stroke="#84bc62" stroke-width="1.2"/>
<line x1="489.40" y1="115.30" x2="489.40" y2="117.90" stroke="#84bc62" stroke-width="1.2"/>
<rect x="286.90" y="165.20" width="225.90" height="23.40" fill="#2c4a82"/>
<rect x="286.90" y="190.00" width="225.90" height="14.20" fill="#c9cbde"/>
<rect x="286.90" y="205.60" width="225.90" height="14.10" fill="#e5e6f0"/>
<rect x="342.20" y="165.20" width="1.20" height="54.50" fill="#ffffff"/>
<rect x="399.10" y="165.20" width="1.20" height="54.50" fill="#ffffff"/>
<rect x="456.30" y="165.20" width="1.20" height="54.50" fill="#ffffff"/>
<text x="298.00" y="174.90" font-size="8.0" font-weight="bold" fill="#ffffff" textLength="33.9" lengthAdjust="spacingAndGlyphs">Classifier</text>
<text x="298.00" y="184.80" font-size="8.0" font-weight="bold" fill="#ffffff" textLength="22.4" lengthAdjust="spacingAndGlyphs">status</text>
<text x="351.10" y="174.90" font-size="8.0" font-weight="bold" fill="#ffffff" textLength="41.3" lengthAdjust="spacingAndGlyphs">Number of</text>
<text x="351.10" y="184.80" font-size="8.0" font-weight="bold" fill="#ffffff" textLength="30.4" lengthAdjust="spacingAndGlyphs">patients</text>
<text x="408.00" y="174.90" font-size="8.0" font-weight="bold" fill="#ffffff" textLength="40.8" lengthAdjust="spacingAndGlyphs">Number of</text>
<text x="408.00" y="184.80" font-size="8.0" font-weight="bold" fill="#ffffff" textLength="24.7" lengthAdjust="spacingAndGlyphs">events</text>
<text x="462.70" y="174.90" font-size="8.0" font-weight="bold" fill="#ffffff" textLength="44.2" lengthAdjust="spacingAndGlyphs">Median PFS</text>
<text x="462.70" y="184.80" font-size="8.0" font-weight="bold" fill="#ffffff" textLength="28.8" lengthAdjust="spacingAndGlyphs">(weeks)</text>
<text x="298.00" y="199.85" font-size="8.2" stroke="#231f20" stroke-width="0.18">Negative</text>
<text x="351.10" y="199.85" font-size="8.2" stroke="#231f20" stroke-width="0.18">37</text>
<text x="408.00" y="199.85" font-size="8.2" stroke="#231f20" stroke-width="0.18">32</text>
<text x="462.70" y="199.85" font-size="8.2" stroke="#231f20" stroke-width="0.18">6.6</text>
<text x="298.00" y="215.55" font-size="8.2" stroke="#231f20" stroke-width="0.18">Positive</text>
<text x="351.10" y="215.55" font-size="8.2" stroke="#231f20" stroke-width="0.18">32</text>
<text x="408.00" y="215.55" font-size="8.2" stroke="#231f20" stroke-width="0.18">22</text>
<text x="462.70" y="215.55" font-size="8.2" stroke="#231f20" stroke-width="0.18">26.6</text>
<text x="286.9" y="233.6" font-size="7.9" stroke="#231f20" stroke-width="0.18"><tspan font-style="italic">P</tspan>-value = 0.0096</text>
<line x1="49.50" y1="254.70" x2="49.50" y2="356.30" stroke="#000" stroke-width="1.2"/>
<line x1="48.90" y1="355.70" x2="234.70" y2="355.70" stroke="#000" stroke-width="1.2"/>
<line x1="45.40" y1="355.70" x2="49.50" y2="355.70" stroke="#000" stroke-width="1"/>
<text x="43.20" y="358.55" font-size="7.9" text-anchor="end" stroke="#231f20" stroke-width="0.18">0.0</text>
<line x1="45.40" y1="335.98" x2="49.50" y2="335.98" stroke="#000" stroke-width="1"/>
<text x="43.20" y="338.83" font-size="7.9" text-anchor="end" stroke="#231f20" stroke-width="0.18">0.2</text>
<line x1="45.40" y1="316.26" x2="49.50" y2="316.26" stroke="#000" stroke-width="1"/>
<text x="43.20" y="319.11" font-size="7.9" text-anchor="end" stroke="#231f20" stroke-width="0.18">0.4</text>
<line x1="45.40" y1="296.54" x2="49.50" y2="296.54" stroke="#000" stroke-width="1"/>
<text x="43.20" y="299.39" font-size="7.9" text-anchor="end" stroke="#231f20" stroke-width="0.18">0.6</text>
<line x1="45.40" y1="276.82" x2="49.50" y2="276.82" stroke="#000" stroke-width="1"/>
<text x="43.20" y="279.67" font-size="7.9" text-anchor="end" stroke="#231f20" stroke-width="0.18">0.8</text>
<line x1="45.40" y1="257.10" x2="49.50" y2="257.10" stroke="#000" stroke-width="1"/>
<text x="43.20" y="259.95" font-size="7.9" text-anchor="end" stroke="#231f20" stroke-width="0.18">1.0</text>
<line x1="59.80" y1="355.70" x2="59.80" y2="359.30" stroke="#000" stroke-width="1"/>
<text x="59.80" y="368.75" font-size="8.1" text-anchor="middle" stroke="#231f20" stroke-width="0.18">0</text>
<line x1="83.30" y1="355.70" x2="83.30" y2="359.30" stroke="#000" stroke-width="1"/>
<text x="83.30" y="368.75" font-size="8.1" text-anchor="middle" stroke="#231f20" stroke-width="0.18">10</text>
<line x1="106.80" y1="355.70" x2="106.80" y2="359.30" stroke="#000" stroke-width="1"/>
<text x="106.80" y="368.75" font-size="8.1" text-anchor="middle" stroke="#231f20" stroke-width="0.18">20</text>
<line x1="130.30" y1="355.70" x2="130.30" y2="359.30" stroke="#000" stroke-width="1"/>
<text x="130.30" y="368.75" font-size="8.1" text-anchor="middle" stroke="#231f20" stroke-width="0.18">30</text>
<line x1="153.80" y1="355.70" x2="153.80" y2="359.30" stroke="#000" stroke-width="1"/>
<text x="153.80" y="368.75" font-size="8.1" text-anchor="middle" stroke="#231f20" stroke-width="0.18">40</text>
<line x1="177.30" y1="355.70" x2="177.30" y2="359.30" stroke="#000" stroke-width="1"/>
<text x="177.30" y="368.75" font-size="8.1" text-anchor="middle" stroke="#231f20" stroke-width="0.18">50</text>
<line x1="200.80" y1="355.70" x2="200.80" y2="359.30" stroke="#000" stroke-width="1"/>
<text x="200.80" y="368.75" font-size="8.1" text-anchor="middle" stroke="#231f20" stroke-width="0.18">60</text>
<line x1="224.30" y1="355.70" x2="224.30" y2="359.30" stroke="#000" stroke-width="1"/>
<text x="224.30" y="368.75" font-size="8.1" text-anchor="middle" stroke="#231f20" stroke-width="0.18">70</text>
<text x="129.60" y="381.70" font-size="9.0" stroke="#231f20" stroke-width="0.18" textLength="25.5" lengthAdjust="spacingAndGlyphs">Months</text>
<text x="-32.2" y="0" font-size="9.2" stroke="#231f20" stroke-width="0.18" textLength="64.4" lengthAdjust="spacingAndGlyphs" transform="translate(25.3,305.4) rotate(-90)">Survival probability</text>
<line x1="162.80" y1="258.00" x2="170.90" y2="258.00" stroke="#84bc62" stroke-width="1.3"/>
<text x="174.00" y="260.60" font-size="7.4" stroke="#231f20" stroke-width="0.18">Classifier-negative</text>
<line x1="162.80" y1="269.20" x2="170.90" y2="269.20" stroke="#c23a66" stroke-width="1.3"/>
<text x="174.00" y="271.80" font-size="7.4" stroke="#231f20" stroke-width="0.18">Classifier-positive</text>
<path d="M60.60 257.20 L60.98 257.20 L60.98 261.48 L61.36 261.48 L61.36 265.76 L61.74 265.76 L61.74 270.04 L62.12 270.04 L62.12 274.32 L62.51 274.32 L62.51 278.61 L62.89 278.61 L62.89 282.89 L63.27 282.89 L63.27 287.17 L63.65 287.17 L63.65 291.45 L64.03 291.45 L64.03 295.73 L64.41 295.73 L64.41 300.01 L64.79 300.01 L64.79 304.29 L65.17 304.29 L65.17 308.57 L65.56 308.57 L65.56 312.86 L65.94 312.86 L65.94 317.14 L66.32 317.14 L66.32 321.42 L66.70 321.42 L66.70 325.70 L72.90 325.70 L72.90 330.20 L75.20 330.20 L75.20 334.60 L92.00 334.60 L92.00 338.50 L97.70 338.50 L97.70 342.70 L218.80 342.70 L218.80 355.70" fill="none" stroke="#84bc62" stroke-width="1.1"/>
<path d="M60.60 257.20 L60.60 257.20 L60.60 267.00 L61.90 267.00 L61.90 277.00 L62.70 277.00 L62.70 287.10 L63.70 287.10 L63.70 296.40 L65.20 296.40 L65.20 306.30 L68.10 306.30 L68.10 325.70 L73.90 325.70 L73.90 335.90 L84.60 335.90 L84.60 345.90 L167.30 345.90 L167.30 355.70" fill="none" stroke="#c23a66" stroke-width="1.2"/>
<rect x="29.20" y="393.80" width="225.80" height="23.00" fill="#2c4a82"/>
<rect x="29.20" y="418.20" width="225.80" height="14.80" fill="#c9cbde"/>
<rect x="29.20" y="434.50" width="225.80" height="14.00" fill="#e5e6f0"/>
<rect x="84.70" y="393.80" width="1.20" height="54.70" fill="#ffffff"/>
<rect x="141.90" y="393.80" width="1.20" height="54.70" fill="#ffffff"/>
<rect x="198.15" y="393.80" width="1.20" height="54.70" fill="#ffffff"/>
<text x="40.30" y="403.60" font-size="8.0" font-weight="bold" fill="#ffffff" textLength="33.9" lengthAdjust="spacingAndGlyphs">Classifier</text>
<text x="40.30" y="412.80" font-size="8.0" font-weight="bold" fill="#ffffff" textLength="22.4" lengthAdjust="spacingAndGlyphs">status</text>
<text x="93.40" y="403.60" font-size="8.0" font-weight="bold" fill="#ffffff" textLength="41.3" lengthAdjust="spacingAndGlyphs">Number of</text>
<text x="93.40" y="412.80" font-size="8.0" font-weight="bold" fill="#ffffff" textLength="30.4" lengthAdjust="spacingAndGlyphs">patients</text>
<text x="150.00" y="403.60" font-size="8.0" font-weight="bold" fill="#ffffff" textLength="40.8" lengthAdjust="spacingAndGlyphs">Number of</text>
<text x="150.00" y="412.80" font-size="8.0" font-weight="bold" fill="#ffffff" textLength="24.7" lengthAdjust="spacingAndGlyphs">events</text>
<text x="205.00" y="403.60" font-size="8.0" font-weight="bold" fill="#ffffff" textLength="44.2" lengthAdjust="spacingAndGlyphs">Median EFS</text>
<text x="205.00" y="412.80" font-size="8.0" font-weight="bold" fill="#ffffff" textLength="33.5" lengthAdjust="spacingAndGlyphs">(months)</text>
<text x="40.30" y="428.75" font-size="8.2" stroke="#231f20" stroke-width="0.18">Negative</text>
<text x="93.40" y="428.75" font-size="8.2" stroke="#231f20" stroke-width="0.18">23</text>
<text x="150.00" y="428.75" font-size="8.2" stroke="#231f20" stroke-width="0.18">21</text>
<text x="205.00" y="428.75" font-size="8.2" stroke="#231f20" stroke-width="0.18">1.97</text>
<text x="40.30" y="443.95" font-size="8.2" stroke="#231f20" stroke-width="0.18">Positive</text>
<text x="93.40" y="443.95" font-size="8.2" stroke="#231f20" stroke-width="0.18">10</text>
<text x="150.00" y="443.95" font-size="8.2" stroke="#231f20" stroke-width="0.18">10</text>
<text x="205.00" y="443.95" font-size="8.2" stroke="#231f20" stroke-width="0.18">2.66</text>
<text x="29.7" y="462.1" font-size="7.9" stroke="#231f20" stroke-width="0.18"><tspan font-style="italic">P</tspan>-value = 0.734</text>
<rect x="1.50" y="1.50" width="517.00" height="468.00" fill="none" stroke="#d6d6d6" stroke-width="1"/>
<rect x="0.50" y="0.50" width="519.00" height="470.00" fill="none" stroke="#000" stroke-width="1"/>
</g></svg></body></html>
